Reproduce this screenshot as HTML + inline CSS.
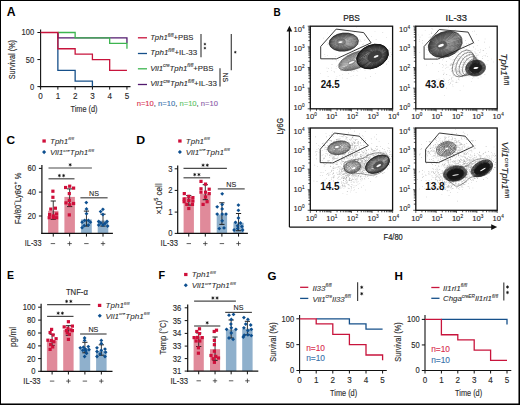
<!DOCTYPE html>
<html><head><meta charset="utf-8"><style>
html,body{margin:0;padding:0;background:#fff;}
body{width:520px;height:405px;overflow:hidden;position:relative;}
svg{position:absolute;left:0;top:0;font-family:"Liberation Sans",sans-serif;}
</style></head><body>
<svg width="520" height="405" viewBox="0 0 520 405">
<rect x="0" y="0" width="520" height="405" fill="#fff"/>
<text x="6.8" y="16" font-size="12.2" text-anchor="start" font-weight="bold" font-style="normal" fill="#000">A</text>
<line x1="40.6" y1="29.6" x2="40.6" y2="87.15" stroke="#111" stroke-width="1.1"/>
<line x1="37.4" y1="32.5" x2="40.6" y2="32.5" stroke="#111" stroke-width="1"/>
<line x1="37.4" y1="59.55" x2="40.6" y2="59.55" stroke="#111" stroke-width="1"/>
<line x1="37.4" y1="86.6" x2="40.6" y2="86.6" stroke="#111" stroke-width="1"/>
<line x1="39.4" y1="86.6" x2="130.5" y2="86.6" stroke="#111" stroke-width="1.1"/>
<line x1="40.6" y1="86.6" x2="40.6" y2="89.6" stroke="#111" stroke-width="1"/>
<line x1="57.87" y1="86.6" x2="57.87" y2="89.6" stroke="#111" stroke-width="1"/>
<line x1="75.14" y1="86.6" x2="75.14" y2="89.6" stroke="#111" stroke-width="1"/>
<line x1="92.41" y1="86.6" x2="92.41" y2="89.6" stroke="#111" stroke-width="1"/>
<line x1="109.68" y1="86.6" x2="109.68" y2="89.6" stroke="#111" stroke-width="1"/>
<line x1="126.95" y1="86.6" x2="126.95" y2="89.6" stroke="#111" stroke-width="1"/>
<text x="34.2" y="35.45" font-size="8.6" text-anchor="end" font-weight="normal" font-style="normal" fill="#2a2a2a" stroke="#2a2a2a" stroke-width="0.13" textLength="12.63" lengthAdjust="spacingAndGlyphs">100</text>
<text x="34.2" y="62.55" font-size="8.6" text-anchor="end" font-weight="normal" font-style="normal" fill="#2a2a2a" stroke="#2a2a2a" stroke-width="0.13" textLength="8.42" lengthAdjust="spacingAndGlyphs">50</text>
<text x="34.2" y="89.55" font-size="8.6" text-anchor="end" font-weight="normal" font-style="normal" fill="#2a2a2a" stroke="#2a2a2a" stroke-width="0.13" textLength="4.21" lengthAdjust="spacingAndGlyphs">0</text>
<text x="40.6" y="99.1" font-size="8.5" text-anchor="middle" font-weight="normal" font-style="normal" fill="#2a2a2a" stroke="#2a2a2a" stroke-width="0.13" textLength="4.49" lengthAdjust="spacingAndGlyphs">0</text>
<text x="57.87" y="99.1" font-size="8.5" text-anchor="middle" font-weight="normal" font-style="normal" fill="#2a2a2a" stroke="#2a2a2a" stroke-width="0.13" textLength="4.49" lengthAdjust="spacingAndGlyphs">1</text>
<text x="75.14" y="99.1" font-size="8.5" text-anchor="middle" font-weight="normal" font-style="normal" fill="#2a2a2a" stroke="#2a2a2a" stroke-width="0.13" textLength="4.49" lengthAdjust="spacingAndGlyphs">2</text>
<text x="92.41" y="99.1" font-size="8.5" text-anchor="middle" font-weight="normal" font-style="normal" fill="#2a2a2a" stroke="#2a2a2a" stroke-width="0.13" textLength="4.49" lengthAdjust="spacingAndGlyphs">3</text>
<text x="109.68" y="99.1" font-size="8.5" text-anchor="middle" font-weight="normal" font-style="normal" fill="#2a2a2a" stroke="#2a2a2a" stroke-width="0.13" textLength="4.49" lengthAdjust="spacingAndGlyphs">4</text>
<text x="126.95" y="99.1" font-size="8.5" text-anchor="middle" font-weight="normal" font-style="normal" fill="#2a2a2a" stroke="#2a2a2a" stroke-width="0.13" textLength="4.49" lengthAdjust="spacingAndGlyphs">5</text>
<text x="84" y="111.6" font-size="9" text-anchor="middle" font-weight="normal" font-style="normal" fill="#2a2a2a" stroke="#2a2a2a" stroke-width="0.13" textLength="27" lengthAdjust="spacingAndGlyphs">Time (d)</text>
<text x="15.3" y="59.6" font-size="9" text-anchor="middle" font-weight="normal" font-style="normal" fill="#2a2a2a" stroke="#2a2a2a" stroke-width="0.13" textLength="39.3" lengthAdjust="spacingAndGlyphs" transform="rotate(-90 15.3 59.6)">Survival (%)</text>
<path d="M57.87 32.5 H57.87 V70.37 H75.14 V81.19 H92.41 V86.6" stroke="#16508a" stroke-width="1.3" fill="none"/>
<path d="M57.87 32.5 H57.87 V37.91 H126.95 V43.32" stroke="#521a6e" stroke-width="1.3" fill="none"/>
<path d="M57.87 32.5 H75.14 V37.91 H109.68 V43.32 H126.95 V48.73" stroke="#3db550" stroke-width="1.3" fill="none"/>
<path d="M40.6 32.5 H57.87 V48.73 H75.14 V54.14 H92.41 V59.55 H109.68 V70.37 H126.95" stroke="#c8143c" stroke-width="1.3" fill="none"/>
<line x1="137.9" y1="37.8" x2="147" y2="37.8" stroke="#c8143c" stroke-width="1.3"/>
<text x="150.2" y="40.2" font-size="7.6" text-anchor="start" font-weight="normal" font-style="normal" fill="#2a2a2a" stroke="#2a2a2a" stroke-width="0.1" textLength="43.2" lengthAdjust="spacingAndGlyphs"><tspan font-size="7.6" font-style="italic" dy="-0">Tph1</tspan><tspan font-size="4.56" font-style="italic" dy="-3.42">fl/fl</tspan><tspan font-size="7.6" font-style="normal" dy="3.42">+PBS</tspan></text>
<line x1="137.9" y1="53.5" x2="147" y2="53.5" stroke="#16508a" stroke-width="1.3"/>
<text x="150.2" y="55.4" font-size="7.6" text-anchor="start" font-weight="normal" font-style="normal" fill="#2a2a2a" stroke="#2a2a2a" stroke-width="0.1" textLength="47" lengthAdjust="spacingAndGlyphs"><tspan font-size="7.6" font-style="italic" dy="-0">Tph1</tspan><tspan font-size="4.56" font-style="italic" dy="-3.42">fl/fl</tspan><tspan font-size="7.6" font-style="normal" dy="3.42">+IL-33</tspan></text>
<line x1="137.9" y1="68.8" x2="147" y2="68.8" stroke="#3db550" stroke-width="1.3"/>
<text x="150.2" y="70.8" font-size="7.6" text-anchor="start" font-weight="normal" font-style="normal" fill="#2a2a2a" stroke="#2a2a2a" stroke-width="0.1" textLength="63.3" lengthAdjust="spacingAndGlyphs"><tspan font-size="7.6" font-style="italic" dy="-0">Vil1</tspan><tspan font-size="4.56" font-style="italic" dy="-3.42">cre</tspan><tspan font-size="7.6" font-style="italic" dy="3.42">Tph1</tspan><tspan font-size="4.56" font-style="italic" dy="-3.42">fl/fl</tspan><tspan font-size="7.6" font-style="normal" dy="3.42">+PBS</tspan></text>
<line x1="137.9" y1="84.5" x2="147" y2="84.5" stroke="#521a6e" stroke-width="1.3"/>
<text x="150.2" y="86.1" font-size="7.6" text-anchor="start" font-weight="normal" font-style="normal" fill="#2a2a2a" stroke="#2a2a2a" stroke-width="0.1" textLength="66.7" lengthAdjust="spacingAndGlyphs"><tspan font-size="7.6" font-style="italic" dy="-0">Vil1</tspan><tspan font-size="4.56" font-style="italic" dy="-3.42">cre</tspan><tspan font-size="7.6" font-style="italic" dy="3.42">Tph1</tspan><tspan font-size="4.56" font-style="italic" dy="-3.42">fl/fl</tspan><tspan font-size="7.6" font-style="normal" dy="3.42">+IL-33</tspan></text>
<line x1="201" y1="34" x2="201" y2="57.3" stroke="#444" stroke-width="1.2"/>
<path d="M204.03 43.6L205.77 44.6M204.9 43.1L204.9 45.1M205.77 43.6L204.03 44.6" stroke="#111" stroke-width="0.5" stroke-linecap="round"/><circle cx="204.9" cy="44.1" r="0.62" fill="#111"/>
<path d="M204.03 47.6L205.77 48.6M204.9 47.1L204.9 49.1M205.77 47.6L204.03 48.6" stroke="#111" stroke-width="0.5" stroke-linecap="round"/><circle cx="204.9" cy="48.1" r="0.62" fill="#111"/>
<line x1="231.3" y1="34" x2="231.3" y2="70.3" stroke="#444" stroke-width="1.2"/>
<path d="M234.43 51.7L236.17 52.7M235.3 51.2L235.3 53.2M236.17 51.7L234.43 52.7" stroke="#111" stroke-width="0.5" stroke-linecap="round"/><circle cx="235.3" cy="52.2" r="0.62" fill="#111"/>
<line x1="220" y1="68.2" x2="220" y2="86.4" stroke="#444" stroke-width="1.2"/>
<text x="223.2" y="77.4" font-size="7.4" text-anchor="middle" font-weight="normal" font-style="normal" fill="#222" stroke="#222" stroke-width="0.13" textLength="9.3" lengthAdjust="spacingAndGlyphs" transform="rotate(90 223.2 77.4)">NS</text>
<text x="136.7" y="106" font-size="8" text-anchor="start" font-weight="normal" font-style="normal" fill="#222" stroke="#222" stroke-width="0.12" textLength="81.3" lengthAdjust="spacingAndGlyphs"><tspan fill="#d9304f" stroke="#d9304f">n=10</tspan><tspan fill="#333" stroke="#333">, </tspan><tspan fill="#3a74ad" stroke="#3a74ad">n=10</tspan><tspan fill="#333" stroke="#333">, </tspan><tspan fill="#5cc463" stroke="#5cc463">n=10</tspan><tspan fill="#333" stroke="#333">, </tspan><tspan fill="#8a5aa8" stroke="#8a5aa8">n=10</tspan></text>
<text x="273.6" y="15.8" font-size="10.8" text-anchor="start" font-weight="bold" font-style="normal" fill="#000" textLength="7.2" lengthAdjust="spacingAndGlyphs">B</text>
<text x="351.5" y="20.8" font-size="9.2" text-anchor="middle" font-weight="normal" font-style="normal" fill="#222" stroke="#222" stroke-width="0.22" textLength="16.6" lengthAdjust="spacingAndGlyphs">PBS</text>
<text x="456.3" y="20.8" font-size="9.2" text-anchor="middle" font-weight="normal" font-style="normal" fill="#222" stroke="#222" stroke-width="0.22" textLength="21.4" lengthAdjust="spacingAndGlyphs">IL-33</text>
<line x1="289.4" y1="29" x2="289.4" y2="227.1" stroke="#111" stroke-width="1.2"/>
<line x1="289.4" y1="227.1" x2="492" y2="227.1" stroke="#111" stroke-width="1.2"/>
<polygon points="289.4,25.8 286.6,31.6 292.2,31.6" fill="#111"/>
<polygon points="497.2,227.1 491.2,224.3 491.2,229.9" fill="#111"/>
<text x="282.6" y="126.3" font-size="9.2" text-anchor="middle" font-weight="normal" font-style="normal" fill="#222" stroke="#222" stroke-width="0.2" textLength="16.5" lengthAdjust="spacingAndGlyphs" transform="rotate(-90 282.6 126.3)">Ly6G</text>
<text x="393.2" y="240.3" font-size="9.4" text-anchor="middle" font-weight="normal" font-style="normal" fill="#222" stroke="#222" stroke-width="0.2" textLength="19.2" lengthAdjust="spacingAndGlyphs">F4/80</text>
<text x="501.4" y="69.2" font-size="8.4" text-anchor="middle" font-weight="normal" font-style="normal" fill="#222" stroke="#222" stroke-width="0.12" textLength="32" lengthAdjust="spacingAndGlyphs" transform="rotate(90 501.4 69.2)"><tspan font-size="8.4" font-style="italic" dy="-0">Tph1</tspan><tspan font-size="6.3" font-style="normal" dy="-2.69">fl/fl</tspan></text>
<text x="502.4" y="170" font-size="8.6" text-anchor="middle" font-weight="normal" font-style="normal" fill="#222" stroke="#222" stroke-width="0.12" textLength="56.5" lengthAdjust="spacingAndGlyphs" transform="rotate(90 502.4 170)"><tspan font-size="8.6" font-style="italic" dy="-0">Vil1</tspan><tspan font-size="6.19" font-style="normal" dy="-2.75">cre</tspan><tspan font-size="8.6" font-style="italic" dy="2.75">Tph1</tspan><tspan font-size="6.19" font-style="normal" dy="-2.75">fl/fl</tspan></text>
<path fill="#5a5a5a" opacity="0.4" d="M359.5 64.9h0.6v0.6h-0.6zM357.8 59.3h0.6v0.6h-0.6zM347.6 64.2h0.6v0.6h-0.6zM379.6 56.1h0.6v0.6h-0.6zM378.0 55.4h0.6v0.6h-0.6zM368.3 58.8h0.6v0.6h-0.6zM339.5 75.5h0.6v0.6h-0.6zM370.8 60.2h0.6v0.6h-0.6zM332.3 58.8h0.6v0.6h-0.6zM347.6 62.3h0.6v0.6h-0.6zM366.4 57.9h0.6v0.6h-0.6zM368.0 52.7h0.6v0.6h-0.6zM367.6 60.7h0.6v0.6h-0.6zM356.7 75.1h0.6v0.6h-0.6zM373.4 64.4h0.6v0.6h-0.6zM350.9 58.9h0.6v0.6h-0.6zM356.6 61.4h0.6v0.6h-0.6zM372.0 57.8h0.6v0.6h-0.6zM352.9 56.5h0.6v0.6h-0.6zM357.5 71.0h0.6v0.6h-0.6zM350.7 66.4h0.6v0.6h-0.6zM364.4 47.8h0.6v0.6h-0.6zM366.1 68.2h0.6v0.6h-0.6zM331.3 70.0h0.6v0.6h-0.6zM358.3 55.3h0.6v0.6h-0.6zM369.2 56.6h0.6v0.6h-0.6zM342.4 74.2h0.6v0.6h-0.6zM374.4 62.1h0.6v0.6h-0.6zM384.3 53.7h0.6v0.6h-0.6zM360.4 50.9h0.6v0.6h-0.6zM369.5 52.3h0.6v0.6h-0.6zM352.0 54.5h0.6v0.6h-0.6zM346.3 62.4h0.6v0.6h-0.6zM375.8 39.1h0.6v0.6h-0.6zM341.0 70.3h0.6v0.6h-0.6zM384.9 55.1h0.6v0.6h-0.6zM327.2 55.0h0.6v0.6h-0.6zM365.4 53.1h0.6v0.6h-0.6zM348.0 73.1h0.6v0.6h-0.6zM378.8 54.4h0.6v0.6h-0.6zM366.8 61.3h0.6v0.6h-0.6zM387.3 54.5h0.6v0.6h-0.6zM371.1 60.4h0.6v0.6h-0.6zM342.1 77.7h0.6v0.6h-0.6zM377.6 57.7h0.6v0.6h-0.6zM331.1 67.7h0.6v0.6h-0.6zM369.7 43.2h0.6v0.6h-0.6zM361.9 67.7h0.6v0.6h-0.6zM346.8 78.3h0.6v0.6h-0.6zM369.8 55.7h0.6v0.6h-0.6zM368.5 62.3h0.6v0.6h-0.6zM366.8 66.7h0.6v0.6h-0.6zM351.1 61.3h0.6v0.6h-0.6zM377.5 53.9h0.6v0.6h-0.6zM351.4 71.4h0.6v0.6h-0.6zM382.6 48.3h0.6v0.6h-0.6zM341.2 67.4h0.6v0.6h-0.6zM359.0 59.0h0.6v0.6h-0.6zM380.1 44.9h0.6v0.6h-0.6zM377.4 44.2h0.6v0.6h-0.6zM352.0 68.8h0.6v0.6h-0.6zM381.0 58.8h0.6v0.6h-0.6zM367.5 58.9h0.6v0.6h-0.6zM365.8 62.8h0.6v0.6h-0.6zM360.1 62.9h0.6v0.6h-0.6zM370.5 56.6h0.6v0.6h-0.6zM374.8 59.1h0.6v0.6h-0.6zM354.7 60.1h0.6v0.6h-0.6zM364.2 66.1h0.6v0.6h-0.6zM358.0 64.5h0.6v0.6h-0.6zM382.5 32.3h0.6v0.6h-0.6zM346.0 68.3h0.6v0.6h-0.6zM368.5 59.2h0.6v0.6h-0.6zM357.3 66.8h0.6v0.6h-0.6zM364.8 54.9h0.6v0.6h-0.6zM353.5 62.7h0.6v0.6h-0.6zM358.5 60.9h0.6v0.6h-0.6zM320.3 73.2h0.6v0.6h-0.6zM373.9 46.4h0.6v0.6h-0.6zM363.5 66.6h0.6v0.6h-0.6zM378.6 64.5h0.6v0.6h-0.6zM335.8 67.9h0.6v0.6h-0.6zM358.6 66.1h0.6v0.6h-0.6zM371.2 36.0h0.6v0.6h-0.6zM374.4 44.1h0.6v0.6h-0.6zM368.2 46.2h0.6v0.6h-0.6zM367.7 66.7h0.6v0.6h-0.6zM360.3 62.1h0.6v0.6h-0.6zM374.2 56.1h0.6v0.6h-0.6zM364.7 70.5h0.6v0.6h-0.6zM376.8 51.8h0.6v0.6h-0.6zM374.9 52.8h0.6v0.6h-0.6zM365.8 63.8h0.6v0.6h-0.6zM367.0 62.8h0.6v0.6h-0.6zM335.4 59.4h0.6v0.6h-0.6zM368.6 50.1h0.6v0.6h-0.6zM342.9 56.6h0.6v0.6h-0.6zM382.7 57.3h0.6v0.6h-0.6zM381.4 45.1h0.6v0.6h-0.6zM359.0 52.6h0.6v0.6h-0.6zM377.5 65.7h0.6v0.6h-0.6zM352.9 75.5h0.6v0.6h-0.6zM376.2 52.9h0.6v0.6h-0.6zM336.4 80.9h0.6v0.6h-0.6zM359.0 56.7h0.6v0.6h-0.6zM369.0 60.3h0.6v0.6h-0.6zM381.5 44.4h0.6v0.6h-0.6zM382.8 62.8h0.6v0.6h-0.6zM383.1 50.1h0.6v0.6h-0.6zM353.6 71.1h0.6v0.6h-0.6zM364.0 60.1h0.6v0.6h-0.6zM382.4 49.8h0.6v0.6h-0.6zM326.9 71.3h0.6v0.6h-0.6zM336.6 76.4h0.6v0.6h-0.6zM365.1 54.1h0.6v0.6h-0.6zM364.0 65.5h0.6v0.6h-0.6zM366.6 68.1h0.6v0.6h-0.6zM363.8 67.1h0.6v0.6h-0.6zM388.3 61.5h0.6v0.6h-0.6zM354.3 69.7h0.6v0.6h-0.6zM331.3 64.2h0.6v0.6h-0.6zM335.7 78.7h0.6v0.6h-0.6zM343.7 67.3h0.6v0.6h-0.6zM359.1 61.0h0.6v0.6h-0.6zM353.8 65.1h0.6v0.6h-0.6zM388.7 49.6h0.6v0.6h-0.6zM372.5 63.3h0.6v0.6h-0.6zM355.8 53.0h0.6v0.6h-0.6zM356.6 70.3h0.6v0.6h-0.6zM336.0 66.0h0.6v0.6h-0.6zM379.0 59.1h0.6v0.6h-0.6zM364.2 65.2h0.6v0.6h-0.6zM361.4 51.4h0.6v0.6h-0.6zM337.1 65.2h0.6v0.6h-0.6zM374.2 50.8h0.6v0.6h-0.6zM346.6 60.4h0.6v0.6h-0.6zM339.0 68.4h0.6v0.6h-0.6zM345.5 69.4h0.6v0.6h-0.6zM327.8 76.3h0.6v0.6h-0.6zM347.4 51.2h0.6v0.6h-0.6zM372.0 53.9h0.6v0.6h-0.6zM326.6 67.7h0.6v0.6h-0.6zM365.1 55.3h0.6v0.6h-0.6zM375.5 60.2h0.6v0.6h-0.6zM372.7 58.1h0.6v0.6h-0.6zM383.5 56.3h0.6v0.6h-0.6zM363.2 43.8h0.6v0.6h-0.6zM378.7 63.1h0.6v0.6h-0.6zM356.4 58.7h0.6v0.6h-0.6zM386.2 37.0h0.6v0.6h-0.6zM375.3 72.9h0.6v0.6h-0.6zM350.0 70.0h0.6v0.6h-0.6zM389.7 47.9h0.6v0.6h-0.6zM372.7 62.5h0.6v0.6h-0.6zM348.3 64.9h0.6v0.6h-0.6zM368.5 63.6h0.6v0.6h-0.6zM361.0 58.9h0.6v0.6h-0.6zM346.0 63.8h0.6v0.6h-0.6zM375.5 55.3h0.6v0.6h-0.6zM347.1 59.7h0.6v0.6h-0.6zM364.7 39.4h0.6v0.6h-0.6zM372.5 59.4h0.6v0.6h-0.6zM388.1 52.7h0.6v0.6h-0.6zM362.4 63.8h0.6v0.6h-0.6zM335.9 78.4h0.6v0.6h-0.6zM365.0 53.5h0.6v0.6h-0.6zM386.4 63.8h0.6v0.6h-0.6zM339.4 64.1h0.6v0.6h-0.6zM366.8 59.4h0.6v0.6h-0.6zM353.5 56.1h0.6v0.6h-0.6zM340.8 58.4h0.6v0.6h-0.6zM389.9 56.2h0.6v0.6h-0.6zM391.1 54.3h0.6v0.6h-0.6zM349.7 66.9h0.6v0.6h-0.6zM328.0 68.1h0.6v0.6h-0.6zM362.5 63.7h0.6v0.6h-0.6zM350.9 63.6h0.6v0.6h-0.6zM369.8 59.7h0.6v0.6h-0.6zM372.0 57.5h0.6v0.6h-0.6zM359.3 67.1h0.6v0.6h-0.6zM360.6 54.3h0.6v0.6h-0.6zM352.7 63.7h0.6v0.6h-0.6zM360.8 61.7h0.6v0.6h-0.6zM362.5 61.1h0.6v0.6h-0.6zM356.7 52.6h0.6v0.6h-0.6zM371.0 64.3h0.6v0.6h-0.6zM368.0 56.2h0.6v0.6h-0.6zM366.1 51.1h0.6v0.6h-0.6zM334.0 71.8h0.6v0.6h-0.6zM350.1 70.4h0.6v0.6h-0.6zM339.0 49.4h0.6v0.6h-0.6zM350.7 76.5h0.6v0.6h-0.6zM352.7 53.4h0.6v0.6h-0.6zM352.0 68.0h0.6v0.6h-0.6zM369.8 58.2h0.6v0.6h-0.6zM385.9 55.7h0.6v0.6h-0.6zM363.3 64.0h0.6v0.6h-0.6zM389.1 56.4h0.6v0.6h-0.6zM374.3 46.8h0.6v0.6h-0.6zM361.7 65.6h0.6v0.6h-0.6zM360.4 68.7h0.6v0.6h-0.6zM373.2 62.3h0.6v0.6h-0.6zM365.5 77.8h0.6v0.6h-0.6zM379.8 51.2h0.6v0.6h-0.6zM370.1 76.3h0.6v0.6h-0.6zM359.2 67.7h0.6v0.6h-0.6zM376.6 54.2h0.6v0.6h-0.6zM345.2 68.2h0.6v0.6h-0.6zM370.3 65.2h0.6v0.6h-0.6zM373.7 55.5h0.6v0.6h-0.6zM376.1 58.4h0.6v0.6h-0.6zM365.2 59.1h0.6v0.6h-0.6zM360.2 65.9h0.6v0.6h-0.6zM344.7 62.2h0.6v0.6h-0.6zM358.2 50.5h0.6v0.6h-0.6zM350.3 49.6h0.6v0.6h-0.6zM353.4 67.8h0.6v0.6h-0.6zM370.3 56.3h0.6v0.6h-0.6zM354.8 52.2h0.6v0.6h-0.6zM390.5 52.4h0.6v0.6h-0.6zM375.9 47.7h0.6v0.6h-0.6zM354.5 49.3h0.6v0.6h-0.6zM376.0 61.4h0.6v0.6h-0.6zM333.7 71.0h0.6v0.6h-0.6zM366.7 44.8h0.6v0.6h-0.6zM332.1 64.0h0.6v0.6h-0.6zM349.0 54.7h0.6v0.6h-0.6zM363.1 61.4h0.6v0.6h-0.6zM373.2 60.8h0.6v0.6h-0.6zM387.3 58.6h0.6v0.6h-0.6zM341.2 64.6h0.6v0.6h-0.6zM343.4 59.4h0.6v0.6h-0.6zM360.8 60.5h0.6v0.6h-0.6zM365.1 46.8h0.6v0.6h-0.6zM343.6 67.3h0.6v0.6h-0.6zM358.2 59.2h0.6v0.6h-0.6zM359.1 55.4h0.6v0.6h-0.6zM373.3 58.1h0.6v0.6h-0.6zM358.9 56.2h0.6v0.6h-0.6zM352.3 43.4h0.6v0.6h-0.6zM347.5 66.1h0.6v0.6h-0.6zM340.2 70.3h0.6v0.6h-0.6zM360.6 50.2h0.6v0.6h-0.6zM357.5 59.5h0.6v0.6h-0.6zM370.4 61.2h0.6v0.6h-0.6zM359.2 54.7h0.6v0.6h-0.6zM359.7 60.4h0.6v0.6h-0.6zM373.7 57.5h0.6v0.6h-0.6zM347.7 55.5h0.6v0.6h-0.6zM354.5 57.4h0.6v0.6h-0.6zM345.2 65.9h0.6v0.6h-0.6zM355.0 63.6h0.6v0.6h-0.6zM368.7 54.2h0.6v0.6h-0.6zM378.7 54.2h0.6v0.6h-0.6z"/>
<path fill="#5a5a5a" opacity="0.35" d="M356.3 27.4h0.6v0.6h-0.6zM335.7 45.7h0.6v0.6h-0.6zM350.6 60.4h0.6v0.6h-0.6zM347.5 53.0h0.6v0.6h-0.6zM352.4 50.6h0.6v0.6h-0.6zM349.6 42.9h0.6v0.6h-0.6zM349.6 36.5h0.6v0.6h-0.6zM357.0 36.9h0.6v0.6h-0.6zM346.7 58.8h0.6v0.6h-0.6zM341.5 44.1h0.6v0.6h-0.6zM356.8 44.2h0.6v0.6h-0.6zM335.1 45.8h0.6v0.6h-0.6zM350.4 49.0h0.6v0.6h-0.6zM335.5 56.3h0.6v0.6h-0.6zM362.3 44.1h0.6v0.6h-0.6zM347.0 41.0h0.6v0.6h-0.6zM359.6 39.1h0.6v0.6h-0.6zM351.4 40.6h0.6v0.6h-0.6zM336.4 49.0h0.6v0.6h-0.6zM358.7 43.9h0.6v0.6h-0.6zM336.5 49.7h0.6v0.6h-0.6zM343.5 46.2h0.6v0.6h-0.6zM360.8 51.9h0.6v0.6h-0.6zM338.3 60.0h0.6v0.6h-0.6zM344.0 49.5h0.6v0.6h-0.6zM336.9 43.7h0.6v0.6h-0.6zM324.8 56.5h0.6v0.6h-0.6zM359.0 35.5h0.6v0.6h-0.6zM327.4 32.7h0.6v0.6h-0.6zM356.9 40.8h0.6v0.6h-0.6zM343.3 41.8h0.6v0.6h-0.6zM342.7 36.4h0.6v0.6h-0.6zM344.3 33.9h0.6v0.6h-0.6zM343.2 46.2h0.6v0.6h-0.6zM349.1 42.4h0.6v0.6h-0.6zM334.1 45.1h0.6v0.6h-0.6zM338.7 55.0h0.6v0.6h-0.6zM352.4 43.2h0.6v0.6h-0.6zM338.8 39.1h0.6v0.6h-0.6zM333.7 41.5h0.6v0.6h-0.6zM347.2 47.6h0.6v0.6h-0.6zM350.3 58.7h0.6v0.6h-0.6zM336.2 44.1h0.6v0.6h-0.6zM374.7 30.9h0.6v0.6h-0.6zM338.3 45.2h0.6v0.6h-0.6zM345.7 46.9h0.6v0.6h-0.6zM341.4 46.6h0.6v0.6h-0.6zM344.6 49.4h0.6v0.6h-0.6zM323.2 37.8h0.6v0.6h-0.6zM344.0 36.8h0.6v0.6h-0.6zM332.5 48.4h0.6v0.6h-0.6zM336.9 48.4h0.6v0.6h-0.6zM352.2 46.1h0.6v0.6h-0.6zM349.6 43.3h0.6v0.6h-0.6zM328.5 43.8h0.6v0.6h-0.6zM349.0 40.3h0.6v0.6h-0.6zM342.9 49.2h0.6v0.6h-0.6zM334.3 48.5h0.6v0.6h-0.6zM364.5 40.1h0.6v0.6h-0.6zM345.6 42.9h0.6v0.6h-0.6zM360.9 46.2h0.6v0.6h-0.6zM353.9 39.2h0.6v0.6h-0.6zM343.8 43.9h0.6v0.6h-0.6zM324.5 54.1h0.6v0.6h-0.6zM353.9 31.8h0.6v0.6h-0.6zM352.2 43.1h0.6v0.6h-0.6zM348.9 46.6h0.6v0.6h-0.6zM327.5 42.5h0.6v0.6h-0.6zM360.4 40.0h0.6v0.6h-0.6zM332.7 34.5h0.6v0.6h-0.6zM330.6 46.3h0.6v0.6h-0.6zM362.6 47.0h0.6v0.6h-0.6zM346.7 59.6h0.6v0.6h-0.6zM338.3 39.3h0.6v0.6h-0.6zM349.8 47.8h0.6v0.6h-0.6zM332.8 35.8h0.6v0.6h-0.6zM347.2 45.7h0.6v0.6h-0.6zM329.6 42.6h0.6v0.6h-0.6zM338.0 47.2h0.6v0.6h-0.6zM342.7 43.4h0.6v0.6h-0.6zM340.1 51.4h0.6v0.6h-0.6zM359.3 41.4h0.6v0.6h-0.6zM353.3 38.7h0.6v0.6h-0.6zM344.8 49.2h0.6v0.6h-0.6zM360.7 41.3h0.6v0.6h-0.6zM343.2 45.4h0.6v0.6h-0.6zM327.5 44.1h0.6v0.6h-0.6zM336.6 46.6h0.6v0.6h-0.6zM331.6 30.2h0.6v0.6h-0.6zM344.4 45.8h0.6v0.6h-0.6zM338.0 50.2h0.6v0.6h-0.6zM341.0 39.8h0.6v0.6h-0.6zM349.3 33.0h0.6v0.6h-0.6zM336.5 43.9h0.6v0.6h-0.6zM353.3 42.9h0.6v0.6h-0.6zM347.4 39.4h0.6v0.6h-0.6zM347.3 55.6h0.6v0.6h-0.6zM336.4 60.6h0.6v0.6h-0.6zM336.9 44.1h0.6v0.6h-0.6zM345.9 51.2h0.6v0.6h-0.6z"/>
<path fill="#5a5a5a" opacity="0.45" d="M439.2 59.5h0.6v0.6h-0.6zM472.1 64.7h0.6v0.6h-0.6zM480.7 76.6h0.6v0.6h-0.6zM465.3 64.1h0.6v0.6h-0.6zM473.6 59.5h0.6v0.6h-0.6zM474.0 43.5h0.6v0.6h-0.6zM442.2 44.2h0.6v0.6h-0.6zM468.9 55.5h0.6v0.6h-0.6zM481.7 71.2h0.6v0.6h-0.6zM460.8 62.4h0.6v0.6h-0.6zM452.8 62.2h0.6v0.6h-0.6zM458.2 72.9h0.6v0.6h-0.6zM462.7 64.2h0.6v0.6h-0.6zM464.4 71.3h0.6v0.6h-0.6zM466.6 59.4h0.6v0.6h-0.6zM468.4 58.0h0.6v0.6h-0.6zM456.4 82.1h0.6v0.6h-0.6zM462.6 54.3h0.6v0.6h-0.6zM475.1 58.2h0.6v0.6h-0.6zM452.7 86.2h0.6v0.6h-0.6zM469.6 67.4h0.6v0.6h-0.6zM463.4 61.5h0.6v0.6h-0.6zM450.0 81.9h0.6v0.6h-0.6zM461.0 61.9h0.6v0.6h-0.6zM466.1 61.9h0.6v0.6h-0.6zM467.5 56.5h0.6v0.6h-0.6zM451.8 50.3h0.6v0.6h-0.6zM460.6 71.6h0.6v0.6h-0.6zM474.6 51.6h0.6v0.6h-0.6zM468.0 75.3h0.6v0.6h-0.6zM461.9 71.2h0.6v0.6h-0.6zM480.1 51.7h0.6v0.6h-0.6zM471.8 50.2h0.6v0.6h-0.6zM463.9 61.9h0.6v0.6h-0.6zM468.4 70.5h0.6v0.6h-0.6zM484.4 41.8h0.6v0.6h-0.6zM458.2 71.5h0.6v0.6h-0.6zM453.0 75.1h0.6v0.6h-0.6zM466.8 57.9h0.6v0.6h-0.6zM460.5 49.9h0.6v0.6h-0.6zM463.0 48.2h0.6v0.6h-0.6zM452.0 65.5h0.6v0.6h-0.6zM461.7 72.6h0.6v0.6h-0.6zM461.0 60.8h0.6v0.6h-0.6zM475.0 70.3h0.6v0.6h-0.6zM463.7 66.4h0.6v0.6h-0.6zM476.4 56.5h0.6v0.6h-0.6zM459.8 89.9h0.6v0.6h-0.6zM476.4 34.5h0.6v0.6h-0.6zM463.5 67.0h0.6v0.6h-0.6zM475.4 61.2h0.6v0.6h-0.6zM454.3 59.1h0.6v0.6h-0.6zM467.8 70.0h0.6v0.6h-0.6zM445.7 65.4h0.6v0.6h-0.6zM452.8 51.5h0.6v0.6h-0.6zM457.2 63.1h0.6v0.6h-0.6zM463.6 56.0h0.6v0.6h-0.6zM450.8 68.0h0.6v0.6h-0.6zM458.4 60.0h0.6v0.6h-0.6zM465.6 68.8h0.6v0.6h-0.6zM482.4 66.3h0.6v0.6h-0.6zM451.7 67.1h0.6v0.6h-0.6zM444.3 95.0h0.6v0.6h-0.6zM454.1 69.2h0.6v0.6h-0.6zM461.3 51.2h0.6v0.6h-0.6zM466.8 60.4h0.6v0.6h-0.6zM443.9 79.5h0.6v0.6h-0.6zM466.1 42.9h0.6v0.6h-0.6zM471.6 59.4h0.6v0.6h-0.6zM469.1 63.4h0.6v0.6h-0.6zM474.9 52.8h0.6v0.6h-0.6zM469.4 54.8h0.6v0.6h-0.6zM466.0 53.2h0.6v0.6h-0.6zM468.8 76.2h0.6v0.6h-0.6zM466.0 59.6h0.6v0.6h-0.6zM446.2 67.4h0.6v0.6h-0.6zM468.4 68.7h0.6v0.6h-0.6zM468.9 64.3h0.6v0.6h-0.6zM467.8 73.2h0.6v0.6h-0.6zM455.3 63.3h0.6v0.6h-0.6zM471.7 57.8h0.6v0.6h-0.6zM456.4 62.3h0.6v0.6h-0.6zM462.1 70.0h0.6v0.6h-0.6zM460.2 53.4h0.6v0.6h-0.6zM467.4 62.0h0.6v0.6h-0.6zM454.9 76.5h0.6v0.6h-0.6zM457.5 63.9h0.6v0.6h-0.6zM476.5 66.7h0.6v0.6h-0.6zM456.7 72.0h0.6v0.6h-0.6zM463.3 85.7h0.6v0.6h-0.6zM462.2 75.5h0.6v0.6h-0.6zM458.8 74.1h0.6v0.6h-0.6zM474.0 30.8h0.6v0.6h-0.6zM459.7 70.5h0.6v0.6h-0.6zM457.9 60.3h0.6v0.6h-0.6zM485.3 48.5h0.6v0.6h-0.6zM448.4 81.9h0.6v0.6h-0.6zM448.9 84.4h0.6v0.6h-0.6zM456.5 69.3h0.6v0.6h-0.6zM476.0 55.4h0.6v0.6h-0.6zM439.4 63.3h0.6v0.6h-0.6zM478.0 60.0h0.6v0.6h-0.6zM457.3 75.7h0.6v0.6h-0.6zM470.3 64.5h0.6v0.6h-0.6zM436.6 78.9h0.6v0.6h-0.6zM475.0 62.1h0.6v0.6h-0.6zM460.1 41.3h0.6v0.6h-0.6zM466.1 66.0h0.6v0.6h-0.6zM484.8 38.7h0.6v0.6h-0.6zM458.7 66.7h0.6v0.6h-0.6zM469.4 54.5h0.6v0.6h-0.6zM470.6 50.3h0.6v0.6h-0.6zM462.4 58.6h0.6v0.6h-0.6zM460.5 58.3h0.6v0.6h-0.6zM450.0 83.1h0.6v0.6h-0.6zM462.7 58.1h0.6v0.6h-0.6zM468.7 69.0h0.6v0.6h-0.6zM451.1 70.6h0.6v0.6h-0.6zM470.2 63.4h0.6v0.6h-0.6zM448.8 52.7h0.6v0.6h-0.6zM476.7 56.9h0.6v0.6h-0.6zM460.9 62.1h0.6v0.6h-0.6zM462.9 59.2h0.6v0.6h-0.6zM447.7 66.8h0.6v0.6h-0.6zM452.8 64.4h0.6v0.6h-0.6zM452.6 76.8h0.6v0.6h-0.6zM451.1 78.1h0.6v0.6h-0.6zM452.8 73.9h0.6v0.6h-0.6zM477.6 55.1h0.6v0.6h-0.6zM454.4 69.8h0.6v0.6h-0.6zM455.6 51.5h0.6v0.6h-0.6zM456.3 69.6h0.6v0.6h-0.6zM457.4 68.0h0.6v0.6h-0.6zM473.3 63.6h0.6v0.6h-0.6zM474.3 61.1h0.6v0.6h-0.6zM458.8 66.0h0.6v0.6h-0.6zM457.7 64.0h0.6v0.6h-0.6zM452.2 54.0h0.6v0.6h-0.6zM458.3 66.3h0.6v0.6h-0.6zM451.5 71.1h0.6v0.6h-0.6zM466.7 59.1h0.6v0.6h-0.6zM472.2 31.4h0.6v0.6h-0.6zM451.4 53.6h0.6v0.6h-0.6zM484.6 74.1h0.6v0.6h-0.6zM435.9 83.5h0.6v0.6h-0.6zM466.1 58.1h0.6v0.6h-0.6zM457.6 45.2h0.6v0.6h-0.6zM472.8 60.1h0.6v0.6h-0.6zM459.5 60.0h0.6v0.6h-0.6zM466.6 56.1h0.6v0.6h-0.6zM462.0 59.0h0.6v0.6h-0.6zM437.9 80.5h0.6v0.6h-0.6zM467.6 67.4h0.6v0.6h-0.6zM452.5 70.3h0.6v0.6h-0.6zM469.2 60.4h0.6v0.6h-0.6zM484.4 67.8h0.6v0.6h-0.6zM443.5 58.2h0.6v0.6h-0.6zM478.1 67.6h0.6v0.6h-0.6zM475.6 62.5h0.6v0.6h-0.6zM452.1 63.9h0.6v0.6h-0.6zM467.3 51.4h0.6v0.6h-0.6zM438.1 71.0h0.6v0.6h-0.6zM451.3 64.3h0.6v0.6h-0.6zM461.0 57.4h0.6v0.6h-0.6zM475.6 53.7h0.6v0.6h-0.6zM456.4 80.7h0.6v0.6h-0.6zM456.8 69.8h0.6v0.6h-0.6zM460.4 62.0h0.6v0.6h-0.6zM462.3 57.0h0.6v0.6h-0.6zM432.2 63.3h0.6v0.6h-0.6zM445.0 68.5h0.6v0.6h-0.6zM462.0 64.5h0.6v0.6h-0.6zM468.5 60.6h0.6v0.6h-0.6zM450.3 65.3h0.6v0.6h-0.6zM438.7 78.7h0.6v0.6h-0.6zM469.6 63.9h0.6v0.6h-0.6zM459.9 63.8h0.6v0.6h-0.6zM472.0 57.1h0.6v0.6h-0.6zM472.5 62.3h0.6v0.6h-0.6zM470.3 71.0h0.6v0.6h-0.6zM454.3 65.9h0.6v0.6h-0.6zM449.7 64.8h0.6v0.6h-0.6zM486.6 63.9h0.6v0.6h-0.6zM464.9 67.6h0.6v0.6h-0.6zM478.2 60.5h0.6v0.6h-0.6zM469.0 46.7h0.6v0.6h-0.6zM457.3 71.7h0.6v0.6h-0.6zM477.8 54.0h0.6v0.6h-0.6zM451.2 68.1h0.6v0.6h-0.6zM451.0 63.3h0.6v0.6h-0.6zM475.1 48.7h0.6v0.6h-0.6zM472.1 78.0h0.6v0.6h-0.6zM476.2 57.4h0.6v0.6h-0.6zM457.4 71.3h0.6v0.6h-0.6zM482.1 56.0h0.6v0.6h-0.6zM475.9 55.2h0.6v0.6h-0.6zM466.6 58.8h0.6v0.6h-0.6zM472.5 69.3h0.6v0.6h-0.6zM446.5 74.3h0.6v0.6h-0.6zM461.9 58.5h0.6v0.6h-0.6zM462.3 71.5h0.6v0.6h-0.6zM486.2 53.2h0.6v0.6h-0.6zM458.4 51.4h0.6v0.6h-0.6zM482.9 50.1h0.6v0.6h-0.6zM456.5 56.9h0.6v0.6h-0.6zM456.4 57.2h0.6v0.6h-0.6zM464.9 66.5h0.6v0.6h-0.6zM463.6 65.6h0.6v0.6h-0.6zM459.5 79.7h0.6v0.6h-0.6zM446.7 57.0h0.6v0.6h-0.6zM456.5 60.4h0.6v0.6h-0.6zM449.6 69.2h0.6v0.6h-0.6zM459.7 54.1h0.6v0.6h-0.6zM467.1 74.4h0.6v0.6h-0.6zM468.6 57.9h0.6v0.6h-0.6zM462.8 62.3h0.6v0.6h-0.6zM464.9 69.2h0.6v0.6h-0.6zM450.0 48.9h0.6v0.6h-0.6zM457.7 58.3h0.6v0.6h-0.6zM466.1 55.1h0.6v0.6h-0.6zM473.6 77.2h0.6v0.6h-0.6zM445.7 64.4h0.6v0.6h-0.6zM436.0 58.8h0.6v0.6h-0.6zM443.7 80.4h0.6v0.6h-0.6zM446.6 56.5h0.6v0.6h-0.6zM449.0 79.1h0.6v0.6h-0.6zM452.1 67.4h0.6v0.6h-0.6zM471.7 70.4h0.6v0.6h-0.6zM487.4 56.3h0.6v0.6h-0.6zM464.4 64.1h0.6v0.6h-0.6zM487.7 59.9h0.6v0.6h-0.6zM460.8 69.3h0.6v0.6h-0.6zM465.3 62.2h0.6v0.6h-0.6zM450.6 59.0h0.6v0.6h-0.6zM449.2 57.9h0.6v0.6h-0.6zM477.5 58.4h0.6v0.6h-0.6zM455.6 82.1h0.6v0.6h-0.6zM462.7 44.8h0.6v0.6h-0.6zM485.3 55.6h0.6v0.6h-0.6zM478.3 40.5h0.6v0.6h-0.6zM469.6 62.8h0.6v0.6h-0.6zM464.9 63.6h0.6v0.6h-0.6zM466.4 46.4h0.6v0.6h-0.6zM442.4 64.1h0.6v0.6h-0.6zM453.3 64.2h0.6v0.6h-0.6zM467.1 63.0h0.6v0.6h-0.6zM459.2 59.3h0.6v0.6h-0.6zM461.7 73.5h0.6v0.6h-0.6zM470.6 59.0h0.6v0.6h-0.6zM465.7 76.6h0.6v0.6h-0.6zM458.6 72.7h0.6v0.6h-0.6zM473.1 53.7h0.6v0.6h-0.6zM465.7 50.5h0.6v0.6h-0.6zM473.7 57.8h0.6v0.6h-0.6zM448.2 80.2h0.6v0.6h-0.6zM458.4 79.1h0.6v0.6h-0.6zM454.0 68.0h0.6v0.6h-0.6zM463.5 59.7h0.6v0.6h-0.6zM462.2 58.4h0.6v0.6h-0.6zM469.2 59.0h0.6v0.6h-0.6zM451.6 44.4h0.6v0.6h-0.6zM474.5 55.5h0.6v0.6h-0.6zM443.5 77.9h0.6v0.6h-0.6zM471.9 67.5h0.6v0.6h-0.6zM457.6 82.2h0.6v0.6h-0.6zM471.3 80.9h0.6v0.6h-0.6zM463.6 69.5h0.6v0.6h-0.6zM453.0 59.4h0.6v0.6h-0.6zM477.8 61.8h0.6v0.6h-0.6zM482.3 58.1h0.6v0.6h-0.6zM448.3 57.4h0.6v0.6h-0.6zM452.0 64.4h0.6v0.6h-0.6zM456.0 73.9h0.6v0.6h-0.6zM464.3 59.8h0.6v0.6h-0.6zM463.2 61.8h0.6v0.6h-0.6zM467.7 67.3h0.6v0.6h-0.6zM469.1 52.4h0.6v0.6h-0.6zM452.5 84.6h0.6v0.6h-0.6zM468.3 70.4h0.6v0.6h-0.6zM443.0 74.1h0.6v0.6h-0.6zM455.7 54.4h0.6v0.6h-0.6zM459.8 72.6h0.6v0.6h-0.6zM480.8 66.4h0.6v0.6h-0.6zM446.4 61.3h0.6v0.6h-0.6zM471.9 66.3h0.6v0.6h-0.6zM458.1 54.0h0.6v0.6h-0.6zM474.0 63.4h0.6v0.6h-0.6zM465.7 56.7h0.6v0.6h-0.6zM468.9 66.9h0.6v0.6h-0.6zM447.6 56.1h0.6v0.6h-0.6zM467.7 64.7h0.6v0.6h-0.6zM466.2 69.7h0.6v0.6h-0.6zM455.4 67.8h0.6v0.6h-0.6zM461.4 70.0h0.6v0.6h-0.6zM477.8 50.5h0.6v0.6h-0.6zM490.9 58.7h0.6v0.6h-0.6zM473.1 62.0h0.6v0.6h-0.6zM480.0 49.6h0.6v0.6h-0.6zM455.9 57.9h0.6v0.6h-0.6zM473.2 69.3h0.6v0.6h-0.6zM469.6 62.8h0.6v0.6h-0.6zM460.6 66.6h0.6v0.6h-0.6zM451.6 81.5h0.6v0.6h-0.6zM452.6 59.8h0.6v0.6h-0.6zM450.2 64.2h0.6v0.6h-0.6zM476.0 64.6h0.6v0.6h-0.6zM451.8 80.2h0.6v0.6h-0.6zM468.8 53.6h0.6v0.6h-0.6zM442.7 70.2h0.6v0.6h-0.6zM456.8 71.0h0.6v0.6h-0.6zM448.9 53.4h0.6v0.6h-0.6zM457.4 52.2h0.6v0.6h-0.6zM466.1 49.3h0.6v0.6h-0.6zM450.7 63.6h0.6v0.6h-0.6zM462.2 76.6h0.6v0.6h-0.6zM473.8 61.6h0.6v0.6h-0.6zM458.3 51.5h0.6v0.6h-0.6zM453.9 64.3h0.6v0.6h-0.6zM453.9 74.6h0.6v0.6h-0.6zM450.9 64.9h0.6v0.6h-0.6zM441.4 58.3h0.6v0.6h-0.6zM474.4 68.3h0.6v0.6h-0.6zM459.4 56.3h0.6v0.6h-0.6zM434.0 85.3h0.6v0.6h-0.6zM476.3 56.9h0.6v0.6h-0.6zM478.7 66.8h0.6v0.6h-0.6zM472.0 52.7h0.6v0.6h-0.6zM476.8 61.2h0.6v0.6h-0.6zM443.8 72.8h0.6v0.6h-0.6zM446.3 73.9h0.6v0.6h-0.6zM463.3 52.7h0.6v0.6h-0.6zM446.1 87.8h0.6v0.6h-0.6zM472.8 70.8h0.6v0.6h-0.6zM452.8 80.8h0.6v0.6h-0.6zM493.3 61.7h0.6v0.6h-0.6zM461.0 67.3h0.6v0.6h-0.6zM464.9 71.7h0.6v0.6h-0.6zM473.5 56.8h0.6v0.6h-0.6zM450.9 79.0h0.6v0.6h-0.6zM459.9 71.6h0.6v0.6h-0.6zM472.3 72.7h0.6v0.6h-0.6zM472.0 52.6h0.6v0.6h-0.6zM473.8 73.0h0.6v0.6h-0.6zM458.3 70.8h0.6v0.6h-0.6zM480.4 63.4h0.6v0.6h-0.6zM461.5 51.5h0.6v0.6h-0.6zM449.7 75.0h0.6v0.6h-0.6zM477.8 77.8h0.6v0.6h-0.6zM458.0 77.9h0.6v0.6h-0.6zM462.5 47.3h0.6v0.6h-0.6zM454.0 71.2h0.6v0.6h-0.6zM456.0 66.7h0.6v0.6h-0.6zM463.3 55.2h0.6v0.6h-0.6zM464.0 56.4h0.6v0.6h-0.6zM458.7 71.6h0.6v0.6h-0.6zM457.2 70.2h0.6v0.6h-0.6zM479.2 52.3h0.6v0.6h-0.6zM463.8 69.9h0.6v0.6h-0.6zM463.1 73.8h0.6v0.6h-0.6zM451.2 77.6h0.6v0.6h-0.6zM452.9 62.6h0.6v0.6h-0.6zM476.9 45.2h0.6v0.6h-0.6zM483.7 55.2h0.6v0.6h-0.6zM473.0 46.8h0.6v0.6h-0.6zM481.5 64.6h0.6v0.6h-0.6zM460.2 64.0h0.6v0.6h-0.6zM489.0 46.8h0.6v0.6h-0.6zM454.6 63.0h0.6v0.6h-0.6zM468.3 62.8h0.6v0.6h-0.6zM471.8 74.0h0.6v0.6h-0.6zM460.7 69.5h0.6v0.6h-0.6zM472.9 46.5h0.6v0.6h-0.6zM481.5 68.3h0.6v0.6h-0.6zM442.5 66.9h0.6v0.6h-0.6zM442.5 59.6h0.6v0.6h-0.6zM458.3 48.5h0.6v0.6h-0.6zM474.0 69.8h0.6v0.6h-0.6zM443.3 74.0h0.6v0.6h-0.6zM445.2 83.4h0.6v0.6h-0.6z"/>
<path fill="#5a5a5a" opacity="0.4" d="M434.4 42.9h0.6v0.6h-0.6zM444.7 49.4h0.6v0.6h-0.6zM439.5 45.1h0.6v0.6h-0.6zM436.9 45.9h0.6v0.6h-0.6zM428.8 45.5h0.6v0.6h-0.6zM418.9 41.1h0.6v0.6h-0.6zM468.9 45.6h0.6v0.6h-0.6zM427.6 47.1h0.6v0.6h-0.6zM431.4 31.8h0.6v0.6h-0.6zM434.4 50.9h0.6v0.6h-0.6zM449.0 44.2h0.6v0.6h-0.6zM432.0 36.4h0.6v0.6h-0.6zM461.5 47.0h0.6v0.6h-0.6zM431.6 28.1h0.6v0.6h-0.6zM426.2 64.8h0.6v0.6h-0.6zM429.1 44.4h0.6v0.6h-0.6zM446.7 43.7h0.6v0.6h-0.6zM440.4 34.0h0.6v0.6h-0.6zM430.3 58.5h0.6v0.6h-0.6zM434.2 51.8h0.6v0.6h-0.6zM422.0 42.8h0.6v0.6h-0.6zM447.4 53.3h0.6v0.6h-0.6zM429.4 49.8h0.6v0.6h-0.6zM449.0 39.1h0.6v0.6h-0.6zM450.2 37.8h0.6v0.6h-0.6zM433.7 44.8h0.6v0.6h-0.6zM431.0 33.3h0.6v0.6h-0.6zM438.5 51.1h0.6v0.6h-0.6zM438.7 55.1h0.6v0.6h-0.6zM428.9 34.5h0.6v0.6h-0.6zM464.2 48.2h0.6v0.6h-0.6zM456.3 38.4h0.6v0.6h-0.6zM454.5 47.1h0.6v0.6h-0.6zM452.4 45.2h0.6v0.6h-0.6zM459.7 39.8h0.6v0.6h-0.6zM431.5 33.2h0.6v0.6h-0.6zM459.1 39.1h0.6v0.6h-0.6zM430.4 37.5h0.6v0.6h-0.6zM438.2 34.8h0.6v0.6h-0.6zM440.2 40.0h0.6v0.6h-0.6zM436.8 37.3h0.6v0.6h-0.6zM444.5 41.3h0.6v0.6h-0.6zM445.5 47.0h0.6v0.6h-0.6zM448.4 27.5h0.6v0.6h-0.6zM437.0 38.6h0.6v0.6h-0.6zM454.1 32.4h0.6v0.6h-0.6zM434.7 42.6h0.6v0.6h-0.6zM439.6 52.9h0.6v0.6h-0.6zM438.2 52.7h0.6v0.6h-0.6zM424.9 30.5h0.6v0.6h-0.6zM459.9 48.5h0.6v0.6h-0.6zM450.3 46.0h0.6v0.6h-0.6zM450.3 35.3h0.6v0.6h-0.6zM456.3 40.7h0.6v0.6h-0.6zM456.8 45.7h0.6v0.6h-0.6zM418.3 34.7h0.6v0.6h-0.6zM458.7 43.9h0.6v0.6h-0.6zM438.9 46.9h0.6v0.6h-0.6zM438.5 40.6h0.6v0.6h-0.6zM445.3 46.2h0.6v0.6h-0.6zM463.7 45.4h0.6v0.6h-0.6zM468.4 59.4h0.6v0.6h-0.6zM466.3 53.5h0.6v0.6h-0.6zM445.7 46.1h0.6v0.6h-0.6zM442.1 39.2h0.6v0.6h-0.6zM443.1 39.9h0.6v0.6h-0.6zM465.3 49.3h0.6v0.6h-0.6zM438.2 29.7h0.6v0.6h-0.6zM443.3 41.7h0.6v0.6h-0.6zM429.9 35.9h0.6v0.6h-0.6zM443.1 65.6h0.6v0.6h-0.6zM443.6 43.8h0.6v0.6h-0.6zM462.8 46.1h0.6v0.6h-0.6zM446.2 42.0h0.6v0.6h-0.6zM436.1 57.0h0.6v0.6h-0.6zM457.0 58.7h0.6v0.6h-0.6zM439.5 45.2h0.6v0.6h-0.6zM432.5 52.7h0.6v0.6h-0.6zM425.9 49.5h0.6v0.6h-0.6zM458.2 56.3h0.6v0.6h-0.6zM431.8 53.7h0.6v0.6h-0.6zM434.7 38.9h0.6v0.6h-0.6zM426.8 54.2h0.6v0.6h-0.6zM465.4 40.2h0.6v0.6h-0.6zM434.1 42.3h0.6v0.6h-0.6zM476.6 53.0h0.6v0.6h-0.6zM436.9 30.6h0.6v0.6h-0.6zM435.3 54.5h0.6v0.6h-0.6zM468.3 42.9h0.6v0.6h-0.6zM435.0 40.9h0.6v0.6h-0.6zM419.5 52.3h0.6v0.6h-0.6zM429.9 53.5h0.6v0.6h-0.6zM421.8 34.8h0.6v0.6h-0.6zM447.7 38.9h0.6v0.6h-0.6zM454.2 45.1h0.6v0.6h-0.6zM428.7 50.0h0.6v0.6h-0.6zM454.9 29.7h0.6v0.6h-0.6zM467.7 49.0h0.6v0.6h-0.6zM453.9 30.1h0.6v0.6h-0.6zM434.6 42.2h0.6v0.6h-0.6zM458.0 33.3h0.6v0.6h-0.6zM432.5 28.8h0.6v0.6h-0.6zM440.9 47.8h0.6v0.6h-0.6zM422.1 40.3h0.6v0.6h-0.6zM450.6 57.7h0.6v0.6h-0.6zM452.6 42.6h0.6v0.6h-0.6zM428.7 37.5h0.6v0.6h-0.6zM435.4 46.2h0.6v0.6h-0.6zM443.4 58.3h0.6v0.6h-0.6zM447.7 36.4h0.6v0.6h-0.6zM464.1 52.6h0.6v0.6h-0.6zM445.3 39.2h0.6v0.6h-0.6zM419.7 36.8h0.6v0.6h-0.6zM455.9 38.6h0.6v0.6h-0.6zM426.8 46.6h0.6v0.6h-0.6zM447.2 49.9h0.6v0.6h-0.6zM452.5 56.3h0.6v0.6h-0.6zM433.1 52.8h0.6v0.6h-0.6zM431.2 50.6h0.6v0.6h-0.6zM446.3 46.9h0.6v0.6h-0.6zM456.6 44.9h0.6v0.6h-0.6zM458.5 52.0h0.6v0.6h-0.6zM445.8 40.5h0.6v0.6h-0.6zM434.2 40.8h0.6v0.6h-0.6zM441.4 44.8h0.6v0.6h-0.6zM482.8 50.1h0.6v0.6h-0.6zM454.0 38.1h0.6v0.6h-0.6zM434.8 42.4h0.6v0.6h-0.6zM446.5 36.7h0.6v0.6h-0.6zM465.0 40.5h0.6v0.6h-0.6zM443.9 47.2h0.6v0.6h-0.6zM446.5 49.8h0.6v0.6h-0.6zM447.6 46.3h0.6v0.6h-0.6zM419.4 39.3h0.6v0.6h-0.6zM448.0 43.4h0.6v0.6h-0.6zM433.3 40.3h0.6v0.6h-0.6z"/>
<path fill="#5a5a5a" opacity="0.55" d="M363.2 172.3h0.6v0.6h-0.6zM332.7 158.8h0.6v0.6h-0.6zM352.6 160.6h0.6v0.6h-0.6zM353.1 167.6h0.6v0.6h-0.6zM363.3 165.5h0.6v0.6h-0.6zM363.0 170.0h0.6v0.6h-0.6zM389.1 148.4h0.6v0.6h-0.6zM364.2 161.6h0.6v0.6h-0.6zM365.3 152.8h0.6v0.6h-0.6zM329.2 157.2h0.6v0.6h-0.6zM370.9 162.9h0.6v0.6h-0.6zM359.2 148.8h0.6v0.6h-0.6zM354.6 160.9h0.6v0.6h-0.6zM337.2 164.5h0.6v0.6h-0.6zM374.4 164.3h0.6v0.6h-0.6zM362.5 167.3h0.6v0.6h-0.6zM352.2 167.1h0.6v0.6h-0.6zM363.6 167.3h0.6v0.6h-0.6zM360.6 163.4h0.6v0.6h-0.6zM358.7 160.5h0.6v0.6h-0.6zM372.9 176.5h0.6v0.6h-0.6zM382.4 148.1h0.6v0.6h-0.6zM374.8 166.2h0.6v0.6h-0.6zM372.7 153.2h0.6v0.6h-0.6zM348.2 169.5h0.6v0.6h-0.6zM368.6 155.4h0.6v0.6h-0.6zM355.0 163.2h0.6v0.6h-0.6zM363.6 165.8h0.6v0.6h-0.6zM355.2 157.5h0.6v0.6h-0.6zM385.1 168.6h0.6v0.6h-0.6zM362.0 170.9h0.6v0.6h-0.6zM370.4 166.2h0.6v0.6h-0.6zM368.6 157.1h0.6v0.6h-0.6zM373.1 167.8h0.6v0.6h-0.6zM350.6 180.3h0.6v0.6h-0.6zM355.4 161.7h0.6v0.6h-0.6zM348.8 168.3h0.6v0.6h-0.6zM362.6 168.4h0.6v0.6h-0.6zM332.7 187.4h0.6v0.6h-0.6zM373.9 164.0h0.6v0.6h-0.6zM366.1 161.5h0.6v0.6h-0.6zM358.6 159.4h0.6v0.6h-0.6zM364.9 163.1h0.6v0.6h-0.6zM365.8 157.2h0.6v0.6h-0.6zM362.7 164.1h0.6v0.6h-0.6zM370.1 154.7h0.6v0.6h-0.6zM370.5 168.3h0.6v0.6h-0.6zM371.2 159.1h0.6v0.6h-0.6zM353.5 164.7h0.6v0.6h-0.6zM376.6 170.5h0.6v0.6h-0.6zM358.3 160.7h0.6v0.6h-0.6zM368.5 163.6h0.6v0.6h-0.6zM345.8 163.4h0.6v0.6h-0.6zM361.5 168.7h0.6v0.6h-0.6zM340.7 162.9h0.6v0.6h-0.6zM368.1 154.1h0.6v0.6h-0.6zM364.4 165.7h0.6v0.6h-0.6zM358.5 158.1h0.6v0.6h-0.6zM360.5 162.2h0.6v0.6h-0.6zM366.1 157.3h0.6v0.6h-0.6zM377.1 148.7h0.6v0.6h-0.6zM359.1 164.8h0.6v0.6h-0.6zM376.8 155.9h0.6v0.6h-0.6zM370.0 158.0h0.6v0.6h-0.6zM377.0 171.7h0.6v0.6h-0.6zM356.2 168.5h0.6v0.6h-0.6zM348.4 174.2h0.6v0.6h-0.6zM381.9 158.9h0.6v0.6h-0.6zM344.0 171.5h0.6v0.6h-0.6zM382.7 165.8h0.6v0.6h-0.6zM372.3 148.9h0.6v0.6h-0.6zM353.2 175.9h0.6v0.6h-0.6zM343.8 176.5h0.6v0.6h-0.6zM379.8 157.0h0.6v0.6h-0.6zM341.7 168.7h0.6v0.6h-0.6zM358.7 164.6h0.6v0.6h-0.6zM373.2 160.0h0.6v0.6h-0.6zM365.9 165.8h0.6v0.6h-0.6zM365.0 175.6h0.6v0.6h-0.6zM369.4 162.6h0.6v0.6h-0.6zM357.5 161.0h0.6v0.6h-0.6zM384.3 159.0h0.6v0.6h-0.6zM343.3 165.2h0.6v0.6h-0.6zM359.0 161.8h0.6v0.6h-0.6zM377.9 151.9h0.6v0.6h-0.6zM370.3 162.7h0.6v0.6h-0.6zM342.7 169.5h0.6v0.6h-0.6zM361.3 167.6h0.6v0.6h-0.6zM355.1 167.9h0.6v0.6h-0.6zM332.8 164.5h0.6v0.6h-0.6zM376.6 167.1h0.6v0.6h-0.6zM360.8 160.3h0.6v0.6h-0.6zM376.3 146.1h0.6v0.6h-0.6zM350.0 171.7h0.6v0.6h-0.6zM371.0 154.6h0.6v0.6h-0.6zM333.5 181.4h0.6v0.6h-0.6zM363.0 157.7h0.6v0.6h-0.6zM364.4 169.4h0.6v0.6h-0.6zM321.3 182.4h0.6v0.6h-0.6zM370.7 147.7h0.6v0.6h-0.6zM371.7 149.4h0.6v0.6h-0.6zM381.4 161.5h0.6v0.6h-0.6zM363.8 170.6h0.6v0.6h-0.6zM350.3 162.4h0.6v0.6h-0.6zM355.8 165.2h0.6v0.6h-0.6zM345.0 171.8h0.6v0.6h-0.6zM371.0 162.1h0.6v0.6h-0.6zM389.4 154.5h0.6v0.6h-0.6zM382.5 154.8h0.6v0.6h-0.6zM371.2 148.5h0.6v0.6h-0.6zM365.0 162.0h0.6v0.6h-0.6zM352.8 162.3h0.6v0.6h-0.6zM355.1 161.0h0.6v0.6h-0.6zM325.0 169.9h0.6v0.6h-0.6zM352.1 163.1h0.6v0.6h-0.6zM344.4 167.8h0.6v0.6h-0.6zM374.5 159.0h0.6v0.6h-0.6zM356.2 174.7h0.6v0.6h-0.6zM379.6 165.5h0.6v0.6h-0.6zM380.4 156.9h0.6v0.6h-0.6zM361.7 171.6h0.6v0.6h-0.6zM352.7 165.7h0.6v0.6h-0.6zM368.8 164.7h0.6v0.6h-0.6zM359.1 171.4h0.6v0.6h-0.6zM360.3 169.3h0.6v0.6h-0.6zM380.7 163.4h0.6v0.6h-0.6zM372.1 153.5h0.6v0.6h-0.6zM339.4 165.9h0.6v0.6h-0.6zM372.3 171.3h0.6v0.6h-0.6zM342.4 171.3h0.6v0.6h-0.6zM346.7 163.2h0.6v0.6h-0.6zM358.6 169.6h0.6v0.6h-0.6zM367.5 170.5h0.6v0.6h-0.6zM347.3 173.9h0.6v0.6h-0.6zM377.4 160.3h0.6v0.6h-0.6zM368.9 158.4h0.6v0.6h-0.6zM343.4 166.3h0.6v0.6h-0.6zM356.3 185.0h0.6v0.6h-0.6zM356.8 176.5h0.6v0.6h-0.6zM365.8 165.1h0.6v0.6h-0.6zM372.9 155.8h0.6v0.6h-0.6zM377.7 162.3h0.6v0.6h-0.6zM338.1 174.4h0.6v0.6h-0.6zM371.8 164.4h0.6v0.6h-0.6zM387.3 154.4h0.6v0.6h-0.6zM371.7 166.4h0.6v0.6h-0.6zM349.2 175.5h0.6v0.6h-0.6zM336.0 162.2h0.6v0.6h-0.6zM368.7 154.9h0.6v0.6h-0.6zM357.3 154.2h0.6v0.6h-0.6zM361.2 156.6h0.6v0.6h-0.6zM365.0 152.9h0.6v0.6h-0.6zM368.9 160.4h0.6v0.6h-0.6zM362.9 163.3h0.6v0.6h-0.6zM361.9 155.1h0.6v0.6h-0.6zM319.9 175.5h0.6v0.6h-0.6zM345.9 165.3h0.6v0.6h-0.6zM365.7 149.7h0.6v0.6h-0.6zM348.4 163.5h0.6v0.6h-0.6zM345.2 170.7h0.6v0.6h-0.6zM358.3 159.5h0.6v0.6h-0.6zM347.2 173.4h0.6v0.6h-0.6zM352.2 170.6h0.6v0.6h-0.6zM366.2 150.1h0.6v0.6h-0.6zM344.2 168.8h0.6v0.6h-0.6zM368.9 167.4h0.6v0.6h-0.6zM376.9 167.0h0.6v0.6h-0.6zM355.5 164.3h0.6v0.6h-0.6zM374.0 157.9h0.6v0.6h-0.6zM376.7 149.4h0.6v0.6h-0.6zM372.4 160.0h0.6v0.6h-0.6zM331.4 178.8h0.6v0.6h-0.6zM367.1 162.8h0.6v0.6h-0.6zM343.5 165.8h0.6v0.6h-0.6zM385.4 152.2h0.6v0.6h-0.6zM342.1 168.4h0.6v0.6h-0.6zM354.0 160.0h0.6v0.6h-0.6zM349.9 174.3h0.6v0.6h-0.6zM341.6 182.6h0.6v0.6h-0.6zM351.2 159.5h0.6v0.6h-0.6zM375.9 164.1h0.6v0.6h-0.6zM346.1 173.3h0.6v0.6h-0.6zM330.2 166.3h0.6v0.6h-0.6zM380.1 157.4h0.6v0.6h-0.6zM341.5 173.0h0.6v0.6h-0.6zM377.0 159.8h0.6v0.6h-0.6zM331.7 169.8h0.6v0.6h-0.6zM370.2 167.0h0.6v0.6h-0.6zM354.0 165.9h0.6v0.6h-0.6zM380.2 152.8h0.6v0.6h-0.6zM378.8 141.0h0.6v0.6h-0.6zM374.0 156.2h0.6v0.6h-0.6zM370.7 166.3h0.6v0.6h-0.6zM342.4 168.7h0.6v0.6h-0.6zM366.9 166.6h0.6v0.6h-0.6zM345.1 161.9h0.6v0.6h-0.6zM334.7 188.4h0.6v0.6h-0.6zM358.5 163.4h0.6v0.6h-0.6zM339.0 176.4h0.6v0.6h-0.6zM355.6 175.4h0.6v0.6h-0.6zM376.0 160.4h0.6v0.6h-0.6zM372.1 153.8h0.6v0.6h-0.6zM355.7 161.8h0.6v0.6h-0.6zM341.2 169.7h0.6v0.6h-0.6zM362.0 173.7h0.6v0.6h-0.6zM346.1 165.1h0.6v0.6h-0.6zM369.6 164.7h0.6v0.6h-0.6zM361.7 160.9h0.6v0.6h-0.6zM370.7 164.1h0.6v0.6h-0.6zM331.3 170.5h0.6v0.6h-0.6zM337.4 162.6h0.6v0.6h-0.6zM364.5 163.7h0.6v0.6h-0.6zM362.4 158.0h0.6v0.6h-0.6zM357.2 159.2h0.6v0.6h-0.6zM369.4 166.6h0.6v0.6h-0.6zM348.0 164.7h0.6v0.6h-0.6zM347.1 170.1h0.6v0.6h-0.6zM323.8 165.8h0.6v0.6h-0.6zM341.6 172.9h0.6v0.6h-0.6zM362.5 165.9h0.6v0.6h-0.6zM389.9 151.0h0.6v0.6h-0.6zM351.4 180.1h0.6v0.6h-0.6zM366.3 157.6h0.6v0.6h-0.6zM326.1 163.4h0.6v0.6h-0.6zM322.0 175.2h0.6v0.6h-0.6zM364.4 170.0h0.6v0.6h-0.6zM358.5 160.3h0.6v0.6h-0.6zM353.0 179.2h0.6v0.6h-0.6zM333.3 172.9h0.6v0.6h-0.6zM363.5 167.8h0.6v0.6h-0.6zM356.2 168.9h0.6v0.6h-0.6zM375.1 159.5h0.6v0.6h-0.6zM354.2 164.8h0.6v0.6h-0.6zM345.8 166.9h0.6v0.6h-0.6zM357.4 166.6h0.6v0.6h-0.6zM386.1 166.3h0.6v0.6h-0.6zM355.7 169.7h0.6v0.6h-0.6zM368.1 167.5h0.6v0.6h-0.6zM362.8 165.6h0.6v0.6h-0.6zM353.0 161.1h0.6v0.6h-0.6zM378.5 168.3h0.6v0.6h-0.6zM373.6 163.8h0.6v0.6h-0.6zM365.6 160.0h0.6v0.6h-0.6zM333.8 176.0h0.6v0.6h-0.6zM364.3 159.6h0.6v0.6h-0.6zM348.3 176.3h0.6v0.6h-0.6zM335.3 183.0h0.6v0.6h-0.6zM376.5 176.1h0.6v0.6h-0.6zM350.2 167.0h0.6v0.6h-0.6zM353.9 167.2h0.6v0.6h-0.6zM357.3 160.2h0.6v0.6h-0.6zM378.3 154.3h0.6v0.6h-0.6zM354.6 169.7h0.6v0.6h-0.6zM352.4 163.6h0.6v0.6h-0.6zM367.2 160.1h0.6v0.6h-0.6zM341.4 168.8h0.6v0.6h-0.6zM361.3 175.7h0.6v0.6h-0.6zM345.6 174.9h0.6v0.6h-0.6zM348.5 165.2h0.6v0.6h-0.6zM357.1 167.1h0.6v0.6h-0.6zM379.1 171.2h0.6v0.6h-0.6zM353.8 175.2h0.6v0.6h-0.6zM379.7 164.7h0.6v0.6h-0.6zM351.0 173.0h0.6v0.6h-0.6zM360.8 166.7h0.6v0.6h-0.6zM358.7 169.4h0.6v0.6h-0.6zM382.2 166.2h0.6v0.6h-0.6zM360.3 171.2h0.6v0.6h-0.6zM384.3 151.7h0.6v0.6h-0.6zM383.9 149.1h0.6v0.6h-0.6zM371.9 165.3h0.6v0.6h-0.6zM386.8 159.2h0.6v0.6h-0.6zM352.8 161.1h0.6v0.6h-0.6zM342.7 174.3h0.6v0.6h-0.6zM356.9 160.5h0.6v0.6h-0.6zM369.4 156.9h0.6v0.6h-0.6zM354.1 163.0h0.6v0.6h-0.6zM356.8 154.8h0.6v0.6h-0.6zM366.7 163.2h0.6v0.6h-0.6zM368.7 166.0h0.6v0.6h-0.6zM358.3 171.2h0.6v0.6h-0.6zM376.1 161.6h0.6v0.6h-0.6zM354.5 162.8h0.6v0.6h-0.6zM371.5 154.0h0.6v0.6h-0.6zM358.1 160.0h0.6v0.6h-0.6zM340.1 173.9h0.6v0.6h-0.6zM361.6 164.3h0.6v0.6h-0.6zM373.8 150.8h0.6v0.6h-0.6zM361.4 166.1h0.6v0.6h-0.6zM373.8 153.5h0.6v0.6h-0.6zM374.1 162.2h0.6v0.6h-0.6zM386.2 165.2h0.6v0.6h-0.6zM374.6 175.1h0.6v0.6h-0.6zM361.3 161.3h0.6v0.6h-0.6zM354.8 159.6h0.6v0.6h-0.6zM358.4 152.3h0.6v0.6h-0.6zM361.3 167.0h0.6v0.6h-0.6zM377.7 157.5h0.6v0.6h-0.6zM383.7 153.8h0.6v0.6h-0.6zM356.6 152.8h0.6v0.6h-0.6zM348.2 162.4h0.6v0.6h-0.6zM386.8 160.8h0.6v0.6h-0.6zM345.2 172.0h0.6v0.6h-0.6zM369.3 160.5h0.6v0.6h-0.6zM361.9 162.0h0.6v0.6h-0.6zM350.4 155.5h0.6v0.6h-0.6zM362.7 172.3h0.6v0.6h-0.6zM384.5 156.1h0.6v0.6h-0.6zM349.7 165.9h0.6v0.6h-0.6zM377.0 162.3h0.6v0.6h-0.6zM353.2 168.7h0.6v0.6h-0.6zM359.5 168.0h0.6v0.6h-0.6zM353.1 156.7h0.6v0.6h-0.6zM364.2 168.4h0.6v0.6h-0.6zM344.1 168.1h0.6v0.6h-0.6zM375.4 157.9h0.6v0.6h-0.6zM354.9 179.2h0.6v0.6h-0.6zM377.0 166.7h0.6v0.6h-0.6zM349.5 178.0h0.6v0.6h-0.6zM334.7 167.9h0.6v0.6h-0.6zM376.0 169.0h0.6v0.6h-0.6zM346.1 163.9h0.6v0.6h-0.6zM362.0 151.4h0.6v0.6h-0.6zM373.1 164.7h0.6v0.6h-0.6zM355.7 169.2h0.6v0.6h-0.6zM374.9 162.6h0.6v0.6h-0.6zM372.8 171.0h0.6v0.6h-0.6zM354.6 167.0h0.6v0.6h-0.6zM355.4 172.5h0.6v0.6h-0.6zM356.3 168.6h0.6v0.6h-0.6zM364.3 163.8h0.6v0.6h-0.6zM389.2 156.2h0.6v0.6h-0.6zM385.9 163.0h0.6v0.6h-0.6zM382.7 157.4h0.6v0.6h-0.6zM378.0 164.6h0.6v0.6h-0.6zM352.7 168.3h0.6v0.6h-0.6zM359.9 164.3h0.6v0.6h-0.6zM381.5 154.1h0.6v0.6h-0.6zM332.5 160.6h0.6v0.6h-0.6zM353.8 162.0h0.6v0.6h-0.6zM363.1 167.4h0.6v0.6h-0.6zM390.4 158.4h0.6v0.6h-0.6zM368.2 157.6h0.6v0.6h-0.6zM373.4 169.8h0.6v0.6h-0.6zM380.1 146.5h0.6v0.6h-0.6zM378.7 169.8h0.6v0.6h-0.6zM372.7 151.4h0.6v0.6h-0.6zM358.1 168.9h0.6v0.6h-0.6zM367.3 157.3h0.6v0.6h-0.6zM349.5 173.6h0.6v0.6h-0.6zM343.2 178.3h0.6v0.6h-0.6zM362.8 165.7h0.6v0.6h-0.6zM339.9 166.0h0.6v0.6h-0.6zM370.5 152.2h0.6v0.6h-0.6zM342.8 169.4h0.6v0.6h-0.6zM370.8 166.4h0.6v0.6h-0.6zM355.8 164.3h0.6v0.6h-0.6zM357.3 161.5h0.6v0.6h-0.6zM322.8 180.7h0.6v0.6h-0.6zM366.2 163.9h0.6v0.6h-0.6zM352.5 168.2h0.6v0.6h-0.6zM361.7 163.6h0.6v0.6h-0.6zM376.7 148.9h0.6v0.6h-0.6zM364.3 156.5h0.6v0.6h-0.6zM359.4 174.4h0.6v0.6h-0.6zM344.7 168.0h0.6v0.6h-0.6zM354.2 172.2h0.6v0.6h-0.6zM343.8 158.0h0.6v0.6h-0.6zM369.5 159.7h0.6v0.6h-0.6zM358.7 171.9h0.6v0.6h-0.6zM347.4 165.5h0.6v0.6h-0.6zM365.0 165.9h0.6v0.6h-0.6zM355.5 172.4h0.6v0.6h-0.6zM388.1 143.4h0.6v0.6h-0.6zM383.6 156.0h0.6v0.6h-0.6zM363.6 161.4h0.6v0.6h-0.6zM349.9 159.0h0.6v0.6h-0.6zM357.9 173.5h0.6v0.6h-0.6zM379.4 157.1h0.6v0.6h-0.6zM352.5 162.0h0.6v0.6h-0.6zM346.0 179.9h0.6v0.6h-0.6zM372.7 161.9h0.6v0.6h-0.6zM352.6 159.9h0.6v0.6h-0.6zM384.0 163.1h0.6v0.6h-0.6zM348.6 174.0h0.6v0.6h-0.6zM345.6 172.5h0.6v0.6h-0.6zM346.2 165.6h0.6v0.6h-0.6zM370.5 164.5h0.6v0.6h-0.6zM376.6 154.7h0.6v0.6h-0.6zM389.1 165.4h0.6v0.6h-0.6zM362.6 166.8h0.6v0.6h-0.6zM349.5 166.4h0.6v0.6h-0.6zM341.3 170.1h0.6v0.6h-0.6zM367.3 171.3h0.6v0.6h-0.6zM378.3 164.9h0.6v0.6h-0.6zM355.9 164.2h0.6v0.6h-0.6zM357.0 166.8h0.6v0.6h-0.6zM332.8 176.8h0.6v0.6h-0.6zM336.5 167.5h0.6v0.6h-0.6zM361.5 160.8h0.6v0.6h-0.6zM388.1 156.4h0.6v0.6h-0.6zM388.7 164.4h0.6v0.6h-0.6zM354.8 168.5h0.6v0.6h-0.6zM381.9 156.5h0.6v0.6h-0.6zM362.5 160.3h0.6v0.6h-0.6zM362.4 161.6h0.6v0.6h-0.6zM364.9 169.7h0.6v0.6h-0.6zM384.2 158.9h0.6v0.6h-0.6zM366.6 168.3h0.6v0.6h-0.6zM355.7 158.8h0.6v0.6h-0.6zM378.0 153.7h0.6v0.6h-0.6zM375.1 154.3h0.6v0.6h-0.6zM389.2 150.0h0.6v0.6h-0.6zM377.8 169.5h0.6v0.6h-0.6zM349.2 177.0h0.6v0.6h-0.6zM346.2 156.8h0.6v0.6h-0.6zM374.5 165.2h0.6v0.6h-0.6zM354.7 149.6h0.6v0.6h-0.6zM360.6 162.4h0.6v0.6h-0.6zM355.6 163.9h0.6v0.6h-0.6zM332.9 168.1h0.6v0.6h-0.6zM355.2 161.2h0.6v0.6h-0.6zM370.0 168.7h0.6v0.6h-0.6zM371.5 153.9h0.6v0.6h-0.6zM364.8 164.2h0.6v0.6h-0.6zM386.6 165.1h0.6v0.6h-0.6zM372.2 169.1h0.6v0.6h-0.6zM358.3 174.9h0.6v0.6h-0.6zM355.9 168.2h0.6v0.6h-0.6zM375.0 154.6h0.6v0.6h-0.6zM348.1 156.4h0.6v0.6h-0.6zM364.5 163.0h0.6v0.6h-0.6zM357.7 168.4h0.6v0.6h-0.6zM328.6 172.8h0.6v0.6h-0.6zM362.9 162.0h0.6v0.6h-0.6zM377.3 171.2h0.6v0.6h-0.6zM353.5 160.2h0.6v0.6h-0.6zM352.6 167.1h0.6v0.6h-0.6zM369.8 156.3h0.6v0.6h-0.6zM376.1 153.6h0.6v0.6h-0.6zM375.7 163.1h0.6v0.6h-0.6zM372.8 175.0h0.6v0.6h-0.6zM357.6 164.1h0.6v0.6h-0.6zM370.9 167.2h0.6v0.6h-0.6zM341.3 171.3h0.6v0.6h-0.6zM351.3 170.9h0.6v0.6h-0.6zM383.7 158.5h0.6v0.6h-0.6zM360.6 165.6h0.6v0.6h-0.6zM316.7 181.1h0.6v0.6h-0.6zM371.1 162.6h0.6v0.6h-0.6zM354.6 161.3h0.6v0.6h-0.6zM361.1 172.1h0.6v0.6h-0.6zM362.6 172.6h0.6v0.6h-0.6zM320.7 172.1h0.6v0.6h-0.6zM366.3 162.8h0.6v0.6h-0.6zM334.8 167.0h0.6v0.6h-0.6zM379.6 150.9h0.6v0.6h-0.6zM344.6 161.6h0.6v0.6h-0.6zM354.3 170.2h0.6v0.6h-0.6zM368.1 149.3h0.6v0.6h-0.6zM384.1 154.3h0.6v0.6h-0.6zM355.4 176.5h0.6v0.6h-0.6zM358.7 156.9h0.6v0.6h-0.6zM350.8 162.3h0.6v0.6h-0.6zM345.5 166.3h0.6v0.6h-0.6zM376.4 162.4h0.6v0.6h-0.6zM344.7 186.6h0.6v0.6h-0.6zM346.6 168.9h0.6v0.6h-0.6zM363.7 168.5h0.6v0.6h-0.6zM357.6 168.1h0.6v0.6h-0.6zM345.5 170.6h0.6v0.6h-0.6zM348.7 165.2h0.6v0.6h-0.6zM365.5 165.2h0.6v0.6h-0.6zM358.9 170.3h0.6v0.6h-0.6zM356.9 157.0h0.6v0.6h-0.6zM375.3 158.1h0.6v0.6h-0.6zM380.1 154.9h0.6v0.6h-0.6zM371.5 163.5h0.6v0.6h-0.6zM317.1 166.4h0.6v0.6h-0.6zM346.6 177.2h0.6v0.6h-0.6zM333.7 177.5h0.6v0.6h-0.6zM380.0 162.4h0.6v0.6h-0.6zM371.8 158.2h0.6v0.6h-0.6zM362.2 165.4h0.6v0.6h-0.6zM369.8 166.5h0.6v0.6h-0.6zM357.6 160.6h0.6v0.6h-0.6zM353.8 168.9h0.6v0.6h-0.6zM333.8 163.5h0.6v0.6h-0.6zM354.6 162.4h0.6v0.6h-0.6zM353.4 149.1h0.6v0.6h-0.6zM356.2 163.9h0.6v0.6h-0.6zM371.0 148.8h0.6v0.6h-0.6zM357.9 168.2h0.6v0.6h-0.6zM371.6 169.1h0.6v0.6h-0.6zM376.9 153.2h0.6v0.6h-0.6zM371.5 159.3h0.6v0.6h-0.6zM351.8 176.6h0.6v0.6h-0.6zM350.7 161.5h0.6v0.6h-0.6zM354.2 160.6h0.6v0.6h-0.6zM378.5 162.0h0.6v0.6h-0.6zM384.8 160.6h0.6v0.6h-0.6zM354.0 172.9h0.6v0.6h-0.6zM350.9 164.0h0.6v0.6h-0.6zM359.4 164.9h0.6v0.6h-0.6zM379.9 155.3h0.6v0.6h-0.6zM367.5 162.3h0.6v0.6h-0.6zM340.3 162.7h0.6v0.6h-0.6zM359.2 167.4h0.6v0.6h-0.6zM367.8 165.5h0.6v0.6h-0.6zM362.0 161.1h0.6v0.6h-0.6zM367.1 156.1h0.6v0.6h-0.6zM340.2 167.7h0.6v0.6h-0.6zM338.6 166.9h0.6v0.6h-0.6zM349.3 163.8h0.6v0.6h-0.6zM360.0 159.3h0.6v0.6h-0.6zM352.5 155.4h0.6v0.6h-0.6zM362.9 158.1h0.6v0.6h-0.6zM363.8 145.2h0.6v0.6h-0.6zM349.7 168.9h0.6v0.6h-0.6zM322.8 172.2h0.6v0.6h-0.6zM363.7 164.2h0.6v0.6h-0.6zM338.7 171.7h0.6v0.6h-0.6zM362.8 157.5h0.6v0.6h-0.6zM373.7 160.5h0.6v0.6h-0.6zM361.6 161.2h0.6v0.6h-0.6zM370.8 162.3h0.6v0.6h-0.6zM380.7 161.9h0.6v0.6h-0.6zM351.9 165.3h0.6v0.6h-0.6zM376.0 157.9h0.6v0.6h-0.6zM368.9 165.5h0.6v0.6h-0.6zM355.4 150.6h0.6v0.6h-0.6zM364.4 164.7h0.6v0.6h-0.6zM362.9 158.8h0.6v0.6h-0.6zM381.0 158.0h0.6v0.6h-0.6zM350.9 162.3h0.6v0.6h-0.6zM365.9 155.9h0.6v0.6h-0.6zM349.4 180.4h0.6v0.6h-0.6zM384.5 164.8h0.6v0.6h-0.6zM384.6 161.8h0.6v0.6h-0.6zM337.2 178.4h0.6v0.6h-0.6zM382.5 161.7h0.6v0.6h-0.6zM332.9 179.9h0.6v0.6h-0.6zM382.9 155.2h0.6v0.6h-0.6zM365.3 168.2h0.6v0.6h-0.6zM362.4 171.0h0.6v0.6h-0.6zM364.4 167.9h0.6v0.6h-0.6zM360.9 154.6h0.6v0.6h-0.6zM351.3 187.5h0.6v0.6h-0.6zM368.6 170.8h0.6v0.6h-0.6zM382.9 169.6h0.6v0.6h-0.6zM369.8 158.0h0.6v0.6h-0.6zM359.2 152.2h0.6v0.6h-0.6zM360.5 170.3h0.6v0.6h-0.6zM327.9 174.4h0.6v0.6h-0.6zM377.3 168.6h0.6v0.6h-0.6zM346.2 164.0h0.6v0.6h-0.6zM330.5 165.8h0.6v0.6h-0.6zM373.9 174.3h0.6v0.6h-0.6zM346.0 177.3h0.6v0.6h-0.6zM368.0 159.2h0.6v0.6h-0.6zM361.3 165.6h0.6v0.6h-0.6zM379.9 168.1h0.6v0.6h-0.6zM370.8 164.0h0.6v0.6h-0.6zM358.4 162.3h0.6v0.6h-0.6zM345.6 181.1h0.6v0.6h-0.6zM351.5 153.2h0.6v0.6h-0.6zM366.2 162.7h0.6v0.6h-0.6zM367.8 174.3h0.6v0.6h-0.6zM359.9 162.8h0.6v0.6h-0.6zM350.0 167.1h0.6v0.6h-0.6zM355.3 167.1h0.6v0.6h-0.6zM351.5 179.4h0.6v0.6h-0.6zM377.1 165.3h0.6v0.6h-0.6zM374.8 165.9h0.6v0.6h-0.6zM375.1 169.7h0.6v0.6h-0.6zM380.3 167.9h0.6v0.6h-0.6zM354.0 166.1h0.6v0.6h-0.6zM351.9 173.0h0.6v0.6h-0.6zM374.5 157.6h0.6v0.6h-0.6zM375.6 177.5h0.6v0.6h-0.6zM379.9 151.9h0.6v0.6h-0.6zM361.6 168.3h0.6v0.6h-0.6zM362.1 166.5h0.6v0.6h-0.6zM381.4 161.0h0.6v0.6h-0.6zM345.6 173.1h0.6v0.6h-0.6zM360.6 165.1h0.6v0.6h-0.6zM350.7 158.0h0.6v0.6h-0.6zM341.5 167.2h0.6v0.6h-0.6zM340.5 152.0h0.6v0.6h-0.6zM378.5 152.0h0.6v0.6h-0.6zM351.3 170.4h0.6v0.6h-0.6zM325.7 182.5h0.6v0.6h-0.6zM350.8 171.3h0.6v0.6h-0.6zM354.8 167.9h0.6v0.6h-0.6zM363.7 163.5h0.6v0.6h-0.6zM330.4 162.8h0.6v0.6h-0.6zM363.6 172.8h0.6v0.6h-0.6zM354.1 169.6h0.6v0.6h-0.6zM365.4 166.3h0.6v0.6h-0.6zM375.4 150.6h0.6v0.6h-0.6zM366.1 161.7h0.6v0.6h-0.6zM355.6 160.1h0.6v0.6h-0.6zM347.7 161.1h0.6v0.6h-0.6zM348.6 184.1h0.6v0.6h-0.6zM389.2 156.8h0.6v0.6h-0.6zM372.3 154.8h0.6v0.6h-0.6zM314.5 164.8h0.6v0.6h-0.6zM366.6 172.2h0.6v0.6h-0.6zM359.7 158.1h0.6v0.6h-0.6zM356.5 158.9h0.6v0.6h-0.6zM339.3 168.6h0.6v0.6h-0.6zM354.3 160.7h0.6v0.6h-0.6zM346.3 162.1h0.6v0.6h-0.6zM368.1 171.5h0.6v0.6h-0.6zM362.3 178.6h0.6v0.6h-0.6zM336.6 172.6h0.6v0.6h-0.6zM343.2 168.0h0.6v0.6h-0.6zM364.6 167.0h0.6v0.6h-0.6zM379.2 155.8h0.6v0.6h-0.6zM341.8 168.2h0.6v0.6h-0.6zM365.6 158.5h0.6v0.6h-0.6zM379.1 170.5h0.6v0.6h-0.6zM339.8 172.3h0.6v0.6h-0.6zM375.1 147.9h0.6v0.6h-0.6zM364.9 161.7h0.6v0.6h-0.6zM341.4 178.2h0.6v0.6h-0.6zM364.7 160.1h0.6v0.6h-0.6zM370.2 166.0h0.6v0.6h-0.6zM375.3 164.2h0.6v0.6h-0.6zM366.6 155.0h0.6v0.6h-0.6zM355.5 166.6h0.6v0.6h-0.6zM321.2 188.9h0.6v0.6h-0.6zM354.2 159.2h0.6v0.6h-0.6zM333.3 173.3h0.6v0.6h-0.6zM361.6 160.3h0.6v0.6h-0.6zM353.9 160.4h0.6v0.6h-0.6zM349.8 166.6h0.6v0.6h-0.6zM352.8 170.9h0.6v0.6h-0.6zM359.9 165.4h0.6v0.6h-0.6zM370.6 170.0h0.6v0.6h-0.6zM372.0 162.8h0.6v0.6h-0.6zM358.1 159.8h0.6v0.6h-0.6zM357.6 169.6h0.6v0.6h-0.6zM365.0 160.7h0.6v0.6h-0.6zM338.2 160.3h0.6v0.6h-0.6zM368.8 168.9h0.6v0.6h-0.6zM365.7 154.0h0.6v0.6h-0.6zM359.0 166.3h0.6v0.6h-0.6zM347.9 170.1h0.6v0.6h-0.6zM357.4 159.8h0.6v0.6h-0.6zM343.5 174.3h0.6v0.6h-0.6zM366.3 157.0h0.6v0.6h-0.6zM347.2 173.8h0.6v0.6h-0.6zM371.0 159.6h0.6v0.6h-0.6zM387.0 155.4h0.6v0.6h-0.6zM346.9 175.2h0.6v0.6h-0.6zM359.6 166.9h0.6v0.6h-0.6zM361.0 157.7h0.6v0.6h-0.6zM342.7 167.9h0.6v0.6h-0.6zM382.8 151.8h0.6v0.6h-0.6zM384.1 159.5h0.6v0.6h-0.6zM344.7 170.4h0.6v0.6h-0.6zM369.6 156.1h0.6v0.6h-0.6zM328.5 175.3h0.6v0.6h-0.6zM345.0 171.4h0.6v0.6h-0.6zM331.2 171.3h0.6v0.6h-0.6zM346.6 158.4h0.6v0.6h-0.6zM358.4 166.1h0.6v0.6h-0.6zM351.2 159.2h0.6v0.6h-0.6zM362.5 152.4h0.6v0.6h-0.6zM371.3 164.7h0.6v0.6h-0.6zM390.2 162.2h0.6v0.6h-0.6zM368.1 164.1h0.6v0.6h-0.6zM360.3 155.8h0.6v0.6h-0.6zM386.2 161.0h0.6v0.6h-0.6zM355.6 158.2h0.6v0.6h-0.6zM386.6 160.9h0.6v0.6h-0.6zM344.2 173.2h0.6v0.6h-0.6zM367.7 159.8h0.6v0.6h-0.6zM353.7 173.2h0.6v0.6h-0.6zM361.3 169.4h0.6v0.6h-0.6zM358.3 169.7h0.6v0.6h-0.6zM373.6 154.3h0.6v0.6h-0.6zM344.8 168.1h0.6v0.6h-0.6zM375.7 162.1h0.6v0.6h-0.6zM379.5 150.3h0.6v0.6h-0.6zM368.8 158.1h0.6v0.6h-0.6zM364.1 165.5h0.6v0.6h-0.6zM346.2 166.7h0.6v0.6h-0.6zM343.9 170.6h0.6v0.6h-0.6zM347.6 164.6h0.6v0.6h-0.6zM364.4 159.1h0.6v0.6h-0.6zM379.3 155.2h0.6v0.6h-0.6zM376.0 162.1h0.6v0.6h-0.6zM345.2 167.1h0.6v0.6h-0.6zM348.1 165.4h0.6v0.6h-0.6zM360.6 176.2h0.6v0.6h-0.6zM357.9 175.3h0.6v0.6h-0.6zM367.0 154.1h0.6v0.6h-0.6zM326.3 178.0h0.6v0.6h-0.6zM331.5 176.9h0.6v0.6h-0.6zM379.0 162.0h0.6v0.6h-0.6zM358.3 163.4h0.6v0.6h-0.6zM365.6 161.1h0.6v0.6h-0.6zM352.9 164.0h0.6v0.6h-0.6zM379.6 155.2h0.6v0.6h-0.6zM366.2 155.4h0.6v0.6h-0.6zM348.4 158.7h0.6v0.6h-0.6zM360.0 169.0h0.6v0.6h-0.6zM366.1 159.7h0.6v0.6h-0.6zM371.2 159.3h0.6v0.6h-0.6zM368.4 164.1h0.6v0.6h-0.6zM366.6 146.6h0.6v0.6h-0.6zM342.6 174.3h0.6v0.6h-0.6zM364.0 178.1h0.6v0.6h-0.6zM357.4 161.6h0.6v0.6h-0.6zM386.6 161.0h0.6v0.6h-0.6zM359.9 169.3h0.6v0.6h-0.6zM348.8 164.6h0.6v0.6h-0.6zM352.8 165.0h0.6v0.6h-0.6zM373.6 157.8h0.6v0.6h-0.6zM366.3 159.6h0.6v0.6h-0.6zM371.5 143.5h0.6v0.6h-0.6zM359.0 165.9h0.6v0.6h-0.6zM346.5 174.7h0.6v0.6h-0.6zM367.5 170.9h0.6v0.6h-0.6zM378.3 163.8h0.6v0.6h-0.6zM357.9 158.0h0.6v0.6h-0.6zM357.8 162.1h0.6v0.6h-0.6zM365.2 160.1h0.6v0.6h-0.6zM379.9 156.2h0.6v0.6h-0.6zM359.7 170.6h0.6v0.6h-0.6zM360.1 156.6h0.6v0.6h-0.6zM368.2 161.1h0.6v0.6h-0.6zM329.7 173.9h0.6v0.6h-0.6zM344.1 164.0h0.6v0.6h-0.6zM370.1 163.8h0.6v0.6h-0.6zM360.9 178.4h0.6v0.6h-0.6zM367.7 158.5h0.6v0.6h-0.6zM365.6 162.3h0.6v0.6h-0.6zM324.5 163.8h0.6v0.6h-0.6zM343.3 182.4h0.6v0.6h-0.6zM358.6 163.1h0.6v0.6h-0.6zM354.6 172.3h0.6v0.6h-0.6zM365.2 174.2h0.6v0.6h-0.6zM377.2 170.6h0.6v0.6h-0.6zM360.8 166.8h0.6v0.6h-0.6zM354.9 164.8h0.6v0.6h-0.6zM333.6 167.8h0.6v0.6h-0.6zM345.9 164.1h0.6v0.6h-0.6zM381.7 160.4h0.6v0.6h-0.6zM382.8 164.0h0.6v0.6h-0.6zM378.2 166.2h0.6v0.6h-0.6zM353.7 171.4h0.6v0.6h-0.6zM356.0 162.2h0.6v0.6h-0.6zM384.4 172.0h0.6v0.6h-0.6zM349.3 178.7h0.6v0.6h-0.6zM373.8 155.3h0.6v0.6h-0.6zM366.9 165.1h0.6v0.6h-0.6zM367.4 160.3h0.6v0.6h-0.6zM341.7 169.6h0.6v0.6h-0.6zM376.9 165.1h0.6v0.6h-0.6zM374.2 167.9h0.6v0.6h-0.6zM346.2 167.9h0.6v0.6h-0.6zM369.0 168.6h0.6v0.6h-0.6zM365.3 166.5h0.6v0.6h-0.6zM367.5 176.1h0.6v0.6h-0.6zM327.4 173.1h0.6v0.6h-0.6zM333.2 172.6h0.6v0.6h-0.6zM338.2 166.0h0.6v0.6h-0.6zM368.3 173.4h0.6v0.6h-0.6zM370.4 166.1h0.6v0.6h-0.6zM378.4 160.9h0.6v0.6h-0.6zM348.3 167.0h0.6v0.6h-0.6zM366.9 160.9h0.6v0.6h-0.6zM350.9 164.7h0.6v0.6h-0.6zM336.6 164.2h0.6v0.6h-0.6zM360.0 162.2h0.6v0.6h-0.6zM364.9 172.3h0.6v0.6h-0.6zM366.7 162.5h0.6v0.6h-0.6zM341.7 162.5h0.6v0.6h-0.6zM366.5 157.1h0.6v0.6h-0.6zM367.0 155.7h0.6v0.6h-0.6zM364.0 163.0h0.6v0.6h-0.6zM377.1 157.4h0.6v0.6h-0.6zM356.5 167.1h0.6v0.6h-0.6zM365.6 174.0h0.6v0.6h-0.6zM357.1 161.8h0.6v0.6h-0.6zM357.7 168.2h0.6v0.6h-0.6zM366.8 167.2h0.6v0.6h-0.6zM344.1 184.8h0.6v0.6h-0.6zM391.0 156.0h0.6v0.6h-0.6zM343.1 170.1h0.6v0.6h-0.6zM364.9 148.8h0.6v0.6h-0.6zM359.8 155.0h0.6v0.6h-0.6zM371.5 170.4h0.6v0.6h-0.6zM375.9 150.5h0.6v0.6h-0.6zM385.3 163.6h0.6v0.6h-0.6zM357.1 168.6h0.6v0.6h-0.6zM385.4 155.6h0.6v0.6h-0.6zM360.8 160.7h0.6v0.6h-0.6zM376.8 146.1h0.6v0.6h-0.6zM382.9 152.1h0.6v0.6h-0.6zM374.0 150.3h0.6v0.6h-0.6zM346.2 164.4h0.6v0.6h-0.6zM372.5 150.7h0.6v0.6h-0.6zM370.5 157.6h0.6v0.6h-0.6zM381.1 156.9h0.6v0.6h-0.6zM369.4 160.9h0.6v0.6h-0.6zM389.8 154.2h0.6v0.6h-0.6zM364.8 176.1h0.6v0.6h-0.6zM364.3 167.8h0.6v0.6h-0.6zM350.7 168.3h0.6v0.6h-0.6zM326.3 174.2h0.6v0.6h-0.6zM349.3 157.7h0.6v0.6h-0.6zM341.5 176.9h0.6v0.6h-0.6zM366.3 153.0h0.6v0.6h-0.6zM389.5 152.1h0.6v0.6h-0.6zM356.6 167.1h0.6v0.6h-0.6zM341.4 159.0h0.6v0.6h-0.6zM352.1 174.3h0.6v0.6h-0.6zM374.5 150.4h0.6v0.6h-0.6zM381.1 159.1h0.6v0.6h-0.6zM370.0 162.2h0.6v0.6h-0.6zM366.9 156.2h0.6v0.6h-0.6zM346.5 163.6h0.6v0.6h-0.6zM357.2 169.3h0.6v0.6h-0.6zM345.4 178.8h0.6v0.6h-0.6zM351.1 163.1h0.6v0.6h-0.6zM373.8 163.6h0.6v0.6h-0.6zM354.9 159.0h0.6v0.6h-0.6zM343.6 158.6h0.6v0.6h-0.6zM381.8 165.7h0.6v0.6h-0.6zM368.5 167.2h0.6v0.6h-0.6zM376.6 158.4h0.6v0.6h-0.6zM371.1 175.5h0.6v0.6h-0.6zM333.0 162.7h0.6v0.6h-0.6zM348.0 172.6h0.6v0.6h-0.6zM380.2 156.9h0.6v0.6h-0.6zM372.5 160.9h0.6v0.6h-0.6zM365.9 159.5h0.6v0.6h-0.6zM361.6 164.1h0.6v0.6h-0.6zM383.5 172.7h0.6v0.6h-0.6zM334.2 174.9h0.6v0.6h-0.6zM363.5 169.9h0.6v0.6h-0.6zM380.0 164.2h0.6v0.6h-0.6zM373.2 154.8h0.6v0.6h-0.6zM337.7 181.3h0.6v0.6h-0.6zM379.6 153.1h0.6v0.6h-0.6zM383.5 162.6h0.6v0.6h-0.6zM324.7 179.8h0.6v0.6h-0.6zM348.3 175.2h0.6v0.6h-0.6zM350.0 162.4h0.6v0.6h-0.6zM337.2 169.2h0.6v0.6h-0.6zM377.0 155.6h0.6v0.6h-0.6zM336.1 184.9h0.6v0.6h-0.6zM351.5 159.0h0.6v0.6h-0.6zM337.0 174.3h0.6v0.6h-0.6zM380.8 152.1h0.6v0.6h-0.6zM361.5 162.3h0.6v0.6h-0.6zM358.8 168.1h0.6v0.6h-0.6zM377.2 167.0h0.6v0.6h-0.6zM357.3 164.3h0.6v0.6h-0.6zM342.5 176.2h0.6v0.6h-0.6zM352.5 162.3h0.6v0.6h-0.6zM361.7 158.5h0.6v0.6h-0.6zM345.0 166.6h0.6v0.6h-0.6zM385.2 156.5h0.6v0.6h-0.6zM368.0 152.9h0.6v0.6h-0.6zM334.1 183.3h0.6v0.6h-0.6zM353.2 156.4h0.6v0.6h-0.6zM361.3 168.1h0.6v0.6h-0.6zM333.2 166.0h0.6v0.6h-0.6zM364.6 157.3h0.6v0.6h-0.6zM376.2 166.4h0.6v0.6h-0.6zM368.3 159.5h0.6v0.6h-0.6zM360.2 160.4h0.6v0.6h-0.6zM360.4 166.5h0.6v0.6h-0.6zM358.8 171.2h0.6v0.6h-0.6zM368.8 167.5h0.6v0.6h-0.6zM371.8 159.8h0.6v0.6h-0.6zM356.0 172.1h0.6v0.6h-0.6zM372.7 164.4h0.6v0.6h-0.6zM350.3 171.2h0.6v0.6h-0.6zM374.3 159.5h0.6v0.6h-0.6zM375.8 174.4h0.6v0.6h-0.6zM333.2 175.7h0.6v0.6h-0.6zM341.2 160.7h0.6v0.6h-0.6zM359.2 168.3h0.6v0.6h-0.6zM360.9 156.7h0.6v0.6h-0.6zM338.3 166.7h0.6v0.6h-0.6zM360.9 158.9h0.6v0.6h-0.6zM341.0 181.0h0.6v0.6h-0.6zM348.4 166.6h0.6v0.6h-0.6zM352.3 162.8h0.6v0.6h-0.6zM362.2 162.0h0.6v0.6h-0.6zM369.9 154.2h0.6v0.6h-0.6zM341.6 182.2h0.6v0.6h-0.6zM362.1 169.0h0.6v0.6h-0.6zM381.6 162.3h0.6v0.6h-0.6zM360.0 154.4h0.6v0.6h-0.6zM338.1 176.8h0.6v0.6h-0.6zM373.7 164.6h0.6v0.6h-0.6zM332.2 158.1h0.6v0.6h-0.6zM343.3 161.3h0.6v0.6h-0.6zM362.9 157.1h0.6v0.6h-0.6zM386.2 153.5h0.6v0.6h-0.6zM354.5 171.7h0.6v0.6h-0.6zM365.8 157.1h0.6v0.6h-0.6zM378.2 172.2h0.6v0.6h-0.6zM342.1 167.7h0.6v0.6h-0.6zM341.7 156.8h0.6v0.6h-0.6zM373.1 165.6h0.6v0.6h-0.6zM378.2 162.5h0.6v0.6h-0.6zM329.9 172.4h0.6v0.6h-0.6zM349.4 159.7h0.6v0.6h-0.6zM345.6 173.4h0.6v0.6h-0.6zM360.5 177.2h0.6v0.6h-0.6zM366.4 150.4h0.6v0.6h-0.6zM378.3 167.8h0.6v0.6h-0.6zM360.5 156.5h0.6v0.6h-0.6zM388.1 148.4h0.6v0.6h-0.6zM357.5 152.7h0.6v0.6h-0.6zM339.2 159.0h0.6v0.6h-0.6zM381.3 166.5h0.6v0.6h-0.6zM353.3 157.5h0.6v0.6h-0.6zM361.7 166.6h0.6v0.6h-0.6zM335.7 163.5h0.6v0.6h-0.6zM361.5 168.7h0.6v0.6h-0.6zM363.9 166.4h0.6v0.6h-0.6zM337.9 154.1h0.6v0.6h-0.6zM365.5 157.1h0.6v0.6h-0.6zM359.4 162.2h0.6v0.6h-0.6zM368.4 157.2h0.6v0.6h-0.6zM385.2 158.0h0.6v0.6h-0.6zM371.5 165.6h0.6v0.6h-0.6zM379.3 162.0h0.6v0.6h-0.6zM332.9 167.7h0.6v0.6h-0.6zM371.8 164.5h0.6v0.6h-0.6zM350.6 162.6h0.6v0.6h-0.6zM353.5 173.9h0.6v0.6h-0.6zM370.8 173.4h0.6v0.6h-0.6zM373.1 173.5h0.6v0.6h-0.6zM367.4 154.8h0.6v0.6h-0.6zM390.5 158.6h0.6v0.6h-0.6zM381.5 160.2h0.6v0.6h-0.6zM357.0 166.5h0.6v0.6h-0.6zM342.0 161.5h0.6v0.6h-0.6zM346.8 164.6h0.6v0.6h-0.6zM340.0 169.2h0.6v0.6h-0.6zM370.2 175.2h0.6v0.6h-0.6zM391.6 155.8h0.6v0.6h-0.6zM375.9 158.8h0.6v0.6h-0.6zM368.2 162.1h0.6v0.6h-0.6zM353.4 166.8h0.6v0.6h-0.6zM338.9 173.1h0.6v0.6h-0.6zM355.5 158.6h0.6v0.6h-0.6zM357.1 169.0h0.6v0.6h-0.6zM351.8 169.9h0.6v0.6h-0.6zM373.8 171.2h0.6v0.6h-0.6zM344.3 168.0h0.6v0.6h-0.6zM372.7 171.1h0.6v0.6h-0.6zM367.5 167.5h0.6v0.6h-0.6zM337.3 166.7h0.6v0.6h-0.6zM388.4 155.0h0.6v0.6h-0.6zM354.9 155.3h0.6v0.6h-0.6zM372.7 162.9h0.6v0.6h-0.6zM355.6 156.4h0.6v0.6h-0.6zM362.2 170.2h0.6v0.6h-0.6zM376.0 168.4h0.6v0.6h-0.6zM375.9 160.0h0.6v0.6h-0.6zM372.1 162.4h0.6v0.6h-0.6zM343.2 180.4h0.6v0.6h-0.6zM366.3 155.9h0.6v0.6h-0.6zM368.7 164.1h0.6v0.6h-0.6zM380.6 168.6h0.6v0.6h-0.6zM313.6 180.7h0.6v0.6h-0.6zM385.3 151.5h0.6v0.6h-0.6zM332.3 173.8h0.6v0.6h-0.6zM368.0 164.7h0.6v0.6h-0.6zM343.2 165.9h0.6v0.6h-0.6zM366.4 167.8h0.6v0.6h-0.6zM348.3 152.0h0.6v0.6h-0.6zM379.2 158.5h0.6v0.6h-0.6zM358.6 158.3h0.6v0.6h-0.6zM371.0 149.7h0.6v0.6h-0.6zM364.0 164.3h0.6v0.6h-0.6zM369.1 170.8h0.6v0.6h-0.6zM360.5 165.0h0.6v0.6h-0.6zM373.4 150.6h0.6v0.6h-0.6zM357.4 165.7h0.6v0.6h-0.6zM376.2 154.8h0.6v0.6h-0.6zM375.7 162.9h0.6v0.6h-0.6zM335.3 161.3h0.6v0.6h-0.6zM338.9 171.1h0.6v0.6h-0.6zM366.6 167.6h0.6v0.6h-0.6zM374.5 157.0h0.6v0.6h-0.6zM380.8 164.4h0.6v0.6h-0.6zM370.5 164.9h0.6v0.6h-0.6zM341.6 171.9h0.6v0.6h-0.6zM343.2 161.1h0.6v0.6h-0.6zM356.5 166.4h0.6v0.6h-0.6zM360.6 162.2h0.6v0.6h-0.6zM346.0 169.5h0.6v0.6h-0.6zM347.5 158.5h0.6v0.6h-0.6zM366.0 172.7h0.6v0.6h-0.6zM353.6 159.1h0.6v0.6h-0.6zM387.5 168.6h0.6v0.6h-0.6zM356.8 164.0h0.6v0.6h-0.6zM370.4 181.5h0.6v0.6h-0.6zM365.8 169.6h0.6v0.6h-0.6zM366.2 150.7h0.6v0.6h-0.6zM341.9 161.1h0.6v0.6h-0.6zM369.3 162.8h0.6v0.6h-0.6zM390.8 154.5h0.6v0.6h-0.6zM367.2 163.1h0.6v0.6h-0.6zM368.2 177.9h0.6v0.6h-0.6zM369.1 172.0h0.6v0.6h-0.6zM382.2 154.5h0.6v0.6h-0.6zM372.6 158.6h0.6v0.6h-0.6zM364.1 164.5h0.6v0.6h-0.6zM361.6 161.0h0.6v0.6h-0.6zM387.0 155.5h0.6v0.6h-0.6zM376.3 171.4h0.6v0.6h-0.6zM374.0 167.7h0.6v0.6h-0.6zM386.6 164.7h0.6v0.6h-0.6zM387.7 147.5h0.6v0.6h-0.6zM332.3 167.7h0.6v0.6h-0.6zM339.1 170.0h0.6v0.6h-0.6zM335.9 164.2h0.6v0.6h-0.6zM367.1 163.7h0.6v0.6h-0.6zM348.5 166.0h0.6v0.6h-0.6zM360.5 164.9h0.6v0.6h-0.6zM361.5 162.6h0.6v0.6h-0.6zM373.7 150.1h0.6v0.6h-0.6zM354.1 167.0h0.6v0.6h-0.6zM354.5 162.3h0.6v0.6h-0.6zM355.2 167.2h0.6v0.6h-0.6zM382.1 157.4h0.6v0.6h-0.6zM358.2 167.4h0.6v0.6h-0.6zM354.8 152.9h0.6v0.6h-0.6zM365.8 160.5h0.6v0.6h-0.6zM353.7 170.5h0.6v0.6h-0.6zM361.8 160.3h0.6v0.6h-0.6zM323.4 162.8h0.6v0.6h-0.6zM362.0 163.2h0.6v0.6h-0.6zM369.6 163.5h0.6v0.6h-0.6zM352.0 158.2h0.6v0.6h-0.6zM343.8 167.9h0.6v0.6h-0.6zM344.4 173.8h0.6v0.6h-0.6zM337.2 158.6h0.6v0.6h-0.6zM355.8 153.7h0.6v0.6h-0.6zM387.0 150.6h0.6v0.6h-0.6zM360.7 162.7h0.6v0.6h-0.6zM345.6 156.5h0.6v0.6h-0.6zM332.9 177.6h0.6v0.6h-0.6zM382.4 173.1h0.6v0.6h-0.6zM338.9 174.0h0.6v0.6h-0.6zM363.2 169.4h0.6v0.6h-0.6zM354.8 170.8h0.6v0.6h-0.6zM377.7 163.9h0.6v0.6h-0.6zM385.5 156.5h0.6v0.6h-0.6zM386.2 152.8h0.6v0.6h-0.6z"/>
<path fill="#5a5a5a" opacity="0.55" d="M341.3 143.2h0.6v0.6h-0.6zM343.1 154.1h0.6v0.6h-0.6zM349.9 147.2h0.6v0.6h-0.6zM358.9 136.0h0.6v0.6h-0.6zM334.8 158.5h0.6v0.6h-0.6zM343.4 135.1h0.6v0.6h-0.6zM344.5 140.4h0.6v0.6h-0.6zM359.2 151.9h0.6v0.6h-0.6zM337.4 156.7h0.6v0.6h-0.6zM333.9 155.0h0.6v0.6h-0.6zM348.1 146.1h0.6v0.6h-0.6zM326.3 149.1h0.6v0.6h-0.6zM316.6 149.0h0.6v0.6h-0.6zM323.2 158.7h0.6v0.6h-0.6zM329.0 135.5h0.6v0.6h-0.6zM348.7 149.1h0.6v0.6h-0.6zM338.7 161.5h0.6v0.6h-0.6zM350.4 146.9h0.6v0.6h-0.6zM331.9 131.8h0.6v0.6h-0.6zM348.2 152.8h0.6v0.6h-0.6zM334.1 140.8h0.6v0.6h-0.6zM339.8 138.2h0.6v0.6h-0.6zM342.9 152.5h0.6v0.6h-0.6zM358.6 146.7h0.6v0.6h-0.6zM344.9 152.1h0.6v0.6h-0.6zM356.8 143.4h0.6v0.6h-0.6zM327.9 145.7h0.6v0.6h-0.6zM327.4 145.2h0.6v0.6h-0.6zM341.0 150.3h0.6v0.6h-0.6zM343.8 148.1h0.6v0.6h-0.6zM338.6 151.2h0.6v0.6h-0.6zM352.4 150.8h0.6v0.6h-0.6zM357.9 143.4h0.6v0.6h-0.6zM341.0 158.5h0.6v0.6h-0.6zM344.6 150.1h0.6v0.6h-0.6zM339.4 154.4h0.6v0.6h-0.6zM336.6 142.8h0.6v0.6h-0.6zM340.9 145.5h0.6v0.6h-0.6zM350.6 144.2h0.6v0.6h-0.6zM343.1 146.5h0.6v0.6h-0.6zM345.0 143.6h0.6v0.6h-0.6zM352.5 137.5h0.6v0.6h-0.6zM337.1 144.5h0.6v0.6h-0.6zM349.1 147.0h0.6v0.6h-0.6zM346.9 145.1h0.6v0.6h-0.6zM333.1 142.8h0.6v0.6h-0.6zM337.8 145.5h0.6v0.6h-0.6zM345.4 149.6h0.6v0.6h-0.6zM352.5 145.5h0.6v0.6h-0.6zM332.8 143.2h0.6v0.6h-0.6zM343.0 150.0h0.6v0.6h-0.6zM363.3 145.4h0.6v0.6h-0.6zM363.0 155.7h0.6v0.6h-0.6zM331.9 157.2h0.6v0.6h-0.6zM355.7 153.8h0.6v0.6h-0.6zM342.9 153.7h0.6v0.6h-0.6zM336.7 148.5h0.6v0.6h-0.6zM344.1 158.5h0.6v0.6h-0.6zM340.7 154.1h0.6v0.6h-0.6zM342.0 143.7h0.6v0.6h-0.6zM345.3 151.4h0.6v0.6h-0.6zM334.9 153.1h0.6v0.6h-0.6zM333.4 144.2h0.6v0.6h-0.6zM344.1 146.2h0.6v0.6h-0.6zM329.7 140.2h0.6v0.6h-0.6zM342.5 149.4h0.6v0.6h-0.6zM337.2 150.0h0.6v0.6h-0.6zM325.9 153.2h0.6v0.6h-0.6zM346.8 148.8h0.6v0.6h-0.6zM335.4 149.6h0.6v0.6h-0.6zM344.5 154.1h0.6v0.6h-0.6zM345.3 149.0h0.6v0.6h-0.6zM335.1 154.5h0.6v0.6h-0.6zM354.2 142.8h0.6v0.6h-0.6zM349.2 148.6h0.6v0.6h-0.6zM340.2 140.5h0.6v0.6h-0.6zM359.1 133.6h0.6v0.6h-0.6zM344.9 145.2h0.6v0.6h-0.6zM354.0 143.3h0.6v0.6h-0.6zM343.1 151.5h0.6v0.6h-0.6zM346.4 144.1h0.6v0.6h-0.6zM349.8 149.0h0.6v0.6h-0.6zM352.2 143.1h0.6v0.6h-0.6zM341.1 145.8h0.6v0.6h-0.6zM333.2 151.1h0.6v0.6h-0.6zM347.9 155.6h0.6v0.6h-0.6zM338.9 150.9h0.6v0.6h-0.6zM354.2 145.1h0.6v0.6h-0.6zM342.8 148.7h0.6v0.6h-0.6zM333.5 143.5h0.6v0.6h-0.6zM354.2 146.9h0.6v0.6h-0.6zM339.9 140.8h0.6v0.6h-0.6zM344.5 154.7h0.6v0.6h-0.6zM328.6 144.9h0.6v0.6h-0.6zM355.5 154.3h0.6v0.6h-0.6zM358.2 141.8h0.6v0.6h-0.6zM347.7 142.4h0.6v0.6h-0.6zM347.2 144.9h0.6v0.6h-0.6zM345.5 155.5h0.6v0.6h-0.6zM345.4 145.9h0.6v0.6h-0.6zM342.9 149.5h0.6v0.6h-0.6zM336.7 150.2h0.6v0.6h-0.6zM350.1 156.0h0.6v0.6h-0.6zM318.5 144.9h0.6v0.6h-0.6zM329.6 155.5h0.6v0.6h-0.6zM368.5 144.5h0.6v0.6h-0.6zM344.5 154.5h0.6v0.6h-0.6zM315.5 151.6h0.6v0.6h-0.6zM336.0 146.1h0.6v0.6h-0.6zM345.1 143.9h0.6v0.6h-0.6zM354.0 145.9h0.6v0.6h-0.6zM348.7 162.2h0.6v0.6h-0.6zM338.1 154.3h0.6v0.6h-0.6zM334.4 156.9h0.6v0.6h-0.6zM352.5 147.0h0.6v0.6h-0.6zM354.3 155.6h0.6v0.6h-0.6zM356.8 145.4h0.6v0.6h-0.6zM342.6 154.6h0.6v0.6h-0.6zM325.6 147.3h0.6v0.6h-0.6zM347.8 150.4h0.6v0.6h-0.6zM363.8 154.8h0.6v0.6h-0.6zM345.9 150.0h0.6v0.6h-0.6zM327.7 149.4h0.6v0.6h-0.6zM344.6 146.2h0.6v0.6h-0.6zM343.3 151.4h0.6v0.6h-0.6zM331.2 146.5h0.6v0.6h-0.6zM324.1 158.1h0.6v0.6h-0.6zM328.9 140.0h0.6v0.6h-0.6zM350.0 145.3h0.6v0.6h-0.6zM352.0 144.0h0.6v0.6h-0.6zM365.5 148.2h0.6v0.6h-0.6zM343.7 148.4h0.6v0.6h-0.6zM340.6 153.1h0.6v0.6h-0.6zM363.0 141.8h0.6v0.6h-0.6zM331.0 153.5h0.6v0.6h-0.6zM351.9 137.3h0.6v0.6h-0.6zM333.6 143.5h0.6v0.6h-0.6zM348.5 149.9h0.6v0.6h-0.6zM333.0 142.8h0.6v0.6h-0.6zM347.2 134.7h0.6v0.6h-0.6zM348.7 145.9h0.6v0.6h-0.6zM363.6 150.2h0.6v0.6h-0.6zM335.5 147.5h0.6v0.6h-0.6zM338.3 144.3h0.6v0.6h-0.6zM343.9 153.5h0.6v0.6h-0.6zM325.7 149.5h0.6v0.6h-0.6zM358.7 149.5h0.6v0.6h-0.6zM332.5 144.8h0.6v0.6h-0.6zM331.2 140.3h0.6v0.6h-0.6zM354.4 146.2h0.6v0.6h-0.6zM333.1 141.0h0.6v0.6h-0.6zM337.4 145.7h0.6v0.6h-0.6zM359.9 142.1h0.6v0.6h-0.6zM344.3 154.0h0.6v0.6h-0.6zM348.9 145.7h0.6v0.6h-0.6zM320.2 160.3h0.6v0.6h-0.6zM347.9 144.4h0.6v0.6h-0.6zM340.1 142.6h0.6v0.6h-0.6zM330.9 141.1h0.6v0.6h-0.6zM347.9 150.1h0.6v0.6h-0.6zM344.7 152.2h0.6v0.6h-0.6zM347.8 147.7h0.6v0.6h-0.6zM333.2 153.1h0.6v0.6h-0.6zM355.3 149.4h0.6v0.6h-0.6zM354.8 142.9h0.6v0.6h-0.6zM332.9 157.1h0.6v0.6h-0.6zM336.0 150.5h0.6v0.6h-0.6zM340.0 148.5h0.6v0.6h-0.6zM338.6 145.4h0.6v0.6h-0.6zM325.0 162.4h0.6v0.6h-0.6zM342.2 136.5h0.6v0.6h-0.6zM331.2 143.2h0.6v0.6h-0.6zM331.5 134.6h0.6v0.6h-0.6zM349.8 156.4h0.6v0.6h-0.6zM340.1 152.8h0.6v0.6h-0.6zM347.1 139.7h0.6v0.6h-0.6zM353.2 136.0h0.6v0.6h-0.6zM335.5 147.0h0.6v0.6h-0.6zM355.5 146.3h0.6v0.6h-0.6zM339.9 143.6h0.6v0.6h-0.6zM343.0 148.1h0.6v0.6h-0.6zM351.2 154.7h0.6v0.6h-0.6zM349.8 146.7h0.6v0.6h-0.6zM342.0 157.6h0.6v0.6h-0.6zM344.1 147.5h0.6v0.6h-0.6zM362.7 153.7h0.6v0.6h-0.6zM347.9 146.3h0.6v0.6h-0.6zM336.4 155.4h0.6v0.6h-0.6zM338.2 154.4h0.6v0.6h-0.6zM333.8 150.1h0.6v0.6h-0.6zM346.4 148.1h0.6v0.6h-0.6zM344.9 149.8h0.6v0.6h-0.6zM329.0 143.7h0.6v0.6h-0.6zM342.3 158.7h0.6v0.6h-0.6zM339.7 142.9h0.6v0.6h-0.6zM335.0 149.4h0.6v0.6h-0.6zM354.0 142.5h0.6v0.6h-0.6zM348.1 148.0h0.6v0.6h-0.6zM337.3 143.2h0.6v0.6h-0.6zM339.7 144.1h0.6v0.6h-0.6zM345.9 136.8h0.6v0.6h-0.6zM354.7 150.3h0.6v0.6h-0.6zM349.7 155.6h0.6v0.6h-0.6zM346.6 137.0h0.6v0.6h-0.6zM343.0 150.5h0.6v0.6h-0.6zM333.6 142.8h0.6v0.6h-0.6zM347.1 150.1h0.6v0.6h-0.6zM337.3 147.4h0.6v0.6h-0.6zM336.1 145.7h0.6v0.6h-0.6zM342.5 154.3h0.6v0.6h-0.6zM324.6 149.0h0.6v0.6h-0.6zM359.4 146.8h0.6v0.6h-0.6zM344.5 152.5h0.6v0.6h-0.6zM330.2 142.9h0.6v0.6h-0.6zM323.0 142.7h0.6v0.6h-0.6zM345.5 152.4h0.6v0.6h-0.6zM336.9 144.9h0.6v0.6h-0.6zM346.9 150.8h0.6v0.6h-0.6zM342.8 136.6h0.6v0.6h-0.6zM333.7 134.4h0.6v0.6h-0.6zM343.7 142.7h0.6v0.6h-0.6zM336.6 157.9h0.6v0.6h-0.6zM356.4 148.3h0.6v0.6h-0.6zM345.1 148.5h0.6v0.6h-0.6zM335.8 148.8h0.6v0.6h-0.6zM361.3 139.4h0.6v0.6h-0.6zM335.2 150.2h0.6v0.6h-0.6zM352.3 151.1h0.6v0.6h-0.6zM331.7 149.0h0.6v0.6h-0.6zM338.0 141.4h0.6v0.6h-0.6zM342.3 145.1h0.6v0.6h-0.6zM352.1 148.8h0.6v0.6h-0.6zM333.9 149.9h0.6v0.6h-0.6zM337.6 145.0h0.6v0.6h-0.6zM338.0 155.0h0.6v0.6h-0.6zM335.9 138.9h0.6v0.6h-0.6zM334.7 154.1h0.6v0.6h-0.6zM363.6 137.9h0.6v0.6h-0.6zM337.9 146.8h0.6v0.6h-0.6zM327.6 152.9h0.6v0.6h-0.6zM341.7 149.7h0.6v0.6h-0.6zM365.3 142.3h0.6v0.6h-0.6zM351.2 151.3h0.6v0.6h-0.6zM334.7 145.8h0.6v0.6h-0.6zM359.1 149.2h0.6v0.6h-0.6zM342.4 141.5h0.6v0.6h-0.6zM351.8 149.4h0.6v0.6h-0.6zM366.6 152.4h0.6v0.6h-0.6zM350.7 148.0h0.6v0.6h-0.6zM342.1 144.7h0.6v0.6h-0.6zM345.5 148.8h0.6v0.6h-0.6zM350.0 153.0h0.6v0.6h-0.6zM344.7 144.3h0.6v0.6h-0.6zM352.1 155.4h0.6v0.6h-0.6zM333.6 152.0h0.6v0.6h-0.6zM348.3 150.1h0.6v0.6h-0.6zM347.2 146.5h0.6v0.6h-0.6zM342.6 157.9h0.6v0.6h-0.6zM358.8 136.7h0.6v0.6h-0.6zM315.7 155.2h0.6v0.6h-0.6zM334.4 146.3h0.6v0.6h-0.6zM325.6 153.0h0.6v0.6h-0.6zM340.9 145.0h0.6v0.6h-0.6zM353.9 160.3h0.6v0.6h-0.6zM358.7 152.0h0.6v0.6h-0.6zM338.3 152.5h0.6v0.6h-0.6zM342.8 154.7h0.6v0.6h-0.6zM348.1 146.7h0.6v0.6h-0.6zM347.1 142.9h0.6v0.6h-0.6zM351.9 155.2h0.6v0.6h-0.6zM338.8 151.9h0.6v0.6h-0.6zM325.4 156.5h0.6v0.6h-0.6zM350.2 140.5h0.6v0.6h-0.6zM360.5 145.4h0.6v0.6h-0.6zM322.4 143.4h0.6v0.6h-0.6zM350.9 144.8h0.6v0.6h-0.6zM352.0 137.1h0.6v0.6h-0.6zM342.0 153.8h0.6v0.6h-0.6zM335.6 153.2h0.6v0.6h-0.6zM338.6 150.6h0.6v0.6h-0.6zM347.7 160.2h0.6v0.6h-0.6zM329.8 154.8h0.6v0.6h-0.6zM354.7 139.1h0.6v0.6h-0.6zM345.2 161.1h0.6v0.6h-0.6zM350.1 129.0h0.6v0.6h-0.6zM337.8 138.6h0.6v0.6h-0.6zM344.5 143.3h0.6v0.6h-0.6zM335.2 144.2h0.6v0.6h-0.6zM344.6 144.8h0.6v0.6h-0.6zM332.3 148.4h0.6v0.6h-0.6zM345.4 142.3h0.6v0.6h-0.6zM352.0 136.4h0.6v0.6h-0.6zM345.9 145.0h0.6v0.6h-0.6zM357.9 141.4h0.6v0.6h-0.6zM333.7 141.5h0.6v0.6h-0.6zM363.5 147.9h0.6v0.6h-0.6zM330.2 148.1h0.6v0.6h-0.6zM333.5 158.5h0.6v0.6h-0.6zM344.3 135.5h0.6v0.6h-0.6zM345.1 152.9h0.6v0.6h-0.6zM342.5 150.7h0.6v0.6h-0.6zM341.1 149.4h0.6v0.6h-0.6zM343.5 143.5h0.6v0.6h-0.6zM345.8 148.3h0.6v0.6h-0.6zM340.9 144.1h0.6v0.6h-0.6zM331.6 151.3h0.6v0.6h-0.6zM348.2 132.6h0.6v0.6h-0.6zM337.7 156.8h0.6v0.6h-0.6zM350.9 142.2h0.6v0.6h-0.6zM355.2 139.8h0.6v0.6h-0.6zM335.7 160.6h0.6v0.6h-0.6zM337.2 147.6h0.6v0.6h-0.6zM323.6 145.3h0.6v0.6h-0.6zM329.5 149.4h0.6v0.6h-0.6zM323.8 157.5h0.6v0.6h-0.6zM337.6 145.2h0.6v0.6h-0.6zM336.1 153.4h0.6v0.6h-0.6zM357.7 142.8h0.6v0.6h-0.6zM360.6 154.3h0.6v0.6h-0.6zM356.4 147.2h0.6v0.6h-0.6zM327.0 154.6h0.6v0.6h-0.6zM337.9 149.9h0.6v0.6h-0.6zM321.9 149.9h0.6v0.6h-0.6zM343.5 142.2h0.6v0.6h-0.6zM346.8 157.1h0.6v0.6h-0.6zM343.7 143.6h0.6v0.6h-0.6zM364.9 131.2h0.6v0.6h-0.6zM332.7 152.1h0.6v0.6h-0.6zM333.4 135.9h0.6v0.6h-0.6zM345.6 152.3h0.6v0.6h-0.6zM335.1 157.9h0.6v0.6h-0.6zM348.5 153.9h0.6v0.6h-0.6zM325.9 150.8h0.6v0.6h-0.6zM360.9 156.6h0.6v0.6h-0.6zM355.9 145.5h0.6v0.6h-0.6zM343.3 144.0h0.6v0.6h-0.6zM352.9 142.0h0.6v0.6h-0.6zM341.2 135.9h0.6v0.6h-0.6zM327.9 161.0h0.6v0.6h-0.6zM342.8 149.1h0.6v0.6h-0.6zM318.8 151.9h0.6v0.6h-0.6zM362.3 135.5h0.6v0.6h-0.6zM316.7 151.5h0.6v0.6h-0.6zM336.2 147.8h0.6v0.6h-0.6zM327.3 142.5h0.6v0.6h-0.6zM329.6 154.0h0.6v0.6h-0.6zM342.3 152.8h0.6v0.6h-0.6zM331.2 153.4h0.6v0.6h-0.6zM337.4 149.3h0.6v0.6h-0.6zM351.9 146.5h0.6v0.6h-0.6zM336.6 139.1h0.6v0.6h-0.6zM343.5 152.4h0.6v0.6h-0.6zM335.2 148.8h0.6v0.6h-0.6zM321.9 143.6h0.6v0.6h-0.6zM347.6 154.7h0.6v0.6h-0.6zM337.0 138.9h0.6v0.6h-0.6zM336.4 139.7h0.6v0.6h-0.6zM341.1 159.7h0.6v0.6h-0.6zM345.0 146.6h0.6v0.6h-0.6zM352.6 143.9h0.6v0.6h-0.6zM345.7 148.5h0.6v0.6h-0.6zM345.2 138.7h0.6v0.6h-0.6zM350.4 151.8h0.6v0.6h-0.6zM315.0 136.6h0.6v0.6h-0.6zM334.0 158.3h0.6v0.6h-0.6zM342.9 151.9h0.6v0.6h-0.6zM348.8 152.1h0.6v0.6h-0.6zM334.6 145.8h0.6v0.6h-0.6zM346.6 150.8h0.6v0.6h-0.6zM348.5 148.9h0.6v0.6h-0.6zM338.0 155.3h0.6v0.6h-0.6zM348.1 153.3h0.6v0.6h-0.6zM316.0 158.6h0.6v0.6h-0.6zM316.2 153.8h0.6v0.6h-0.6zM335.0 149.9h0.6v0.6h-0.6zM336.6 147.1h0.6v0.6h-0.6zM344.4 149.7h0.6v0.6h-0.6zM330.9 134.8h0.6v0.6h-0.6zM334.2 152.6h0.6v0.6h-0.6zM333.4 152.1h0.6v0.6h-0.6zM337.1 143.2h0.6v0.6h-0.6zM356.2 155.5h0.6v0.6h-0.6zM340.8 147.9h0.6v0.6h-0.6zM350.9 138.5h0.6v0.6h-0.6zM333.8 156.2h0.6v0.6h-0.6zM351.1 143.4h0.6v0.6h-0.6zM334.0 151.5h0.6v0.6h-0.6zM326.4 147.7h0.6v0.6h-0.6zM337.0 134.1h0.6v0.6h-0.6zM349.1 151.3h0.6v0.6h-0.6zM351.9 137.6h0.6v0.6h-0.6zM327.4 145.7h0.6v0.6h-0.6zM330.1 162.5h0.6v0.6h-0.6zM331.2 148.0h0.6v0.6h-0.6zM344.7 150.3h0.6v0.6h-0.6zM356.4 138.9h0.6v0.6h-0.6zM351.6 147.2h0.6v0.6h-0.6zM329.6 151.1h0.6v0.6h-0.6zM328.6 160.1h0.6v0.6h-0.6zM335.2 155.3h0.6v0.6h-0.6zM355.3 141.9h0.6v0.6h-0.6zM332.5 150.5h0.6v0.6h-0.6zM331.7 155.3h0.6v0.6h-0.6zM343.1 143.2h0.6v0.6h-0.6zM335.4 153.6h0.6v0.6h-0.6zM328.2 160.7h0.6v0.6h-0.6zM333.4 148.3h0.6v0.6h-0.6zM333.7 159.3h0.6v0.6h-0.6zM352.2 154.1h0.6v0.6h-0.6zM349.1 147.3h0.6v0.6h-0.6zM360.9 148.7h0.6v0.6h-0.6zM347.3 150.6h0.6v0.6h-0.6zM350.2 148.2h0.6v0.6h-0.6zM338.5 138.9h0.6v0.6h-0.6zM362.8 136.4h0.6v0.6h-0.6zM318.0 147.9h0.6v0.6h-0.6zM364.1 151.5h0.6v0.6h-0.6zM335.8 150.7h0.6v0.6h-0.6zM339.7 136.4h0.6v0.6h-0.6zM338.7 150.4h0.6v0.6h-0.6zM353.4 138.7h0.6v0.6h-0.6zM316.0 143.0h0.6v0.6h-0.6zM345.7 147.8h0.6v0.6h-0.6zM343.8 148.6h0.6v0.6h-0.6zM336.6 140.6h0.6v0.6h-0.6zM347.3 149.4h0.6v0.6h-0.6zM349.5 154.2h0.6v0.6h-0.6zM326.2 136.6h0.6v0.6h-0.6zM324.9 164.0h0.6v0.6h-0.6zM332.5 152.1h0.6v0.6h-0.6zM342.6 152.3h0.6v0.6h-0.6zM376.2 138.8h0.6v0.6h-0.6zM339.5 144.8h0.6v0.6h-0.6zM345.2 150.6h0.6v0.6h-0.6zM332.9 157.6h0.6v0.6h-0.6zM354.9 148.4h0.6v0.6h-0.6zM340.6 146.8h0.6v0.6h-0.6zM324.9 155.0h0.6v0.6h-0.6zM330.9 146.9h0.6v0.6h-0.6zM351.8 140.7h0.6v0.6h-0.6zM337.2 154.1h0.6v0.6h-0.6zM361.4 140.4h0.6v0.6h-0.6zM353.3 142.0h0.6v0.6h-0.6zM346.7 150.1h0.6v0.6h-0.6zM330.7 156.2h0.6v0.6h-0.6zM361.5 144.9h0.6v0.6h-0.6zM343.7 140.6h0.6v0.6h-0.6zM361.4 145.0h0.6v0.6h-0.6zM329.0 155.0h0.6v0.6h-0.6zM325.5 146.7h0.6v0.6h-0.6zM320.3 160.2h0.6v0.6h-0.6zM365.3 140.0h0.6v0.6h-0.6zM334.3 145.8h0.6v0.6h-0.6zM336.5 152.4h0.6v0.6h-0.6zM356.7 139.3h0.6v0.6h-0.6zM344.9 136.5h0.6v0.6h-0.6zM358.4 144.6h0.6v0.6h-0.6zM336.0 158.4h0.6v0.6h-0.6zM342.3 156.3h0.6v0.6h-0.6zM355.4 155.7h0.6v0.6h-0.6zM333.4 149.9h0.6v0.6h-0.6zM345.8 146.2h0.6v0.6h-0.6zM357.8 140.9h0.6v0.6h-0.6zM354.3 154.1h0.6v0.6h-0.6zM319.8 146.0h0.6v0.6h-0.6zM331.6 146.5h0.6v0.6h-0.6zM346.0 146.2h0.6v0.6h-0.6zM342.4 145.1h0.6v0.6h-0.6zM341.6 151.0h0.6v0.6h-0.6zM349.3 142.0h0.6v0.6h-0.6zM340.0 143.7h0.6v0.6h-0.6zM338.6 139.9h0.6v0.6h-0.6zM353.0 150.1h0.6v0.6h-0.6zM340.0 144.2h0.6v0.6h-0.6zM336.4 144.9h0.6v0.6h-0.6zM327.0 160.6h0.6v0.6h-0.6zM376.4 134.5h0.6v0.6h-0.6zM330.0 153.6h0.6v0.6h-0.6zM346.9 137.5h0.6v0.6h-0.6zM321.8 154.9h0.6v0.6h-0.6zM321.9 160.2h0.6v0.6h-0.6zM336.7 149.5h0.6v0.6h-0.6zM341.4 144.7h0.6v0.6h-0.6zM340.1 146.5h0.6v0.6h-0.6zM355.4 145.1h0.6v0.6h-0.6zM341.1 144.9h0.6v0.6h-0.6zM334.4 144.9h0.6v0.6h-0.6zM344.0 158.8h0.6v0.6h-0.6zM354.3 147.3h0.6v0.6h-0.6zM361.1 150.8h0.6v0.6h-0.6zM344.1 146.6h0.6v0.6h-0.6zM330.4 151.6h0.6v0.6h-0.6zM336.9 139.2h0.6v0.6h-0.6zM330.1 161.9h0.6v0.6h-0.6zM344.8 150.5h0.6v0.6h-0.6zM343.7 144.9h0.6v0.6h-0.6zM348.1 153.5h0.6v0.6h-0.6zM339.2 151.6h0.6v0.6h-0.6zM352.6 143.2h0.6v0.6h-0.6zM343.1 143.3h0.6v0.6h-0.6zM348.1 144.7h0.6v0.6h-0.6zM353.6 141.3h0.6v0.6h-0.6zM360.0 142.9h0.6v0.6h-0.6zM332.0 144.3h0.6v0.6h-0.6zM348.3 141.7h0.6v0.6h-0.6zM362.9 152.1h0.6v0.6h-0.6zM346.1 138.6h0.6v0.6h-0.6zM341.0 143.8h0.6v0.6h-0.6zM322.8 154.0h0.6v0.6h-0.6zM365.3 140.6h0.6v0.6h-0.6zM352.1 154.0h0.6v0.6h-0.6zM331.2 147.8h0.6v0.6h-0.6zM345.4 150.3h0.6v0.6h-0.6zM329.8 151.5h0.6v0.6h-0.6zM341.8 153.8h0.6v0.6h-0.6zM324.1 147.7h0.6v0.6h-0.6zM336.2 147.1h0.6v0.6h-0.6zM349.2 142.9h0.6v0.6h-0.6zM370.9 138.6h0.6v0.6h-0.6zM352.2 152.4h0.6v0.6h-0.6zM352.2 145.0h0.6v0.6h-0.6zM332.7 148.1h0.6v0.6h-0.6zM349.3 147.4h0.6v0.6h-0.6zM348.9 150.3h0.6v0.6h-0.6zM331.5 144.2h0.6v0.6h-0.6zM357.1 142.4h0.6v0.6h-0.6zM326.8 162.0h0.6v0.6h-0.6zM332.0 144.1h0.6v0.6h-0.6zM351.3 139.5h0.6v0.6h-0.6zM333.7 155.9h0.6v0.6h-0.6zM335.7 164.4h0.6v0.6h-0.6zM345.9 163.7h0.6v0.6h-0.6zM343.5 148.1h0.6v0.6h-0.6zM334.8 147.9h0.6v0.6h-0.6zM336.5 148.8h0.6v0.6h-0.6zM349.0 139.0h0.6v0.6h-0.6zM329.9 137.4h0.6v0.6h-0.6zM358.2 144.7h0.6v0.6h-0.6zM341.8 147.7h0.6v0.6h-0.6zM353.2 148.0h0.6v0.6h-0.6zM351.0 145.4h0.6v0.6h-0.6zM340.6 147.9h0.6v0.6h-0.6zM323.0 158.0h0.6v0.6h-0.6zM323.9 145.1h0.6v0.6h-0.6zM349.3 147.0h0.6v0.6h-0.6zM352.6 156.5h0.6v0.6h-0.6zM363.6 152.6h0.6v0.6h-0.6zM341.7 160.5h0.6v0.6h-0.6zM332.4 149.2h0.6v0.6h-0.6zM352.6 144.8h0.6v0.6h-0.6zM340.3 146.1h0.6v0.6h-0.6zM354.2 130.8h0.6v0.6h-0.6zM356.9 151.8h0.6v0.6h-0.6zM341.8 151.5h0.6v0.6h-0.6zM332.7 156.4h0.6v0.6h-0.6zM374.2 136.7h0.6v0.6h-0.6zM357.1 145.0h0.6v0.6h-0.6zM337.8 145.8h0.6v0.6h-0.6zM338.6 141.0h0.6v0.6h-0.6zM329.0 160.4h0.6v0.6h-0.6zM342.4 151.3h0.6v0.6h-0.6zM345.9 150.2h0.6v0.6h-0.6zM324.5 145.3h0.6v0.6h-0.6zM349.9 152.7h0.6v0.6h-0.6zM329.0 146.8h0.6v0.6h-0.6zM331.1 153.9h0.6v0.6h-0.6zM345.8 147.5h0.6v0.6h-0.6zM335.3 151.3h0.6v0.6h-0.6zM341.6 143.5h0.6v0.6h-0.6zM344.9 143.4h0.6v0.6h-0.6zM353.0 149.9h0.6v0.6h-0.6zM335.2 152.8h0.6v0.6h-0.6zM342.0 143.7h0.6v0.6h-0.6zM330.4 139.9h0.6v0.6h-0.6zM330.1 152.2h0.6v0.6h-0.6zM354.4 142.0h0.6v0.6h-0.6zM344.1 149.7h0.6v0.6h-0.6zM350.9 149.1h0.6v0.6h-0.6zM356.1 150.2h0.6v0.6h-0.6zM334.2 151.8h0.6v0.6h-0.6zM316.4 151.4h0.6v0.6h-0.6zM342.8 151.4h0.6v0.6h-0.6zM339.6 153.5h0.6v0.6h-0.6zM355.4 140.5h0.6v0.6h-0.6zM336.4 150.6h0.6v0.6h-0.6zM347.5 147.9h0.6v0.6h-0.6zM349.8 139.4h0.6v0.6h-0.6zM351.6 153.4h0.6v0.6h-0.6zM354.5 148.4h0.6v0.6h-0.6zM339.8 150.8h0.6v0.6h-0.6zM339.5 138.8h0.6v0.6h-0.6zM335.4 148.9h0.6v0.6h-0.6zM335.4 143.5h0.6v0.6h-0.6zM339.1 146.2h0.6v0.6h-0.6zM342.7 147.6h0.6v0.6h-0.6zM344.9 153.5h0.6v0.6h-0.6zM343.9 150.1h0.6v0.6h-0.6zM325.7 132.9h0.6v0.6h-0.6z"/>
<path fill="#5a5a5a" opacity="0.45" d="M347.2 182.1h0.6v0.6h-0.6zM347.6 174.3h0.6v0.6h-0.6zM341.3 183.4h0.6v0.6h-0.6zM346.3 179.5h0.6v0.6h-0.6zM357.9 181.2h0.6v0.6h-0.6zM365.7 177.2h0.6v0.6h-0.6zM356.7 182.2h0.6v0.6h-0.6zM345.4 178.3h0.6v0.6h-0.6zM346.0 171.9h0.6v0.6h-0.6zM352.1 173.4h0.6v0.6h-0.6zM361.8 173.6h0.6v0.6h-0.6zM346.2 178.5h0.6v0.6h-0.6zM346.4 178.3h0.6v0.6h-0.6zM345.7 169.5h0.6v0.6h-0.6zM333.1 170.3h0.6v0.6h-0.6zM360.7 180.7h0.6v0.6h-0.6zM351.1 175.2h0.6v0.6h-0.6zM349.0 179.8h0.6v0.6h-0.6zM340.3 173.2h0.6v0.6h-0.6zM343.8 185.6h0.6v0.6h-0.6zM342.6 185.0h0.6v0.6h-0.6zM346.7 194.4h0.6v0.6h-0.6zM349.5 178.2h0.6v0.6h-0.6zM359.5 183.2h0.6v0.6h-0.6zM356.6 171.6h0.6v0.6h-0.6zM358.0 188.1h0.6v0.6h-0.6zM349.3 175.1h0.6v0.6h-0.6zM342.4 184.1h0.6v0.6h-0.6zM352.1 178.0h0.6v0.6h-0.6zM341.4 187.7h0.6v0.6h-0.6zM356.1 177.9h0.6v0.6h-0.6zM360.3 172.3h0.6v0.6h-0.6zM356.2 172.0h0.6v0.6h-0.6zM359.9 176.3h0.6v0.6h-0.6zM358.6 175.5h0.6v0.6h-0.6zM352.8 184.9h0.6v0.6h-0.6zM343.7 178.6h0.6v0.6h-0.6zM344.1 183.1h0.6v0.6h-0.6zM345.8 175.8h0.6v0.6h-0.6zM348.6 185.0h0.6v0.6h-0.6zM342.7 177.8h0.6v0.6h-0.6zM347.7 174.7h0.6v0.6h-0.6zM344.5 177.0h0.6v0.6h-0.6zM351.4 168.7h0.6v0.6h-0.6zM351.6 170.9h0.6v0.6h-0.6zM350.1 191.7h0.6v0.6h-0.6zM343.2 177.6h0.6v0.6h-0.6zM348.2 183.9h0.6v0.6h-0.6zM346.7 167.3h0.6v0.6h-0.6zM338.7 179.1h0.6v0.6h-0.6zM351.8 184.4h0.6v0.6h-0.6zM346.2 182.0h0.6v0.6h-0.6zM342.6 185.8h0.6v0.6h-0.6zM349.5 173.9h0.6v0.6h-0.6zM351.2 188.5h0.6v0.6h-0.6zM344.1 170.6h0.6v0.6h-0.6zM342.9 171.1h0.6v0.6h-0.6zM349.6 180.1h0.6v0.6h-0.6zM348.9 179.2h0.6v0.6h-0.6zM358.3 176.3h0.6v0.6h-0.6zM341.2 164.3h0.6v0.6h-0.6zM351.7 173.9h0.6v0.6h-0.6zM348.3 180.5h0.6v0.6h-0.6zM353.2 168.6h0.6v0.6h-0.6zM343.3 178.4h0.6v0.6h-0.6zM349.0 184.9h0.6v0.6h-0.6zM346.5 165.6h0.6v0.6h-0.6zM358.2 168.2h0.6v0.6h-0.6zM343.2 180.3h0.6v0.6h-0.6zM342.6 192.9h0.6v0.6h-0.6zM351.7 181.2h0.6v0.6h-0.6zM346.9 191.3h0.6v0.6h-0.6zM353.8 173.7h0.6v0.6h-0.6zM358.8 167.9h0.6v0.6h-0.6zM345.9 179.7h0.6v0.6h-0.6zM351.0 172.2h0.6v0.6h-0.6zM361.1 186.8h0.6v0.6h-0.6zM343.5 180.2h0.6v0.6h-0.6zM345.6 175.4h0.6v0.6h-0.6zM356.9 178.8h0.6v0.6h-0.6zM349.2 178.6h0.6v0.6h-0.6zM341.8 185.3h0.6v0.6h-0.6zM344.7 185.9h0.6v0.6h-0.6zM346.8 175.3h0.6v0.6h-0.6zM360.4 179.1h0.6v0.6h-0.6zM345.5 174.8h0.6v0.6h-0.6zM354.2 189.2h0.6v0.6h-0.6zM354.3 175.6h0.6v0.6h-0.6zM342.2 174.0h0.6v0.6h-0.6zM349.2 179.5h0.6v0.6h-0.6zM345.4 185.7h0.6v0.6h-0.6zM343.3 173.7h0.6v0.6h-0.6zM353.5 180.9h0.6v0.6h-0.6zM347.3 183.8h0.6v0.6h-0.6zM340.1 187.8h0.6v0.6h-0.6zM365.3 189.7h0.6v0.6h-0.6zM350.8 189.8h0.6v0.6h-0.6zM350.4 186.0h0.6v0.6h-0.6zM348.6 179.2h0.6v0.6h-0.6zM353.7 167.5h0.6v0.6h-0.6zM348.5 188.3h0.6v0.6h-0.6zM329.5 180.3h0.6v0.6h-0.6zM356.5 180.0h0.6v0.6h-0.6zM351.4 186.3h0.6v0.6h-0.6zM352.3 166.6h0.6v0.6h-0.6zM343.4 176.2h0.6v0.6h-0.6zM351.0 175.3h0.6v0.6h-0.6zM349.3 188.0h0.6v0.6h-0.6zM329.5 184.9h0.6v0.6h-0.6zM356.6 181.6h0.6v0.6h-0.6zM350.1 178.4h0.6v0.6h-0.6zM352.5 179.5h0.6v0.6h-0.6zM344.9 182.7h0.6v0.6h-0.6zM344.2 177.8h0.6v0.6h-0.6zM347.5 171.1h0.6v0.6h-0.6zM354.2 177.6h0.6v0.6h-0.6zM341.9 177.5h0.6v0.6h-0.6zM340.4 186.6h0.6v0.6h-0.6zM353.6 189.9h0.6v0.6h-0.6zM346.0 182.2h0.6v0.6h-0.6zM343.2 172.9h0.6v0.6h-0.6zM349.4 180.5h0.6v0.6h-0.6zM356.5 176.4h0.6v0.6h-0.6zM357.7 183.8h0.6v0.6h-0.6zM343.9 176.9h0.6v0.6h-0.6zM343.6 188.2h0.6v0.6h-0.6zM346.2 183.3h0.6v0.6h-0.6zM356.4 176.5h0.6v0.6h-0.6zM346.6 180.1h0.6v0.6h-0.6zM344.6 170.4h0.6v0.6h-0.6zM343.3 180.0h0.6v0.6h-0.6zM351.3 188.5h0.6v0.6h-0.6zM337.3 181.0h0.6v0.6h-0.6zM342.0 184.9h0.6v0.6h-0.6zM354.9 178.8h0.6v0.6h-0.6zM360.3 175.8h0.6v0.6h-0.6zM346.3 171.7h0.6v0.6h-0.6zM345.4 178.7h0.6v0.6h-0.6zM354.7 185.6h0.6v0.6h-0.6zM348.1 173.6h0.6v0.6h-0.6zM347.7 175.4h0.6v0.6h-0.6zM346.7 175.6h0.6v0.6h-0.6zM343.9 177.7h0.6v0.6h-0.6zM346.4 177.0h0.6v0.6h-0.6zM340.4 178.9h0.6v0.6h-0.6zM354.0 181.9h0.6v0.6h-0.6zM346.2 171.2h0.6v0.6h-0.6zM341.0 171.0h0.6v0.6h-0.6zM345.5 176.2h0.6v0.6h-0.6zM337.7 182.0h0.6v0.6h-0.6zM339.3 173.9h0.6v0.6h-0.6zM345.0 182.9h0.6v0.6h-0.6zM362.8 175.9h0.6v0.6h-0.6zM348.1 175.7h0.6v0.6h-0.6zM348.6 177.0h0.6v0.6h-0.6zM367.1 171.5h0.6v0.6h-0.6zM349.2 173.3h0.6v0.6h-0.6zM352.5 174.9h0.6v0.6h-0.6zM354.0 171.6h0.6v0.6h-0.6zM364.6 179.2h0.6v0.6h-0.6zM337.7 182.2h0.6v0.6h-0.6zM346.7 171.1h0.6v0.6h-0.6zM353.1 174.9h0.6v0.6h-0.6zM355.1 174.8h0.6v0.6h-0.6zM356.3 178.9h0.6v0.6h-0.6zM352.5 178.9h0.6v0.6h-0.6zM347.5 175.9h0.6v0.6h-0.6zM353.1 182.2h0.6v0.6h-0.6zM347.2 191.3h0.6v0.6h-0.6zM361.7 171.2h0.6v0.6h-0.6zM357.5 177.6h0.6v0.6h-0.6zM351.6 173.3h0.6v0.6h-0.6zM361.4 173.1h0.6v0.6h-0.6zM349.4 173.7h0.6v0.6h-0.6zM363.4 185.4h0.6v0.6h-0.6zM340.9 175.3h0.6v0.6h-0.6zM352.5 175.5h0.6v0.6h-0.6zM347.6 171.6h0.6v0.6h-0.6zM351.7 171.5h0.6v0.6h-0.6zM355.8 192.2h0.6v0.6h-0.6zM347.7 187.7h0.6v0.6h-0.6zM352.6 174.0h0.6v0.6h-0.6zM347.6 172.3h0.6v0.6h-0.6zM350.8 182.1h0.6v0.6h-0.6zM356.4 176.4h0.6v0.6h-0.6zM341.8 177.6h0.6v0.6h-0.6zM361.6 179.7h0.6v0.6h-0.6zM349.6 165.7h0.6v0.6h-0.6zM347.0 181.2h0.6v0.6h-0.6zM343.5 186.0h0.6v0.6h-0.6zM346.1 172.9h0.6v0.6h-0.6zM346.0 177.5h0.6v0.6h-0.6zM356.9 174.7h0.6v0.6h-0.6zM337.7 177.5h0.6v0.6h-0.6zM353.6 187.1h0.6v0.6h-0.6zM342.3 186.7h0.6v0.6h-0.6zM354.7 180.7h0.6v0.6h-0.6zM344.7 172.8h0.6v0.6h-0.6zM343.4 183.5h0.6v0.6h-0.6zM351.5 184.3h0.6v0.6h-0.6z"/>
<path fill="#5a5a5a" opacity="0.55" d="M493.4 161.3h0.6v0.6h-0.6zM466.4 181.0h0.6v0.6h-0.6zM442.2 171.9h0.6v0.6h-0.6zM457.4 168.3h0.6v0.6h-0.6zM464.9 163.2h0.6v0.6h-0.6zM480.5 155.6h0.6v0.6h-0.6zM448.1 162.1h0.6v0.6h-0.6zM442.3 178.7h0.6v0.6h-0.6zM473.8 165.1h0.6v0.6h-0.6zM478.7 169.2h0.6v0.6h-0.6zM454.6 171.3h0.6v0.6h-0.6zM473.3 179.8h0.6v0.6h-0.6zM457.5 173.2h0.6v0.6h-0.6zM474.8 174.2h0.6v0.6h-0.6zM472.6 173.8h0.6v0.6h-0.6zM446.4 172.0h0.6v0.6h-0.6zM432.7 177.1h0.6v0.6h-0.6zM465.9 170.3h0.6v0.6h-0.6zM464.2 160.3h0.6v0.6h-0.6zM452.5 171.0h0.6v0.6h-0.6zM465.3 163.0h0.6v0.6h-0.6zM461.1 165.0h0.6v0.6h-0.6zM441.6 170.7h0.6v0.6h-0.6zM452.4 177.7h0.6v0.6h-0.6zM486.6 166.8h0.6v0.6h-0.6zM459.7 166.5h0.6v0.6h-0.6zM437.8 172.6h0.6v0.6h-0.6zM491.2 169.4h0.6v0.6h-0.6zM467.2 166.6h0.6v0.6h-0.6zM464.8 171.6h0.6v0.6h-0.6zM464.6 171.7h0.6v0.6h-0.6zM451.6 172.7h0.6v0.6h-0.6zM460.1 177.2h0.6v0.6h-0.6zM446.1 182.4h0.6v0.6h-0.6zM461.8 166.3h0.6v0.6h-0.6zM464.6 169.7h0.6v0.6h-0.6zM461.0 172.6h0.6v0.6h-0.6zM451.9 161.2h0.6v0.6h-0.6zM475.2 165.9h0.6v0.6h-0.6zM491.5 164.2h0.6v0.6h-0.6zM433.8 185.3h0.6v0.6h-0.6zM453.8 175.4h0.6v0.6h-0.6zM446.2 173.2h0.6v0.6h-0.6zM439.2 180.1h0.6v0.6h-0.6zM471.4 160.3h0.6v0.6h-0.6zM472.9 172.8h0.6v0.6h-0.6zM476.0 161.5h0.6v0.6h-0.6zM451.0 165.2h0.6v0.6h-0.6zM443.7 176.6h0.6v0.6h-0.6zM466.8 176.8h0.6v0.6h-0.6zM467.9 165.9h0.6v0.6h-0.6zM443.5 184.7h0.6v0.6h-0.6zM466.6 168.1h0.6v0.6h-0.6zM446.1 167.0h0.6v0.6h-0.6zM472.6 160.4h0.6v0.6h-0.6zM474.5 170.4h0.6v0.6h-0.6zM455.2 160.8h0.6v0.6h-0.6zM472.9 175.9h0.6v0.6h-0.6zM448.6 164.9h0.6v0.6h-0.6zM481.8 165.2h0.6v0.6h-0.6zM456.0 179.2h0.6v0.6h-0.6zM460.3 173.0h0.6v0.6h-0.6zM456.3 166.2h0.6v0.6h-0.6zM466.2 162.9h0.6v0.6h-0.6zM434.5 173.4h0.6v0.6h-0.6zM485.7 170.4h0.6v0.6h-0.6zM490.4 163.6h0.6v0.6h-0.6zM457.8 173.8h0.6v0.6h-0.6zM449.9 177.6h0.6v0.6h-0.6zM457.2 172.6h0.6v0.6h-0.6zM450.1 171.9h0.6v0.6h-0.6zM479.5 163.5h0.6v0.6h-0.6zM453.6 173.7h0.6v0.6h-0.6zM477.9 164.1h0.6v0.6h-0.6zM442.6 164.6h0.6v0.6h-0.6zM444.2 181.3h0.6v0.6h-0.6zM463.4 172.4h0.6v0.6h-0.6zM481.8 166.2h0.6v0.6h-0.6zM471.0 163.9h0.6v0.6h-0.6zM439.1 179.8h0.6v0.6h-0.6zM463.4 173.0h0.6v0.6h-0.6zM446.6 172.8h0.6v0.6h-0.6zM495.1 155.3h0.6v0.6h-0.6zM467.7 176.6h0.6v0.6h-0.6zM460.5 170.8h0.6v0.6h-0.6zM431.0 183.0h0.6v0.6h-0.6zM459.0 178.8h0.6v0.6h-0.6zM461.9 167.2h0.6v0.6h-0.6zM470.6 165.7h0.6v0.6h-0.6zM458.2 180.7h0.6v0.6h-0.6zM480.0 165.5h0.6v0.6h-0.6zM478.4 170.6h0.6v0.6h-0.6zM473.4 166.9h0.6v0.6h-0.6zM465.8 171.2h0.6v0.6h-0.6zM473.7 168.8h0.6v0.6h-0.6zM455.0 171.0h0.6v0.6h-0.6zM469.8 161.1h0.6v0.6h-0.6zM465.1 173.7h0.6v0.6h-0.6zM466.3 166.6h0.6v0.6h-0.6zM462.9 166.3h0.6v0.6h-0.6zM479.2 162.6h0.6v0.6h-0.6zM435.3 169.0h0.6v0.6h-0.6zM469.2 169.1h0.6v0.6h-0.6zM454.3 163.2h0.6v0.6h-0.6zM460.3 164.7h0.6v0.6h-0.6zM453.5 171.9h0.6v0.6h-0.6zM452.2 174.3h0.6v0.6h-0.6zM451.4 169.5h0.6v0.6h-0.6zM462.7 178.9h0.6v0.6h-0.6zM490.9 168.0h0.6v0.6h-0.6zM452.2 172.3h0.6v0.6h-0.6zM480.0 170.0h0.6v0.6h-0.6zM437.8 175.8h0.6v0.6h-0.6zM453.3 176.8h0.6v0.6h-0.6zM473.4 163.1h0.6v0.6h-0.6zM465.7 180.9h0.6v0.6h-0.6zM454.8 168.5h0.6v0.6h-0.6zM487.7 162.5h0.6v0.6h-0.6zM469.7 159.5h0.6v0.6h-0.6zM494.4 167.3h0.6v0.6h-0.6zM470.9 171.8h0.6v0.6h-0.6zM455.2 168.4h0.6v0.6h-0.6zM439.4 178.1h0.6v0.6h-0.6zM485.3 168.9h0.6v0.6h-0.6zM479.9 169.4h0.6v0.6h-0.6zM447.1 165.2h0.6v0.6h-0.6zM474.6 167.3h0.6v0.6h-0.6zM479.4 163.2h0.6v0.6h-0.6zM450.6 175.6h0.6v0.6h-0.6zM452.4 161.7h0.6v0.6h-0.6zM452.8 166.5h0.6v0.6h-0.6zM445.2 170.6h0.6v0.6h-0.6zM483.1 179.1h0.6v0.6h-0.6zM491.1 159.2h0.6v0.6h-0.6zM482.3 163.8h0.6v0.6h-0.6zM469.4 163.3h0.6v0.6h-0.6zM460.1 159.4h0.6v0.6h-0.6zM491.6 156.8h0.6v0.6h-0.6zM472.5 163.1h0.6v0.6h-0.6zM466.5 160.9h0.6v0.6h-0.6zM459.5 176.2h0.6v0.6h-0.6zM470.5 154.9h0.6v0.6h-0.6zM475.6 157.6h0.6v0.6h-0.6zM469.4 171.0h0.6v0.6h-0.6zM453.2 170.0h0.6v0.6h-0.6zM460.7 172.6h0.6v0.6h-0.6zM480.9 173.3h0.6v0.6h-0.6zM472.5 179.6h0.6v0.6h-0.6zM451.7 183.8h0.6v0.6h-0.6zM461.0 174.8h0.6v0.6h-0.6zM462.1 170.1h0.6v0.6h-0.6zM449.9 175.4h0.6v0.6h-0.6zM463.7 169.2h0.6v0.6h-0.6zM475.2 164.8h0.6v0.6h-0.6zM464.3 170.4h0.6v0.6h-0.6zM486.5 169.2h0.6v0.6h-0.6zM446.1 169.9h0.6v0.6h-0.6zM465.7 174.1h0.6v0.6h-0.6zM479.3 163.7h0.6v0.6h-0.6zM488.9 171.5h0.6v0.6h-0.6zM490.0 163.4h0.6v0.6h-0.6zM470.8 157.5h0.6v0.6h-0.6zM434.4 173.1h0.6v0.6h-0.6zM477.3 172.4h0.6v0.6h-0.6zM464.0 175.7h0.6v0.6h-0.6zM475.8 175.7h0.6v0.6h-0.6zM437.1 171.0h0.6v0.6h-0.6zM447.0 167.0h0.6v0.6h-0.6zM489.0 156.5h0.6v0.6h-0.6zM450.1 170.3h0.6v0.6h-0.6zM477.5 162.5h0.6v0.6h-0.6zM476.8 169.2h0.6v0.6h-0.6zM450.0 157.8h0.6v0.6h-0.6zM447.3 165.6h0.6v0.6h-0.6zM489.2 157.8h0.6v0.6h-0.6zM447.4 176.0h0.6v0.6h-0.6zM463.4 163.3h0.6v0.6h-0.6zM483.1 169.8h0.6v0.6h-0.6zM467.3 163.4h0.6v0.6h-0.6zM446.7 160.6h0.6v0.6h-0.6zM470.8 169.8h0.6v0.6h-0.6zM449.3 173.2h0.6v0.6h-0.6zM437.5 180.1h0.6v0.6h-0.6zM456.4 168.0h0.6v0.6h-0.6zM473.8 165.6h0.6v0.6h-0.6zM480.9 167.9h0.6v0.6h-0.6zM482.9 164.8h0.6v0.6h-0.6zM431.5 186.5h0.6v0.6h-0.6zM438.3 182.6h0.6v0.6h-0.6zM465.9 159.7h0.6v0.6h-0.6zM466.5 174.1h0.6v0.6h-0.6zM447.6 173.7h0.6v0.6h-0.6zM450.5 166.3h0.6v0.6h-0.6zM456.1 179.4h0.6v0.6h-0.6zM475.0 165.9h0.6v0.6h-0.6zM462.9 170.2h0.6v0.6h-0.6zM468.9 168.9h0.6v0.6h-0.6zM437.8 182.0h0.6v0.6h-0.6zM446.1 157.2h0.6v0.6h-0.6zM473.4 158.8h0.6v0.6h-0.6zM461.6 169.1h0.6v0.6h-0.6zM455.4 174.8h0.6v0.6h-0.6zM459.2 168.6h0.6v0.6h-0.6zM448.2 171.5h0.6v0.6h-0.6zM447.4 173.8h0.6v0.6h-0.6zM487.0 169.4h0.6v0.6h-0.6zM468.7 159.1h0.6v0.6h-0.6zM482.1 170.2h0.6v0.6h-0.6zM493.7 146.7h0.6v0.6h-0.6zM463.8 167.0h0.6v0.6h-0.6zM479.8 157.9h0.6v0.6h-0.6zM461.6 184.6h0.6v0.6h-0.6zM476.9 152.9h0.6v0.6h-0.6zM466.5 177.1h0.6v0.6h-0.6zM455.0 175.3h0.6v0.6h-0.6zM463.3 159.9h0.6v0.6h-0.6zM455.7 178.5h0.6v0.6h-0.6zM482.2 160.3h0.6v0.6h-0.6zM481.0 159.9h0.6v0.6h-0.6zM468.0 167.9h0.6v0.6h-0.6zM444.4 176.4h0.6v0.6h-0.6zM453.3 154.3h0.6v0.6h-0.6zM449.3 167.6h0.6v0.6h-0.6zM449.0 166.8h0.6v0.6h-0.6zM449.0 157.4h0.6v0.6h-0.6zM478.5 165.6h0.6v0.6h-0.6zM467.7 166.4h0.6v0.6h-0.6zM464.6 167.2h0.6v0.6h-0.6zM444.0 164.7h0.6v0.6h-0.6zM466.8 174.8h0.6v0.6h-0.6zM470.4 177.7h0.6v0.6h-0.6zM441.6 173.4h0.6v0.6h-0.6zM456.0 179.1h0.6v0.6h-0.6zM490.6 158.6h0.6v0.6h-0.6zM475.4 164.4h0.6v0.6h-0.6zM447.7 172.7h0.6v0.6h-0.6zM449.7 182.8h0.6v0.6h-0.6zM475.5 173.6h0.6v0.6h-0.6zM465.9 152.9h0.6v0.6h-0.6zM477.1 166.1h0.6v0.6h-0.6zM425.7 180.0h0.6v0.6h-0.6zM483.1 174.9h0.6v0.6h-0.6zM448.8 178.2h0.6v0.6h-0.6zM469.1 166.6h0.6v0.6h-0.6zM460.3 173.4h0.6v0.6h-0.6zM474.4 170.5h0.6v0.6h-0.6zM455.3 162.9h0.6v0.6h-0.6zM487.4 171.1h0.6v0.6h-0.6zM454.8 171.3h0.6v0.6h-0.6zM474.2 155.0h0.6v0.6h-0.6zM476.0 181.4h0.6v0.6h-0.6zM467.3 163.6h0.6v0.6h-0.6zM466.7 165.6h0.6v0.6h-0.6zM464.0 157.5h0.6v0.6h-0.6zM440.9 165.7h0.6v0.6h-0.6zM478.4 164.6h0.6v0.6h-0.6zM479.3 151.8h0.6v0.6h-0.6zM456.7 180.4h0.6v0.6h-0.6zM448.2 161.2h0.6v0.6h-0.6zM451.4 170.2h0.6v0.6h-0.6zM465.9 176.9h0.6v0.6h-0.6zM488.0 172.6h0.6v0.6h-0.6zM472.6 163.5h0.6v0.6h-0.6zM453.6 162.3h0.6v0.6h-0.6zM486.6 171.0h0.6v0.6h-0.6zM464.0 163.3h0.6v0.6h-0.6zM475.7 169.0h0.6v0.6h-0.6zM464.6 161.4h0.6v0.6h-0.6zM467.0 164.6h0.6v0.6h-0.6zM476.9 169.4h0.6v0.6h-0.6zM470.4 164.5h0.6v0.6h-0.6zM489.8 167.1h0.6v0.6h-0.6zM485.8 168.6h0.6v0.6h-0.6zM475.3 168.5h0.6v0.6h-0.6zM443.8 162.7h0.6v0.6h-0.6zM449.9 176.8h0.6v0.6h-0.6zM479.0 166.2h0.6v0.6h-0.6zM468.4 179.7h0.6v0.6h-0.6zM454.7 160.0h0.6v0.6h-0.6zM438.5 173.8h0.6v0.6h-0.6zM476.5 170.4h0.6v0.6h-0.6zM461.8 174.9h0.6v0.6h-0.6zM462.1 164.9h0.6v0.6h-0.6zM459.1 175.2h0.6v0.6h-0.6zM477.6 158.1h0.6v0.6h-0.6zM448.3 174.0h0.6v0.6h-0.6zM444.5 176.9h0.6v0.6h-0.6zM471.2 163.1h0.6v0.6h-0.6zM464.4 172.0h0.6v0.6h-0.6zM435.9 176.4h0.6v0.6h-0.6zM475.2 172.0h0.6v0.6h-0.6zM482.7 163.5h0.6v0.6h-0.6zM443.0 183.3h0.6v0.6h-0.6zM475.4 161.8h0.6v0.6h-0.6zM482.4 170.8h0.6v0.6h-0.6zM458.0 155.4h0.6v0.6h-0.6zM455.2 166.5h0.6v0.6h-0.6zM450.4 172.1h0.6v0.6h-0.6zM447.2 176.0h0.6v0.6h-0.6zM492.5 153.7h0.6v0.6h-0.6zM479.9 161.3h0.6v0.6h-0.6zM472.6 165.9h0.6v0.6h-0.6zM483.5 159.2h0.6v0.6h-0.6zM474.6 161.2h0.6v0.6h-0.6zM467.7 167.9h0.6v0.6h-0.6zM479.0 154.8h0.6v0.6h-0.6zM444.5 183.2h0.6v0.6h-0.6zM473.0 177.6h0.6v0.6h-0.6zM447.8 174.7h0.6v0.6h-0.6zM476.6 177.0h0.6v0.6h-0.6zM462.4 166.5h0.6v0.6h-0.6zM475.3 165.3h0.6v0.6h-0.6zM453.2 176.8h0.6v0.6h-0.6zM431.8 171.1h0.6v0.6h-0.6zM485.1 160.1h0.6v0.6h-0.6zM459.4 172.6h0.6v0.6h-0.6zM482.9 167.4h0.6v0.6h-0.6zM447.6 169.7h0.6v0.6h-0.6zM480.7 163.8h0.6v0.6h-0.6zM455.3 177.0h0.6v0.6h-0.6zM485.8 177.2h0.6v0.6h-0.6zM445.6 169.4h0.6v0.6h-0.6zM453.4 174.1h0.6v0.6h-0.6zM458.1 177.8h0.6v0.6h-0.6zM422.4 186.4h0.6v0.6h-0.6zM453.2 170.1h0.6v0.6h-0.6zM473.5 167.8h0.6v0.6h-0.6zM450.2 182.4h0.6v0.6h-0.6zM472.5 163.6h0.6v0.6h-0.6zM465.6 161.4h0.6v0.6h-0.6zM443.8 172.5h0.6v0.6h-0.6zM470.0 168.0h0.6v0.6h-0.6zM449.3 164.0h0.6v0.6h-0.6zM439.7 185.8h0.6v0.6h-0.6zM468.6 162.6h0.6v0.6h-0.6zM483.9 167.2h0.6v0.6h-0.6zM456.4 167.1h0.6v0.6h-0.6zM482.8 166.1h0.6v0.6h-0.6zM490.8 164.2h0.6v0.6h-0.6zM453.7 167.9h0.6v0.6h-0.6zM453.1 173.5h0.6v0.6h-0.6zM469.1 171.6h0.6v0.6h-0.6zM469.5 160.7h0.6v0.6h-0.6zM459.2 164.2h0.6v0.6h-0.6zM469.6 159.0h0.6v0.6h-0.6zM453.3 166.3h0.6v0.6h-0.6zM453.7 170.1h0.6v0.6h-0.6zM487.8 161.0h0.6v0.6h-0.6zM440.6 173.3h0.6v0.6h-0.6zM476.9 169.1h0.6v0.6h-0.6zM471.0 180.0h0.6v0.6h-0.6zM481.9 164.8h0.6v0.6h-0.6zM481.3 155.7h0.6v0.6h-0.6zM459.9 164.5h0.6v0.6h-0.6zM469.5 178.0h0.6v0.6h-0.6zM458.7 180.7h0.6v0.6h-0.6zM450.0 182.0h0.6v0.6h-0.6zM435.6 171.1h0.6v0.6h-0.6zM479.8 164.2h0.6v0.6h-0.6zM466.3 168.3h0.6v0.6h-0.6zM466.6 167.1h0.6v0.6h-0.6zM447.9 171.4h0.6v0.6h-0.6zM464.3 163.1h0.6v0.6h-0.6zM474.3 177.6h0.6v0.6h-0.6zM436.9 172.7h0.6v0.6h-0.6zM459.6 170.3h0.6v0.6h-0.6zM464.4 164.2h0.6v0.6h-0.6zM463.5 169.2h0.6v0.6h-0.6zM465.1 178.6h0.6v0.6h-0.6zM463.7 159.5h0.6v0.6h-0.6zM440.0 179.3h0.6v0.6h-0.6zM457.6 166.7h0.6v0.6h-0.6zM441.9 172.9h0.6v0.6h-0.6zM461.4 165.3h0.6v0.6h-0.6zM459.8 175.8h0.6v0.6h-0.6zM477.4 168.9h0.6v0.6h-0.6zM459.0 161.6h0.6v0.6h-0.6zM478.8 174.7h0.6v0.6h-0.6zM486.2 170.6h0.6v0.6h-0.6zM469.0 170.1h0.6v0.6h-0.6zM465.8 176.6h0.6v0.6h-0.6zM463.2 183.1h0.6v0.6h-0.6zM475.9 163.7h0.6v0.6h-0.6zM461.4 159.3h0.6v0.6h-0.6zM451.8 170.3h0.6v0.6h-0.6zM478.8 165.5h0.6v0.6h-0.6zM460.3 174.0h0.6v0.6h-0.6zM433.7 183.2h0.6v0.6h-0.6zM495.3 162.5h0.6v0.6h-0.6zM463.3 170.2h0.6v0.6h-0.6zM473.8 163.2h0.6v0.6h-0.6zM466.7 171.5h0.6v0.6h-0.6zM459.1 172.8h0.6v0.6h-0.6zM470.5 171.9h0.6v0.6h-0.6zM447.4 170.0h0.6v0.6h-0.6zM459.1 178.0h0.6v0.6h-0.6zM465.3 158.0h0.6v0.6h-0.6zM446.8 186.1h0.6v0.6h-0.6zM467.3 159.8h0.6v0.6h-0.6zM449.7 173.7h0.6v0.6h-0.6zM489.4 172.7h0.6v0.6h-0.6zM457.7 168.8h0.6v0.6h-0.6zM493.0 154.9h0.6v0.6h-0.6zM489.5 164.4h0.6v0.6h-0.6zM467.6 176.4h0.6v0.6h-0.6zM470.4 161.9h0.6v0.6h-0.6zM439.7 175.6h0.6v0.6h-0.6zM474.4 175.1h0.6v0.6h-0.6zM424.5 188.2h0.6v0.6h-0.6zM476.3 175.5h0.6v0.6h-0.6zM477.1 166.9h0.6v0.6h-0.6zM471.5 169.6h0.6v0.6h-0.6zM453.8 171.0h0.6v0.6h-0.6zM465.3 165.7h0.6v0.6h-0.6zM438.3 166.5h0.6v0.6h-0.6zM472.9 170.0h0.6v0.6h-0.6zM463.8 161.5h0.6v0.6h-0.6zM476.9 163.0h0.6v0.6h-0.6zM433.4 187.3h0.6v0.6h-0.6zM443.9 189.0h0.6v0.6h-0.6zM471.8 164.1h0.6v0.6h-0.6zM425.4 174.8h0.6v0.6h-0.6zM489.8 170.9h0.6v0.6h-0.6zM465.4 157.6h0.6v0.6h-0.6zM457.5 168.9h0.6v0.6h-0.6zM471.2 166.3h0.6v0.6h-0.6zM466.9 157.7h0.6v0.6h-0.6zM456.1 180.4h0.6v0.6h-0.6zM442.3 180.8h0.6v0.6h-0.6zM443.9 182.4h0.6v0.6h-0.6zM435.0 179.0h0.6v0.6h-0.6zM459.5 178.2h0.6v0.6h-0.6zM483.1 165.1h0.6v0.6h-0.6zM494.2 167.3h0.6v0.6h-0.6zM454.8 165.1h0.6v0.6h-0.6zM470.4 166.5h0.6v0.6h-0.6zM453.9 161.3h0.6v0.6h-0.6zM461.5 168.9h0.6v0.6h-0.6zM478.8 161.7h0.6v0.6h-0.6zM437.3 169.2h0.6v0.6h-0.6zM463.8 170.7h0.6v0.6h-0.6zM474.9 163.6h0.6v0.6h-0.6zM472.8 167.6h0.6v0.6h-0.6zM490.8 161.4h0.6v0.6h-0.6zM467.2 171.8h0.6v0.6h-0.6zM481.9 158.2h0.6v0.6h-0.6zM456.0 169.4h0.6v0.6h-0.6zM432.1 186.0h0.6v0.6h-0.6zM481.1 164.5h0.6v0.6h-0.6zM476.1 156.6h0.6v0.6h-0.6zM489.1 165.0h0.6v0.6h-0.6zM445.0 174.4h0.6v0.6h-0.6zM477.6 171.7h0.6v0.6h-0.6zM466.0 165.1h0.6v0.6h-0.6zM475.0 161.1h0.6v0.6h-0.6zM464.0 173.9h0.6v0.6h-0.6zM441.6 177.4h0.6v0.6h-0.6zM431.3 171.8h0.6v0.6h-0.6zM444.2 173.7h0.6v0.6h-0.6zM475.3 165.6h0.6v0.6h-0.6zM478.7 165.7h0.6v0.6h-0.6zM461.5 172.9h0.6v0.6h-0.6zM460.4 170.8h0.6v0.6h-0.6zM479.7 161.1h0.6v0.6h-0.6zM480.6 157.4h0.6v0.6h-0.6zM457.7 159.4h0.6v0.6h-0.6zM458.1 180.9h0.6v0.6h-0.6zM471.8 175.2h0.6v0.6h-0.6zM438.9 169.2h0.6v0.6h-0.6zM472.8 172.0h0.6v0.6h-0.6zM474.6 155.3h0.6v0.6h-0.6zM472.0 166.4h0.6v0.6h-0.6zM466.7 171.4h0.6v0.6h-0.6zM456.8 160.0h0.6v0.6h-0.6zM444.6 164.8h0.6v0.6h-0.6zM442.8 173.8h0.6v0.6h-0.6zM483.7 159.1h0.6v0.6h-0.6zM449.9 165.3h0.6v0.6h-0.6zM436.5 176.8h0.6v0.6h-0.6zM455.9 169.6h0.6v0.6h-0.6zM449.4 176.1h0.6v0.6h-0.6zM445.7 177.5h0.6v0.6h-0.6zM454.7 176.6h0.6v0.6h-0.6zM450.5 175.5h0.6v0.6h-0.6zM470.9 166.6h0.6v0.6h-0.6zM490.4 163.1h0.6v0.6h-0.6zM450.9 177.0h0.6v0.6h-0.6zM450.0 169.3h0.6v0.6h-0.6zM464.5 170.0h0.6v0.6h-0.6zM488.4 151.1h0.6v0.6h-0.6zM461.7 176.9h0.6v0.6h-0.6zM462.0 171.6h0.6v0.6h-0.6zM486.4 155.0h0.6v0.6h-0.6zM466.0 173.6h0.6v0.6h-0.6zM451.8 160.9h0.6v0.6h-0.6zM448.4 174.5h0.6v0.6h-0.6zM470.0 179.4h0.6v0.6h-0.6zM482.7 153.9h0.6v0.6h-0.6zM482.1 170.1h0.6v0.6h-0.6zM489.7 161.1h0.6v0.6h-0.6zM455.3 172.3h0.6v0.6h-0.6zM489.8 166.2h0.6v0.6h-0.6zM492.4 166.5h0.6v0.6h-0.6zM453.0 165.4h0.6v0.6h-0.6zM491.2 151.9h0.6v0.6h-0.6zM457.9 168.6h0.6v0.6h-0.6zM448.5 169.4h0.6v0.6h-0.6zM468.0 183.4h0.6v0.6h-0.6zM462.1 166.1h0.6v0.6h-0.6zM467.5 174.2h0.6v0.6h-0.6zM450.3 170.0h0.6v0.6h-0.6zM437.2 180.8h0.6v0.6h-0.6zM477.3 175.2h0.6v0.6h-0.6zM448.4 187.3h0.6v0.6h-0.6zM477.5 163.6h0.6v0.6h-0.6zM457.2 168.8h0.6v0.6h-0.6zM445.8 178.9h0.6v0.6h-0.6zM453.1 167.2h0.6v0.6h-0.6zM472.4 167.5h0.6v0.6h-0.6zM454.3 170.1h0.6v0.6h-0.6zM458.3 179.3h0.6v0.6h-0.6zM478.9 160.3h0.6v0.6h-0.6zM465.6 177.5h0.6v0.6h-0.6zM462.3 181.1h0.6v0.6h-0.6zM472.2 171.2h0.6v0.6h-0.6zM432.1 183.1h0.6v0.6h-0.6zM470.4 171.1h0.6v0.6h-0.6zM472.6 170.1h0.6v0.6h-0.6zM457.3 176.7h0.6v0.6h-0.6zM463.3 162.4h0.6v0.6h-0.6zM448.0 174.4h0.6v0.6h-0.6zM465.8 154.1h0.6v0.6h-0.6zM432.7 184.2h0.6v0.6h-0.6zM468.5 186.4h0.6v0.6h-0.6zM439.1 174.1h0.6v0.6h-0.6zM455.3 175.0h0.6v0.6h-0.6zM489.2 172.8h0.6v0.6h-0.6zM449.9 180.8h0.6v0.6h-0.6zM445.0 176.1h0.6v0.6h-0.6zM467.8 172.0h0.6v0.6h-0.6zM453.4 180.6h0.6v0.6h-0.6zM462.9 169.2h0.6v0.6h-0.6zM458.0 163.7h0.6v0.6h-0.6zM476.1 167.9h0.6v0.6h-0.6zM474.3 178.4h0.6v0.6h-0.6zM449.6 171.0h0.6v0.6h-0.6zM465.5 174.2h0.6v0.6h-0.6zM462.7 175.4h0.6v0.6h-0.6zM468.5 156.3h0.6v0.6h-0.6zM449.7 159.6h0.6v0.6h-0.6zM458.7 167.7h0.6v0.6h-0.6zM473.7 167.5h0.6v0.6h-0.6zM465.0 177.0h0.6v0.6h-0.6zM471.5 158.9h0.6v0.6h-0.6zM453.5 174.0h0.6v0.6h-0.6zM491.0 160.5h0.6v0.6h-0.6zM461.7 171.4h0.6v0.6h-0.6zM476.4 165.1h0.6v0.6h-0.6zM468.0 165.2h0.6v0.6h-0.6zM453.9 166.5h0.6v0.6h-0.6zM473.7 162.8h0.6v0.6h-0.6zM473.5 169.1h0.6v0.6h-0.6zM475.2 148.5h0.6v0.6h-0.6zM446.5 165.7h0.6v0.6h-0.6zM462.7 174.6h0.6v0.6h-0.6zM486.4 165.5h0.6v0.6h-0.6zM458.7 173.9h0.6v0.6h-0.6zM430.6 184.0h0.6v0.6h-0.6zM465.1 172.7h0.6v0.6h-0.6zM445.7 166.7h0.6v0.6h-0.6zM453.6 171.5h0.6v0.6h-0.6zM469.0 165.3h0.6v0.6h-0.6zM470.7 171.6h0.6v0.6h-0.6zM445.2 173.4h0.6v0.6h-0.6zM438.1 172.3h0.6v0.6h-0.6zM477.3 160.8h0.6v0.6h-0.6zM494.7 164.1h0.6v0.6h-0.6zM478.4 165.8h0.6v0.6h-0.6zM479.7 172.0h0.6v0.6h-0.6zM464.9 165.3h0.6v0.6h-0.6zM458.3 183.1h0.6v0.6h-0.6zM460.3 167.0h0.6v0.6h-0.6zM449.9 161.8h0.6v0.6h-0.6zM456.5 173.1h0.6v0.6h-0.6zM455.0 166.5h0.6v0.6h-0.6zM471.3 170.0h0.6v0.6h-0.6zM457.5 172.8h0.6v0.6h-0.6zM449.8 178.4h0.6v0.6h-0.6zM447.6 171.2h0.6v0.6h-0.6zM465.5 165.9h0.6v0.6h-0.6zM449.1 186.7h0.6v0.6h-0.6zM485.5 151.8h0.6v0.6h-0.6zM463.9 160.7h0.6v0.6h-0.6zM466.9 159.7h0.6v0.6h-0.6zM474.2 169.7h0.6v0.6h-0.6zM493.4 169.0h0.6v0.6h-0.6zM458.2 176.7h0.6v0.6h-0.6zM456.5 170.3h0.6v0.6h-0.6zM453.1 160.4h0.6v0.6h-0.6zM470.4 154.0h0.6v0.6h-0.6zM461.1 173.2h0.6v0.6h-0.6zM463.3 158.9h0.6v0.6h-0.6zM454.7 175.9h0.6v0.6h-0.6zM484.3 174.0h0.6v0.6h-0.6zM435.6 179.6h0.6v0.6h-0.6zM457.5 175.7h0.6v0.6h-0.6zM436.7 175.4h0.6v0.6h-0.6zM474.3 162.0h0.6v0.6h-0.6zM456.6 164.6h0.6v0.6h-0.6zM479.7 156.1h0.6v0.6h-0.6zM448.8 170.9h0.6v0.6h-0.6zM462.4 183.3h0.6v0.6h-0.6zM467.0 162.7h0.6v0.6h-0.6zM473.9 168.6h0.6v0.6h-0.6zM468.4 167.4h0.6v0.6h-0.6zM469.5 159.9h0.6v0.6h-0.6zM444.0 171.6h0.6v0.6h-0.6zM447.4 178.0h0.6v0.6h-0.6zM471.7 169.1h0.6v0.6h-0.6zM450.9 164.0h0.6v0.6h-0.6zM470.4 157.6h0.6v0.6h-0.6zM468.6 166.8h0.6v0.6h-0.6zM476.1 166.1h0.6v0.6h-0.6zM464.8 165.0h0.6v0.6h-0.6zM435.8 174.3h0.6v0.6h-0.6zM476.9 172.4h0.6v0.6h-0.6zM484.5 157.0h0.6v0.6h-0.6zM450.1 177.3h0.6v0.6h-0.6zM460.9 186.7h0.6v0.6h-0.6zM466.6 158.4h0.6v0.6h-0.6zM457.7 181.0h0.6v0.6h-0.6zM435.0 177.8h0.6v0.6h-0.6zM444.4 184.8h0.6v0.6h-0.6zM455.1 164.6h0.6v0.6h-0.6zM435.4 172.0h0.6v0.6h-0.6zM422.2 177.1h0.6v0.6h-0.6zM457.8 163.0h0.6v0.6h-0.6zM468.7 164.6h0.6v0.6h-0.6zM452.7 181.1h0.6v0.6h-0.6zM469.6 161.7h0.6v0.6h-0.6zM487.6 162.3h0.6v0.6h-0.6zM472.3 167.7h0.6v0.6h-0.6zM483.9 167.7h0.6v0.6h-0.6zM459.6 174.9h0.6v0.6h-0.6zM457.9 171.5h0.6v0.6h-0.6zM488.6 155.4h0.6v0.6h-0.6zM446.7 171.0h0.6v0.6h-0.6zM458.1 179.1h0.6v0.6h-0.6zM442.2 189.9h0.6v0.6h-0.6zM488.7 159.4h0.6v0.6h-0.6zM466.4 166.0h0.6v0.6h-0.6zM475.9 170.2h0.6v0.6h-0.6zM477.3 170.4h0.6v0.6h-0.6zM494.7 159.6h0.6v0.6h-0.6zM474.9 164.8h0.6v0.6h-0.6zM465.0 170.2h0.6v0.6h-0.6zM463.7 171.3h0.6v0.6h-0.6zM450.1 171.7h0.6v0.6h-0.6zM452.4 164.5h0.6v0.6h-0.6zM451.8 169.0h0.6v0.6h-0.6zM459.0 160.1h0.6v0.6h-0.6zM458.0 163.2h0.6v0.6h-0.6zM451.2 173.7h0.6v0.6h-0.6zM482.3 166.0h0.6v0.6h-0.6zM455.4 168.4h0.6v0.6h-0.6zM482.9 153.3h0.6v0.6h-0.6zM479.8 154.9h0.6v0.6h-0.6zM453.9 172.0h0.6v0.6h-0.6zM463.2 180.1h0.6v0.6h-0.6zM471.9 166.6h0.6v0.6h-0.6zM479.4 165.1h0.6v0.6h-0.6zM452.9 179.3h0.6v0.6h-0.6zM490.2 170.4h0.6v0.6h-0.6zM448.3 185.7h0.6v0.6h-0.6zM458.6 175.5h0.6v0.6h-0.6zM487.1 178.4h0.6v0.6h-0.6zM436.4 169.7h0.6v0.6h-0.6zM483.8 167.0h0.6v0.6h-0.6zM454.2 152.4h0.6v0.6h-0.6zM470.8 166.0h0.6v0.6h-0.6zM426.4 196.7h0.6v0.6h-0.6zM422.9 176.3h0.6v0.6h-0.6zM464.3 170.4h0.6v0.6h-0.6zM475.7 164.1h0.6v0.6h-0.6zM449.0 170.7h0.6v0.6h-0.6zM428.4 171.2h0.6v0.6h-0.6zM494.6 156.3h0.6v0.6h-0.6zM465.8 181.0h0.6v0.6h-0.6zM481.1 165.2h0.6v0.6h-0.6zM475.4 164.2h0.6v0.6h-0.6zM451.1 179.0h0.6v0.6h-0.6zM468.8 178.2h0.6v0.6h-0.6zM459.2 167.8h0.6v0.6h-0.6zM469.2 166.4h0.6v0.6h-0.6zM457.5 164.9h0.6v0.6h-0.6zM468.6 169.9h0.6v0.6h-0.6zM493.4 161.0h0.6v0.6h-0.6zM436.5 179.4h0.6v0.6h-0.6zM450.8 171.4h0.6v0.6h-0.6zM417.4 179.3h0.6v0.6h-0.6zM458.5 160.5h0.6v0.6h-0.6zM471.8 161.1h0.6v0.6h-0.6zM433.1 172.6h0.6v0.6h-0.6zM477.4 178.1h0.6v0.6h-0.6zM484.5 164.8h0.6v0.6h-0.6zM455.3 169.6h0.6v0.6h-0.6zM478.7 161.6h0.6v0.6h-0.6zM472.3 173.1h0.6v0.6h-0.6zM448.4 169.3h0.6v0.6h-0.6zM471.2 167.1h0.6v0.6h-0.6zM461.1 166.3h0.6v0.6h-0.6zM466.0 180.7h0.6v0.6h-0.6zM483.2 153.2h0.6v0.6h-0.6zM464.9 169.4h0.6v0.6h-0.6zM462.3 160.4h0.6v0.6h-0.6zM462.2 170.5h0.6v0.6h-0.6zM453.5 173.9h0.6v0.6h-0.6zM422.3 170.3h0.6v0.6h-0.6zM466.3 171.0h0.6v0.6h-0.6zM460.6 166.9h0.6v0.6h-0.6zM468.8 174.9h0.6v0.6h-0.6zM478.4 164.6h0.6v0.6h-0.6zM458.3 177.5h0.6v0.6h-0.6zM474.2 172.1h0.6v0.6h-0.6zM458.1 164.9h0.6v0.6h-0.6zM466.0 164.4h0.6v0.6h-0.6zM483.9 169.3h0.6v0.6h-0.6zM430.0 182.5h0.6v0.6h-0.6zM487.2 169.6h0.6v0.6h-0.6zM455.0 165.8h0.6v0.6h-0.6zM481.3 171.0h0.6v0.6h-0.6zM463.1 161.6h0.6v0.6h-0.6zM439.8 177.2h0.6v0.6h-0.6zM449.6 168.4h0.6v0.6h-0.6zM472.9 173.5h0.6v0.6h-0.6zM429.6 173.8h0.6v0.6h-0.6zM484.9 163.1h0.6v0.6h-0.6zM459.5 174.4h0.6v0.6h-0.6zM443.6 166.4h0.6v0.6h-0.6zM466.9 178.5h0.6v0.6h-0.6zM480.4 164.6h0.6v0.6h-0.6zM479.6 162.1h0.6v0.6h-0.6zM442.2 163.8h0.6v0.6h-0.6zM469.9 173.4h0.6v0.6h-0.6zM469.9 167.2h0.6v0.6h-0.6zM459.3 177.4h0.6v0.6h-0.6zM460.9 160.3h0.6v0.6h-0.6zM485.0 159.1h0.6v0.6h-0.6zM470.3 167.3h0.6v0.6h-0.6zM481.4 166.0h0.6v0.6h-0.6zM484.1 165.0h0.6v0.6h-0.6zM455.7 167.9h0.6v0.6h-0.6zM473.1 161.1h0.6v0.6h-0.6zM478.6 163.5h0.6v0.6h-0.6zM447.6 167.6h0.6v0.6h-0.6zM464.6 180.5h0.6v0.6h-0.6zM476.5 165.8h0.6v0.6h-0.6zM452.5 184.6h0.6v0.6h-0.6zM459.5 170.2h0.6v0.6h-0.6zM459.4 179.0h0.6v0.6h-0.6zM466.1 165.4h0.6v0.6h-0.6zM465.3 162.1h0.6v0.6h-0.6zM446.8 172.6h0.6v0.6h-0.6zM419.5 188.7h0.6v0.6h-0.6zM494.2 153.6h0.6v0.6h-0.6zM459.1 159.9h0.6v0.6h-0.6zM467.1 169.6h0.6v0.6h-0.6zM473.8 157.6h0.6v0.6h-0.6zM453.2 167.6h0.6v0.6h-0.6zM463.8 184.1h0.6v0.6h-0.6zM460.7 169.6h0.6v0.6h-0.6zM457.1 176.1h0.6v0.6h-0.6zM486.9 155.8h0.6v0.6h-0.6zM481.1 164.6h0.6v0.6h-0.6zM485.9 170.1h0.6v0.6h-0.6zM471.8 155.8h0.6v0.6h-0.6zM465.3 165.3h0.6v0.6h-0.6zM471.3 167.3h0.6v0.6h-0.6zM478.3 154.6h0.6v0.6h-0.6zM451.9 171.7h0.6v0.6h-0.6zM468.5 165.1h0.6v0.6h-0.6zM463.6 169.5h0.6v0.6h-0.6zM480.7 163.8h0.6v0.6h-0.6zM464.9 156.8h0.6v0.6h-0.6zM419.3 171.3h0.6v0.6h-0.6zM466.0 153.3h0.6v0.6h-0.6zM470.5 166.6h0.6v0.6h-0.6zM462.8 164.5h0.6v0.6h-0.6zM458.6 175.9h0.6v0.6h-0.6zM469.7 167.3h0.6v0.6h-0.6zM456.5 172.4h0.6v0.6h-0.6zM483.2 163.7h0.6v0.6h-0.6zM456.1 163.3h0.6v0.6h-0.6zM464.1 162.9h0.6v0.6h-0.6zM442.2 180.6h0.6v0.6h-0.6zM450.6 159.1h0.6v0.6h-0.6zM455.4 183.5h0.6v0.6h-0.6zM460.1 161.3h0.6v0.6h-0.6zM447.4 178.2h0.6v0.6h-0.6zM470.9 168.6h0.6v0.6h-0.6zM461.6 172.8h0.6v0.6h-0.6zM489.7 165.3h0.6v0.6h-0.6zM459.0 161.1h0.6v0.6h-0.6zM473.8 176.7h0.6v0.6h-0.6zM472.4 158.4h0.6v0.6h-0.6zM469.1 176.2h0.6v0.6h-0.6zM454.6 174.8h0.6v0.6h-0.6zM486.3 173.9h0.6v0.6h-0.6zM435.4 165.1h0.6v0.6h-0.6zM471.2 171.7h0.6v0.6h-0.6zM458.2 170.4h0.6v0.6h-0.6zM459.4 178.2h0.6v0.6h-0.6zM428.7 180.2h0.6v0.6h-0.6zM442.2 170.4h0.6v0.6h-0.6zM437.7 170.0h0.6v0.6h-0.6zM463.7 169.3h0.6v0.6h-0.6zM492.5 159.9h0.6v0.6h-0.6zM470.2 169.7h0.6v0.6h-0.6zM470.6 176.9h0.6v0.6h-0.6zM466.5 169.3h0.6v0.6h-0.6zM462.2 169.5h0.6v0.6h-0.6zM464.7 175.4h0.6v0.6h-0.6zM464.4 169.3h0.6v0.6h-0.6zM464.5 173.9h0.6v0.6h-0.6zM457.9 176.8h0.6v0.6h-0.6zM455.9 175.8h0.6v0.6h-0.6zM495.5 162.1h0.6v0.6h-0.6zM460.6 162.1h0.6v0.6h-0.6zM476.0 165.9h0.6v0.6h-0.6zM477.6 161.0h0.6v0.6h-0.6zM475.4 177.9h0.6v0.6h-0.6zM470.0 165.2h0.6v0.6h-0.6zM442.9 174.6h0.6v0.6h-0.6zM475.7 169.8h0.6v0.6h-0.6zM444.2 167.5h0.6v0.6h-0.6zM446.5 166.9h0.6v0.6h-0.6zM460.0 171.8h0.6v0.6h-0.6zM495.5 161.9h0.6v0.6h-0.6zM484.8 152.5h0.6v0.6h-0.6zM490.3 167.2h0.6v0.6h-0.6zM472.5 172.2h0.6v0.6h-0.6zM477.2 178.2h0.6v0.6h-0.6zM474.2 154.7h0.6v0.6h-0.6zM438.4 186.6h0.6v0.6h-0.6zM464.8 177.6h0.6v0.6h-0.6zM457.4 166.4h0.6v0.6h-0.6zM459.0 172.4h0.6v0.6h-0.6zM466.0 164.4h0.6v0.6h-0.6zM473.7 170.5h0.6v0.6h-0.6zM447.3 166.1h0.6v0.6h-0.6zM431.7 175.6h0.6v0.6h-0.6zM463.0 164.6h0.6v0.6h-0.6zM454.0 170.8h0.6v0.6h-0.6zM465.4 172.4h0.6v0.6h-0.6zM478.2 168.1h0.6v0.6h-0.6zM480.5 158.1h0.6v0.6h-0.6zM474.5 168.7h0.6v0.6h-0.6zM446.0 169.3h0.6v0.6h-0.6zM471.3 167.5h0.6v0.6h-0.6zM442.7 171.0h0.6v0.6h-0.6zM490.1 167.6h0.6v0.6h-0.6zM467.6 177.0h0.6v0.6h-0.6zM449.0 171.9h0.6v0.6h-0.6zM479.0 162.7h0.6v0.6h-0.6zM446.8 177.5h0.6v0.6h-0.6zM485.8 146.3h0.6v0.6h-0.6zM464.4 160.6h0.6v0.6h-0.6zM456.8 161.5h0.6v0.6h-0.6zM463.5 164.4h0.6v0.6h-0.6zM447.2 170.5h0.6v0.6h-0.6zM470.3 179.0h0.6v0.6h-0.6zM471.3 177.5h0.6v0.6h-0.6zM446.8 174.1h0.6v0.6h-0.6zM454.3 161.2h0.6v0.6h-0.6zM466.7 163.3h0.6v0.6h-0.6zM452.9 165.1h0.6v0.6h-0.6zM480.0 162.0h0.6v0.6h-0.6zM462.0 170.8h0.6v0.6h-0.6zM444.5 175.8h0.6v0.6h-0.6zM462.0 172.5h0.6v0.6h-0.6zM457.8 170.9h0.6v0.6h-0.6zM474.0 172.7h0.6v0.6h-0.6zM454.4 178.0h0.6v0.6h-0.6zM447.7 172.1h0.6v0.6h-0.6zM466.4 169.3h0.6v0.6h-0.6zM421.9 173.8h0.6v0.6h-0.6zM462.5 175.5h0.6v0.6h-0.6zM455.1 181.4h0.6v0.6h-0.6zM434.9 177.3h0.6v0.6h-0.6zM472.8 166.8h0.6v0.6h-0.6zM469.8 173.6h0.6v0.6h-0.6zM451.9 176.2h0.6v0.6h-0.6zM480.9 162.9h0.6v0.6h-0.6zM424.5 171.7h0.6v0.6h-0.6zM448.4 166.1h0.6v0.6h-0.6zM469.7 162.1h0.6v0.6h-0.6zM442.3 172.9h0.6v0.6h-0.6zM489.9 166.6h0.6v0.6h-0.6zM449.2 179.9h0.6v0.6h-0.6zM460.0 184.8h0.6v0.6h-0.6zM456.0 175.1h0.6v0.6h-0.6zM472.4 163.8h0.6v0.6h-0.6zM463.4 176.9h0.6v0.6h-0.6zM472.0 166.5h0.6v0.6h-0.6zM474.1 177.9h0.6v0.6h-0.6zM479.9 167.9h0.6v0.6h-0.6zM466.7 157.9h0.6v0.6h-0.6zM465.4 165.4h0.6v0.6h-0.6zM474.9 162.1h0.6v0.6h-0.6zM469.5 160.5h0.6v0.6h-0.6zM477.3 160.6h0.6v0.6h-0.6zM464.5 172.7h0.6v0.6h-0.6zM458.8 170.5h0.6v0.6h-0.6zM484.2 175.4h0.6v0.6h-0.6zM433.2 171.2h0.6v0.6h-0.6zM476.5 171.9h0.6v0.6h-0.6zM456.5 171.6h0.6v0.6h-0.6zM464.7 184.0h0.6v0.6h-0.6zM458.8 162.5h0.6v0.6h-0.6zM436.7 167.8h0.6v0.6h-0.6zM484.5 160.9h0.6v0.6h-0.6zM471.3 171.3h0.6v0.6h-0.6zM478.4 171.3h0.6v0.6h-0.6zM447.2 169.8h0.6v0.6h-0.6zM455.3 172.0h0.6v0.6h-0.6zM457.9 162.4h0.6v0.6h-0.6zM455.7 183.1h0.6v0.6h-0.6zM470.1 167.1h0.6v0.6h-0.6zM451.5 177.1h0.6v0.6h-0.6zM465.6 179.7h0.6v0.6h-0.6zM470.9 165.1h0.6v0.6h-0.6zM420.9 179.9h0.6v0.6h-0.6zM476.6 160.9h0.6v0.6h-0.6zM479.5 169.4h0.6v0.6h-0.6zM435.0 175.5h0.6v0.6h-0.6zM470.5 172.3h0.6v0.6h-0.6zM466.5 168.2h0.6v0.6h-0.6zM457.9 168.7h0.6v0.6h-0.6zM462.3 162.4h0.6v0.6h-0.6zM473.9 164.2h0.6v0.6h-0.6zM471.6 163.6h0.6v0.6h-0.6zM470.9 168.0h0.6v0.6h-0.6zM479.2 168.0h0.6v0.6h-0.6zM478.9 163.9h0.6v0.6h-0.6zM462.7 167.6h0.6v0.6h-0.6zM443.4 173.7h0.6v0.6h-0.6zM482.9 169.0h0.6v0.6h-0.6zM450.7 174.6h0.6v0.6h-0.6zM473.9 157.3h0.6v0.6h-0.6zM470.2 169.5h0.6v0.6h-0.6zM476.6 167.3h0.6v0.6h-0.6zM432.4 164.1h0.6v0.6h-0.6zM495.5 157.9h0.6v0.6h-0.6zM486.8 171.3h0.6v0.6h-0.6zM463.5 161.5h0.6v0.6h-0.6zM486.1 162.8h0.6v0.6h-0.6zM473.2 169.7h0.6v0.6h-0.6zM481.2 171.1h0.6v0.6h-0.6zM438.6 166.5h0.6v0.6h-0.6zM466.3 168.4h0.6v0.6h-0.6zM476.4 164.8h0.6v0.6h-0.6zM464.4 182.3h0.6v0.6h-0.6zM488.2 170.2h0.6v0.6h-0.6zM479.5 159.6h0.6v0.6h-0.6zM462.5 168.9h0.6v0.6h-0.6zM444.8 168.4h0.6v0.6h-0.6zM464.6 160.8h0.6v0.6h-0.6zM473.6 169.6h0.6v0.6h-0.6zM459.6 167.9h0.6v0.6h-0.6zM474.6 169.3h0.6v0.6h-0.6zM467.9 159.8h0.6v0.6h-0.6zM441.1 188.7h0.6v0.6h-0.6zM452.8 169.6h0.6v0.6h-0.6zM433.1 172.0h0.6v0.6h-0.6zM453.4 177.1h0.6v0.6h-0.6zM418.8 171.8h0.6v0.6h-0.6zM456.5 167.8h0.6v0.6h-0.6zM450.7 169.6h0.6v0.6h-0.6zM438.9 177.5h0.6v0.6h-0.6zM483.6 164.8h0.6v0.6h-0.6zM457.4 179.1h0.6v0.6h-0.6zM470.2 160.5h0.6v0.6h-0.6zM453.7 167.7h0.6v0.6h-0.6zM465.3 176.7h0.6v0.6h-0.6zM452.3 171.2h0.6v0.6h-0.6zM463.9 161.2h0.6v0.6h-0.6zM457.3 174.9h0.6v0.6h-0.6zM479.3 152.5h0.6v0.6h-0.6zM475.0 164.1h0.6v0.6h-0.6zM486.0 167.2h0.6v0.6h-0.6zM456.2 165.6h0.6v0.6h-0.6zM441.7 178.6h0.6v0.6h-0.6zM473.7 171.8h0.6v0.6h-0.6zM467.2 158.2h0.6v0.6h-0.6zM457.0 169.3h0.6v0.6h-0.6zM467.9 173.0h0.6v0.6h-0.6zM487.5 164.6h0.6v0.6h-0.6zM428.8 171.7h0.6v0.6h-0.6zM428.1 173.6h0.6v0.6h-0.6zM444.9 175.7h0.6v0.6h-0.6zM462.3 176.8h0.6v0.6h-0.6zM480.8 161.5h0.6v0.6h-0.6zM479.4 165.0h0.6v0.6h-0.6zM473.6 175.3h0.6v0.6h-0.6zM445.3 173.6h0.6v0.6h-0.6zM487.7 157.6h0.6v0.6h-0.6zM467.7 168.9h0.6v0.6h-0.6zM455.1 162.7h0.6v0.6h-0.6zM451.2 165.9h0.6v0.6h-0.6zM482.0 165.8h0.6v0.6h-0.6zM473.4 158.6h0.6v0.6h-0.6zM472.4 167.7h0.6v0.6h-0.6zM479.8 160.0h0.6v0.6h-0.6zM479.4 173.9h0.6v0.6h-0.6zM491.7 155.4h0.6v0.6h-0.6zM443.4 164.9h0.6v0.6h-0.6zM480.6 168.5h0.6v0.6h-0.6zM468.1 162.2h0.6v0.6h-0.6zM487.0 173.4h0.6v0.6h-0.6zM463.2 168.4h0.6v0.6h-0.6zM484.1 166.9h0.6v0.6h-0.6zM485.2 160.7h0.6v0.6h-0.6zM469.0 165.4h0.6v0.6h-0.6zM454.3 169.6h0.6v0.6h-0.6zM460.2 173.3h0.6v0.6h-0.6zM459.2 170.8h0.6v0.6h-0.6zM448.9 165.0h0.6v0.6h-0.6zM485.6 156.7h0.6v0.6h-0.6zM495.0 166.9h0.6v0.6h-0.6zM425.8 175.0h0.6v0.6h-0.6zM457.3 170.9h0.6v0.6h-0.6zM460.1 166.1h0.6v0.6h-0.6zM484.1 162.8h0.6v0.6h-0.6zM478.5 160.6h0.6v0.6h-0.6zM455.0 180.2h0.6v0.6h-0.6zM457.6 163.5h0.6v0.6h-0.6zM463.0 176.2h0.6v0.6h-0.6zM460.2 165.3h0.6v0.6h-0.6zM476.0 172.3h0.6v0.6h-0.6zM460.1 167.9h0.6v0.6h-0.6zM462.6 187.2h0.6v0.6h-0.6zM463.8 180.5h0.6v0.6h-0.6zM462.3 172.1h0.6v0.6h-0.6zM431.3 178.9h0.6v0.6h-0.6zM464.4 166.8h0.6v0.6h-0.6zM455.2 162.4h0.6v0.6h-0.6zM440.1 176.5h0.6v0.6h-0.6zM453.5 171.2h0.6v0.6h-0.6zM460.3 166.7h0.6v0.6h-0.6zM455.3 183.6h0.6v0.6h-0.6zM445.3 170.7h0.6v0.6h-0.6zM457.3 163.2h0.6v0.6h-0.6zM449.9 178.5h0.6v0.6h-0.6zM479.4 165.8h0.6v0.6h-0.6zM482.7 158.6h0.6v0.6h-0.6zM484.4 174.6h0.6v0.6h-0.6zM460.9 181.7h0.6v0.6h-0.6zM449.1 165.5h0.6v0.6h-0.6zM462.0 164.2h0.6v0.6h-0.6zM472.6 159.4h0.6v0.6h-0.6zM462.2 156.6h0.6v0.6h-0.6zM465.2 175.6h0.6v0.6h-0.6zM460.3 172.1h0.6v0.6h-0.6zM479.9 157.5h0.6v0.6h-0.6zM443.6 175.0h0.6v0.6h-0.6zM468.1 166.1h0.6v0.6h-0.6zM450.3 180.6h0.6v0.6h-0.6zM444.8 172.4h0.6v0.6h-0.6zM464.6 173.6h0.6v0.6h-0.6zM455.4 165.9h0.6v0.6h-0.6zM495.3 155.1h0.6v0.6h-0.6zM476.7 164.6h0.6v0.6h-0.6zM456.3 170.8h0.6v0.6h-0.6z"/>
<path fill="#5a5a5a" opacity="0.55" d="M444.6 151.3h0.6v0.6h-0.6zM419.8 153.6h0.6v0.6h-0.6zM446.8 143.3h0.6v0.6h-0.6zM445.3 163.2h0.6v0.6h-0.6zM467.4 149.2h0.6v0.6h-0.6zM449.2 146.8h0.6v0.6h-0.6zM461.4 143.8h0.6v0.6h-0.6zM439.0 154.5h0.6v0.6h-0.6zM435.9 146.3h0.6v0.6h-0.6zM460.9 137.0h0.6v0.6h-0.6zM446.5 149.8h0.6v0.6h-0.6zM448.3 140.1h0.6v0.6h-0.6zM444.3 147.5h0.6v0.6h-0.6zM468.6 151.2h0.6v0.6h-0.6zM439.8 155.5h0.6v0.6h-0.6zM453.9 147.1h0.6v0.6h-0.6zM444.2 147.9h0.6v0.6h-0.6zM429.9 148.3h0.6v0.6h-0.6zM458.5 155.6h0.6v0.6h-0.6zM466.5 143.3h0.6v0.6h-0.6zM451.2 134.0h0.6v0.6h-0.6zM442.9 142.2h0.6v0.6h-0.6zM454.2 137.9h0.6v0.6h-0.6zM434.8 144.6h0.6v0.6h-0.6zM452.1 153.1h0.6v0.6h-0.6zM439.1 161.1h0.6v0.6h-0.6zM447.9 143.9h0.6v0.6h-0.6zM450.8 148.3h0.6v0.6h-0.6zM456.3 149.4h0.6v0.6h-0.6zM471.6 151.6h0.6v0.6h-0.6zM441.0 154.7h0.6v0.6h-0.6zM454.2 141.8h0.6v0.6h-0.6zM438.2 145.8h0.6v0.6h-0.6zM421.3 157.3h0.6v0.6h-0.6zM446.0 156.5h0.6v0.6h-0.6zM441.2 150.5h0.6v0.6h-0.6zM455.8 153.2h0.6v0.6h-0.6zM449.4 142.4h0.6v0.6h-0.6zM471.5 149.8h0.6v0.6h-0.6zM463.3 155.8h0.6v0.6h-0.6zM462.5 148.7h0.6v0.6h-0.6zM452.8 151.7h0.6v0.6h-0.6zM431.8 156.5h0.6v0.6h-0.6zM437.1 153.3h0.6v0.6h-0.6zM437.0 155.0h0.6v0.6h-0.6zM444.4 164.3h0.6v0.6h-0.6zM449.6 151.6h0.6v0.6h-0.6zM437.1 149.0h0.6v0.6h-0.6zM446.2 147.4h0.6v0.6h-0.6zM441.5 144.8h0.6v0.6h-0.6zM454.8 145.3h0.6v0.6h-0.6zM438.7 152.6h0.6v0.6h-0.6zM438.2 149.5h0.6v0.6h-0.6zM440.7 144.6h0.6v0.6h-0.6zM443.8 144.7h0.6v0.6h-0.6zM434.0 153.4h0.6v0.6h-0.6zM442.4 141.1h0.6v0.6h-0.6zM443.0 150.8h0.6v0.6h-0.6zM452.0 150.3h0.6v0.6h-0.6zM450.4 151.9h0.6v0.6h-0.6zM441.0 145.3h0.6v0.6h-0.6zM453.2 145.5h0.6v0.6h-0.6zM447.8 152.7h0.6v0.6h-0.6zM458.3 154.3h0.6v0.6h-0.6zM439.4 148.2h0.6v0.6h-0.6zM451.6 139.7h0.6v0.6h-0.6zM434.3 154.9h0.6v0.6h-0.6zM439.6 144.8h0.6v0.6h-0.6zM456.2 150.5h0.6v0.6h-0.6zM456.5 145.4h0.6v0.6h-0.6zM443.7 147.6h0.6v0.6h-0.6zM448.2 136.8h0.6v0.6h-0.6zM440.4 154.4h0.6v0.6h-0.6zM438.7 150.1h0.6v0.6h-0.6zM448.9 151.8h0.6v0.6h-0.6zM440.9 143.4h0.6v0.6h-0.6zM473.0 140.2h0.6v0.6h-0.6zM463.5 135.7h0.6v0.6h-0.6zM448.1 147.7h0.6v0.6h-0.6zM469.4 157.2h0.6v0.6h-0.6zM456.5 141.3h0.6v0.6h-0.6zM437.8 146.2h0.6v0.6h-0.6zM441.9 151.5h0.6v0.6h-0.6zM438.5 149.1h0.6v0.6h-0.6zM464.2 154.5h0.6v0.6h-0.6zM426.3 147.0h0.6v0.6h-0.6zM444.4 157.1h0.6v0.6h-0.6zM445.5 160.6h0.6v0.6h-0.6zM452.4 156.6h0.6v0.6h-0.6zM437.6 148.8h0.6v0.6h-0.6zM458.5 150.4h0.6v0.6h-0.6zM426.9 150.9h0.6v0.6h-0.6zM449.7 152.3h0.6v0.6h-0.6zM442.1 160.2h0.6v0.6h-0.6zM450.2 157.0h0.6v0.6h-0.6zM451.5 148.7h0.6v0.6h-0.6zM442.5 142.9h0.6v0.6h-0.6zM457.1 151.7h0.6v0.6h-0.6zM456.7 145.1h0.6v0.6h-0.6zM436.0 148.7h0.6v0.6h-0.6zM443.8 149.5h0.6v0.6h-0.6zM456.7 141.9h0.6v0.6h-0.6zM442.6 153.9h0.6v0.6h-0.6zM459.0 160.0h0.6v0.6h-0.6zM451.9 143.1h0.6v0.6h-0.6zM435.3 146.4h0.6v0.6h-0.6zM448.1 150.3h0.6v0.6h-0.6zM445.8 145.6h0.6v0.6h-0.6zM445.1 148.9h0.6v0.6h-0.6zM453.5 148.4h0.6v0.6h-0.6zM437.3 143.8h0.6v0.6h-0.6zM462.8 145.7h0.6v0.6h-0.6zM445.2 149.2h0.6v0.6h-0.6zM458.8 145.1h0.6v0.6h-0.6zM448.8 147.3h0.6v0.6h-0.6zM452.3 142.1h0.6v0.6h-0.6zM450.3 154.5h0.6v0.6h-0.6zM460.3 150.3h0.6v0.6h-0.6zM451.8 157.4h0.6v0.6h-0.6zM456.1 155.7h0.6v0.6h-0.6zM433.3 145.0h0.6v0.6h-0.6zM455.4 146.0h0.6v0.6h-0.6zM441.6 144.4h0.6v0.6h-0.6zM461.7 139.4h0.6v0.6h-0.6zM446.8 140.8h0.6v0.6h-0.6zM447.6 162.2h0.6v0.6h-0.6zM472.5 141.6h0.6v0.6h-0.6zM438.1 160.2h0.6v0.6h-0.6zM436.2 140.4h0.6v0.6h-0.6zM449.8 142.2h0.6v0.6h-0.6zM432.9 158.1h0.6v0.6h-0.6zM438.3 144.3h0.6v0.6h-0.6zM448.7 147.6h0.6v0.6h-0.6zM459.2 147.4h0.6v0.6h-0.6zM465.2 152.5h0.6v0.6h-0.6zM467.2 152.1h0.6v0.6h-0.6zM448.5 152.0h0.6v0.6h-0.6zM445.8 140.0h0.6v0.6h-0.6zM435.4 155.4h0.6v0.6h-0.6zM421.2 148.7h0.6v0.6h-0.6zM433.5 151.0h0.6v0.6h-0.6zM436.4 152.4h0.6v0.6h-0.6zM444.6 146.7h0.6v0.6h-0.6zM435.9 137.9h0.6v0.6h-0.6zM446.6 141.5h0.6v0.6h-0.6zM444.4 151.7h0.6v0.6h-0.6zM459.0 151.0h0.6v0.6h-0.6zM461.4 138.1h0.6v0.6h-0.6zM455.9 156.7h0.6v0.6h-0.6zM450.2 141.9h0.6v0.6h-0.6zM450.9 145.3h0.6v0.6h-0.6zM441.4 156.3h0.6v0.6h-0.6zM444.2 142.9h0.6v0.6h-0.6zM442.0 161.5h0.6v0.6h-0.6zM438.9 154.4h0.6v0.6h-0.6zM450.2 155.3h0.6v0.6h-0.6zM443.3 144.1h0.6v0.6h-0.6zM439.3 144.3h0.6v0.6h-0.6zM474.9 145.2h0.6v0.6h-0.6zM445.0 156.8h0.6v0.6h-0.6zM453.9 146.7h0.6v0.6h-0.6zM454.0 149.4h0.6v0.6h-0.6zM460.8 156.3h0.6v0.6h-0.6zM443.8 149.4h0.6v0.6h-0.6zM446.5 156.3h0.6v0.6h-0.6zM452.0 152.7h0.6v0.6h-0.6zM456.1 143.7h0.6v0.6h-0.6zM449.9 156.7h0.6v0.6h-0.6zM457.8 151.9h0.6v0.6h-0.6zM443.8 147.5h0.6v0.6h-0.6zM437.8 149.0h0.6v0.6h-0.6zM445.1 140.9h0.6v0.6h-0.6zM458.7 142.4h0.6v0.6h-0.6zM450.4 152.0h0.6v0.6h-0.6zM439.5 139.7h0.6v0.6h-0.6zM457.8 149.5h0.6v0.6h-0.6zM445.7 155.9h0.6v0.6h-0.6zM455.7 141.9h0.6v0.6h-0.6zM444.6 139.1h0.6v0.6h-0.6zM445.8 157.5h0.6v0.6h-0.6zM439.1 155.3h0.6v0.6h-0.6zM430.9 150.1h0.6v0.6h-0.6zM458.9 157.0h0.6v0.6h-0.6zM452.7 152.5h0.6v0.6h-0.6zM462.9 131.8h0.6v0.6h-0.6zM431.0 163.0h0.6v0.6h-0.6zM473.9 147.8h0.6v0.6h-0.6zM448.1 150.3h0.6v0.6h-0.6zM446.9 145.4h0.6v0.6h-0.6zM446.9 148.3h0.6v0.6h-0.6zM454.9 151.6h0.6v0.6h-0.6zM458.1 150.5h0.6v0.6h-0.6zM438.3 158.7h0.6v0.6h-0.6zM419.1 154.6h0.6v0.6h-0.6zM450.1 145.3h0.6v0.6h-0.6zM465.9 139.3h0.6v0.6h-0.6zM434.3 148.3h0.6v0.6h-0.6zM452.4 152.7h0.6v0.6h-0.6zM449.0 152.6h0.6v0.6h-0.6zM439.2 146.8h0.6v0.6h-0.6zM447.2 141.1h0.6v0.6h-0.6zM448.8 146.4h0.6v0.6h-0.6zM453.4 141.9h0.6v0.6h-0.6zM441.0 146.7h0.6v0.6h-0.6zM442.3 144.0h0.6v0.6h-0.6zM443.1 141.7h0.6v0.6h-0.6zM453.5 151.8h0.6v0.6h-0.6zM446.8 147.9h0.6v0.6h-0.6zM436.8 145.2h0.6v0.6h-0.6zM444.0 144.2h0.6v0.6h-0.6zM435.0 152.1h0.6v0.6h-0.6zM446.6 146.7h0.6v0.6h-0.6zM438.6 150.2h0.6v0.6h-0.6zM439.5 147.8h0.6v0.6h-0.6zM449.9 152.8h0.6v0.6h-0.6zM454.5 144.1h0.6v0.6h-0.6zM458.7 140.1h0.6v0.6h-0.6zM446.7 156.7h0.6v0.6h-0.6zM472.3 145.3h0.6v0.6h-0.6zM443.0 147.5h0.6v0.6h-0.6zM434.3 150.4h0.6v0.6h-0.6zM442.0 145.5h0.6v0.6h-0.6zM459.0 142.3h0.6v0.6h-0.6zM465.8 150.6h0.6v0.6h-0.6zM453.3 144.4h0.6v0.6h-0.6zM439.8 138.5h0.6v0.6h-0.6zM449.8 146.9h0.6v0.6h-0.6zM450.6 144.4h0.6v0.6h-0.6zM450.8 139.5h0.6v0.6h-0.6zM424.7 155.7h0.6v0.6h-0.6zM455.3 129.0h0.6v0.6h-0.6zM460.3 144.6h0.6v0.6h-0.6zM443.9 140.5h0.6v0.6h-0.6zM437.4 154.9h0.6v0.6h-0.6zM439.4 150.1h0.6v0.6h-0.6zM447.6 160.6h0.6v0.6h-0.6zM455.2 139.8h0.6v0.6h-0.6zM441.0 143.3h0.6v0.6h-0.6zM431.9 147.7h0.6v0.6h-0.6zM458.8 147.2h0.6v0.6h-0.6zM454.1 147.0h0.6v0.6h-0.6zM442.8 150.2h0.6v0.6h-0.6zM448.3 160.1h0.6v0.6h-0.6zM466.4 147.8h0.6v0.6h-0.6zM451.5 136.5h0.6v0.6h-0.6zM448.3 162.9h0.6v0.6h-0.6zM439.6 155.1h0.6v0.6h-0.6zM459.5 144.5h0.6v0.6h-0.6zM444.3 146.8h0.6v0.6h-0.6zM455.5 147.6h0.6v0.6h-0.6zM464.1 153.0h0.6v0.6h-0.6zM449.7 163.8h0.6v0.6h-0.6zM443.3 146.1h0.6v0.6h-0.6zM443.8 144.4h0.6v0.6h-0.6zM442.7 149.4h0.6v0.6h-0.6zM454.9 138.3h0.6v0.6h-0.6zM431.7 147.2h0.6v0.6h-0.6zM444.4 152.1h0.6v0.6h-0.6zM440.4 159.1h0.6v0.6h-0.6zM441.4 148.7h0.6v0.6h-0.6zM448.9 155.6h0.6v0.6h-0.6zM450.3 148.6h0.6v0.6h-0.6zM441.7 151.0h0.6v0.6h-0.6zM451.0 146.2h0.6v0.6h-0.6zM445.1 138.5h0.6v0.6h-0.6zM442.8 156.7h0.6v0.6h-0.6zM461.9 145.9h0.6v0.6h-0.6zM426.4 163.5h0.6v0.6h-0.6zM448.0 164.0h0.6v0.6h-0.6zM443.8 155.5h0.6v0.6h-0.6zM442.1 158.0h0.6v0.6h-0.6zM458.2 140.8h0.6v0.6h-0.6zM463.6 163.0h0.6v0.6h-0.6zM443.6 142.5h0.6v0.6h-0.6zM449.6 146.2h0.6v0.6h-0.6zM430.4 145.7h0.6v0.6h-0.6zM448.2 139.8h0.6v0.6h-0.6zM458.9 149.6h0.6v0.6h-0.6zM446.7 157.3h0.6v0.6h-0.6zM438.2 154.6h0.6v0.6h-0.6zM432.6 149.6h0.6v0.6h-0.6zM453.3 144.7h0.6v0.6h-0.6zM446.6 152.9h0.6v0.6h-0.6zM464.3 153.6h0.6v0.6h-0.6zM451.7 146.6h0.6v0.6h-0.6zM433.8 161.5h0.6v0.6h-0.6zM464.5 133.2h0.6v0.6h-0.6zM456.2 147.1h0.6v0.6h-0.6zM454.8 149.5h0.6v0.6h-0.6zM445.1 149.3h0.6v0.6h-0.6zM447.9 155.7h0.6v0.6h-0.6zM443.8 146.3h0.6v0.6h-0.6zM454.6 151.5h0.6v0.6h-0.6zM451.9 149.8h0.6v0.6h-0.6zM463.6 152.7h0.6v0.6h-0.6zM449.1 147.4h0.6v0.6h-0.6zM452.1 137.0h0.6v0.6h-0.6zM441.0 145.9h0.6v0.6h-0.6zM448.5 146.5h0.6v0.6h-0.6zM473.6 148.7h0.6v0.6h-0.6zM453.6 161.2h0.6v0.6h-0.6zM446.8 147.2h0.6v0.6h-0.6zM460.8 151.5h0.6v0.6h-0.6zM458.0 154.2h0.6v0.6h-0.6zM442.7 145.9h0.6v0.6h-0.6zM439.7 150.9h0.6v0.6h-0.6zM456.5 141.1h0.6v0.6h-0.6zM440.2 142.3h0.6v0.6h-0.6zM468.8 149.9h0.6v0.6h-0.6zM448.2 141.6h0.6v0.6h-0.6zM435.7 147.2h0.6v0.6h-0.6zM446.2 141.6h0.6v0.6h-0.6zM446.0 156.4h0.6v0.6h-0.6zM447.3 149.5h0.6v0.6h-0.6zM425.0 151.3h0.6v0.6h-0.6zM444.9 145.3h0.6v0.6h-0.6zM432.6 151.1h0.6v0.6h-0.6zM435.9 147.7h0.6v0.6h-0.6zM430.4 151.4h0.6v0.6h-0.6zM455.7 142.5h0.6v0.6h-0.6zM448.9 139.7h0.6v0.6h-0.6zM453.7 151.0h0.6v0.6h-0.6zM444.0 154.8h0.6v0.6h-0.6zM438.0 150.9h0.6v0.6h-0.6zM464.6 145.8h0.6v0.6h-0.6zM436.6 157.7h0.6v0.6h-0.6zM452.4 146.4h0.6v0.6h-0.6zM426.3 141.5h0.6v0.6h-0.6zM432.8 160.3h0.6v0.6h-0.6zM449.3 143.5h0.6v0.6h-0.6zM460.6 155.3h0.6v0.6h-0.6zM438.8 153.3h0.6v0.6h-0.6zM430.3 154.2h0.6v0.6h-0.6zM464.6 137.5h0.6v0.6h-0.6zM447.0 145.2h0.6v0.6h-0.6zM446.2 149.7h0.6v0.6h-0.6zM450.9 153.6h0.6v0.6h-0.6zM453.5 154.1h0.6v0.6h-0.6zM458.8 153.5h0.6v0.6h-0.6zM440.5 152.6h0.6v0.6h-0.6zM442.4 144.8h0.6v0.6h-0.6zM467.7 147.1h0.6v0.6h-0.6zM445.4 136.8h0.6v0.6h-0.6zM445.5 153.9h0.6v0.6h-0.6zM444.4 146.2h0.6v0.6h-0.6zM462.1 144.5h0.6v0.6h-0.6zM443.5 149.0h0.6v0.6h-0.6zM445.7 155.5h0.6v0.6h-0.6zM452.9 147.5h0.6v0.6h-0.6zM443.1 148.3h0.6v0.6h-0.6zM464.4 144.1h0.6v0.6h-0.6zM452.3 138.7h0.6v0.6h-0.6zM451.1 152.4h0.6v0.6h-0.6zM460.6 148.5h0.6v0.6h-0.6zM453.4 149.8h0.6v0.6h-0.6zM460.3 158.8h0.6v0.6h-0.6zM448.4 143.9h0.6v0.6h-0.6zM453.2 147.3h0.6v0.6h-0.6zM454.5 152.3h0.6v0.6h-0.6zM448.2 146.2h0.6v0.6h-0.6zM449.0 141.2h0.6v0.6h-0.6zM449.0 143.4h0.6v0.6h-0.6zM451.9 148.9h0.6v0.6h-0.6zM443.6 142.5h0.6v0.6h-0.6zM446.9 145.0h0.6v0.6h-0.6zM446.3 153.2h0.6v0.6h-0.6zM455.7 139.8h0.6v0.6h-0.6zM458.2 155.1h0.6v0.6h-0.6zM459.1 148.5h0.6v0.6h-0.6zM447.9 159.2h0.6v0.6h-0.6zM442.2 140.8h0.6v0.6h-0.6zM448.3 150.5h0.6v0.6h-0.6zM435.1 143.9h0.6v0.6h-0.6zM467.8 146.0h0.6v0.6h-0.6zM454.6 144.2h0.6v0.6h-0.6zM431.2 150.7h0.6v0.6h-0.6zM460.3 142.7h0.6v0.6h-0.6zM428.4 151.3h0.6v0.6h-0.6zM444.2 149.6h0.6v0.6h-0.6zM436.0 149.1h0.6v0.6h-0.6zM442.4 155.1h0.6v0.6h-0.6zM449.6 153.7h0.6v0.6h-0.6zM444.4 136.8h0.6v0.6h-0.6zM427.4 155.6h0.6v0.6h-0.6zM457.1 152.4h0.6v0.6h-0.6zM444.5 138.8h0.6v0.6h-0.6zM442.4 152.2h0.6v0.6h-0.6zM461.1 144.5h0.6v0.6h-0.6zM440.5 145.5h0.6v0.6h-0.6zM458.6 152.1h0.6v0.6h-0.6zM429.4 159.3h0.6v0.6h-0.6zM436.1 142.2h0.6v0.6h-0.6zM429.9 147.7h0.6v0.6h-0.6zM473.7 159.5h0.6v0.6h-0.6zM433.5 147.4h0.6v0.6h-0.6zM449.2 151.1h0.6v0.6h-0.6zM440.6 140.7h0.6v0.6h-0.6zM442.2 145.8h0.6v0.6h-0.6zM428.7 153.1h0.6v0.6h-0.6zM430.2 141.6h0.6v0.6h-0.6zM463.8 151.6h0.6v0.6h-0.6zM462.2 147.0h0.6v0.6h-0.6zM442.8 149.2h0.6v0.6h-0.6zM433.7 155.8h0.6v0.6h-0.6zM449.6 146.7h0.6v0.6h-0.6zM427.6 151.8h0.6v0.6h-0.6zM465.5 154.4h0.6v0.6h-0.6zM455.8 145.3h0.6v0.6h-0.6zM449.1 151.9h0.6v0.6h-0.6zM450.2 154.7h0.6v0.6h-0.6zM437.9 136.8h0.6v0.6h-0.6zM421.1 148.2h0.6v0.6h-0.6zM433.5 155.3h0.6v0.6h-0.6zM458.3 147.0h0.6v0.6h-0.6zM452.8 148.4h0.6v0.6h-0.6zM448.4 145.9h0.6v0.6h-0.6zM444.1 156.6h0.6v0.6h-0.6zM444.3 149.2h0.6v0.6h-0.6zM460.5 152.5h0.6v0.6h-0.6zM443.3 151.2h0.6v0.6h-0.6zM436.8 151.6h0.6v0.6h-0.6zM450.4 148.4h0.6v0.6h-0.6zM449.2 150.8h0.6v0.6h-0.6zM420.0 148.9h0.6v0.6h-0.6zM447.4 146.0h0.6v0.6h-0.6zM436.9 149.4h0.6v0.6h-0.6zM463.6 144.7h0.6v0.6h-0.6zM439.9 147.4h0.6v0.6h-0.6zM435.3 154.0h0.6v0.6h-0.6zM437.8 156.0h0.6v0.6h-0.6zM457.1 150.6h0.6v0.6h-0.6zM457.8 146.6h0.6v0.6h-0.6zM428.8 151.8h0.6v0.6h-0.6zM452.2 138.9h0.6v0.6h-0.6zM435.6 157.5h0.6v0.6h-0.6zM453.0 156.0h0.6v0.6h-0.6zM454.1 148.1h0.6v0.6h-0.6zM452.4 153.1h0.6v0.6h-0.6zM446.6 147.8h0.6v0.6h-0.6zM450.1 146.6h0.6v0.6h-0.6zM471.4 140.1h0.6v0.6h-0.6zM430.1 144.3h0.6v0.6h-0.6zM457.6 144.7h0.6v0.6h-0.6zM448.6 147.4h0.6v0.6h-0.6zM448.5 140.1h0.6v0.6h-0.6zM447.4 145.5h0.6v0.6h-0.6zM459.1 150.6h0.6v0.6h-0.6zM433.1 145.7h0.6v0.6h-0.6zM454.3 154.8h0.6v0.6h-0.6zM455.0 146.7h0.6v0.6h-0.6zM456.3 133.3h0.6v0.6h-0.6zM440.6 144.3h0.6v0.6h-0.6zM437.0 154.1h0.6v0.6h-0.6zM450.3 150.1h0.6v0.6h-0.6zM446.4 152.8h0.6v0.6h-0.6zM454.7 144.2h0.6v0.6h-0.6zM455.9 141.9h0.6v0.6h-0.6zM464.2 138.2h0.6v0.6h-0.6zM443.0 143.2h0.6v0.6h-0.6zM448.9 156.5h0.6v0.6h-0.6zM441.1 160.6h0.6v0.6h-0.6zM462.3 148.6h0.6v0.6h-0.6zM441.9 155.3h0.6v0.6h-0.6zM457.1 147.0h0.6v0.6h-0.6zM472.4 140.5h0.6v0.6h-0.6zM433.0 150.2h0.6v0.6h-0.6zM454.9 157.8h0.6v0.6h-0.6zM428.9 153.1h0.6v0.6h-0.6zM459.7 142.8h0.6v0.6h-0.6zM441.1 142.8h0.6v0.6h-0.6zM456.0 152.4h0.6v0.6h-0.6zM453.6 149.3h0.6v0.6h-0.6zM457.4 146.4h0.6v0.6h-0.6zM455.5 152.4h0.6v0.6h-0.6zM461.3 149.5h0.6v0.6h-0.6zM448.8 152.9h0.6v0.6h-0.6zM429.1 141.6h0.6v0.6h-0.6zM464.2 146.8h0.6v0.6h-0.6zM435.5 147.6h0.6v0.6h-0.6zM445.6 149.7h0.6v0.6h-0.6zM440.1 156.2h0.6v0.6h-0.6zM432.1 168.4h0.6v0.6h-0.6zM437.5 160.6h0.6v0.6h-0.6zM452.4 138.0h0.6v0.6h-0.6zM434.3 151.6h0.6v0.6h-0.6zM449.6 146.0h0.6v0.6h-0.6zM447.4 149.9h0.6v0.6h-0.6zM435.2 151.4h0.6v0.6h-0.6zM470.4 141.0h0.6v0.6h-0.6zM437.2 154.7h0.6v0.6h-0.6zM462.4 152.5h0.6v0.6h-0.6zM440.4 149.7h0.6v0.6h-0.6zM449.1 147.4h0.6v0.6h-0.6zM452.5 154.5h0.6v0.6h-0.6zM452.9 147.9h0.6v0.6h-0.6zM446.8 159.8h0.6v0.6h-0.6zM436.2 162.9h0.6v0.6h-0.6zM455.0 148.1h0.6v0.6h-0.6zM441.2 161.0h0.6v0.6h-0.6zM460.9 152.0h0.6v0.6h-0.6zM467.4 134.6h0.6v0.6h-0.6zM447.9 147.0h0.6v0.6h-0.6zM439.5 150.8h0.6v0.6h-0.6zM453.4 151.0h0.6v0.6h-0.6zM444.3 141.5h0.6v0.6h-0.6zM453.7 151.5h0.6v0.6h-0.6zM470.6 150.4h0.6v0.6h-0.6zM446.1 142.3h0.6v0.6h-0.6zM475.4 139.9h0.6v0.6h-0.6zM450.0 153.0h0.6v0.6h-0.6zM453.9 155.8h0.6v0.6h-0.6zM435.5 146.9h0.6v0.6h-0.6zM447.7 141.5h0.6v0.6h-0.6zM442.1 158.2h0.6v0.6h-0.6zM450.2 147.8h0.6v0.6h-0.6zM441.1 150.3h0.6v0.6h-0.6zM445.7 142.8h0.6v0.6h-0.6zM454.2 140.0h0.6v0.6h-0.6zM460.4 144.6h0.6v0.6h-0.6zM421.2 144.2h0.6v0.6h-0.6zM449.3 143.4h0.6v0.6h-0.6zM467.9 153.6h0.6v0.6h-0.6zM470.5 150.2h0.6v0.6h-0.6zM460.9 142.9h0.6v0.6h-0.6zM460.6 144.0h0.6v0.6h-0.6zM445.2 141.1h0.6v0.6h-0.6zM448.2 151.2h0.6v0.6h-0.6zM445.3 142.6h0.6v0.6h-0.6zM457.8 152.6h0.6v0.6h-0.6zM447.0 153.7h0.6v0.6h-0.6zM456.7 141.4h0.6v0.6h-0.6zM444.9 138.2h0.6v0.6h-0.6zM436.5 153.4h0.6v0.6h-0.6zM438.1 152.9h0.6v0.6h-0.6zM448.9 136.2h0.6v0.6h-0.6zM443.5 158.8h0.6v0.6h-0.6zM447.4 149.7h0.6v0.6h-0.6zM437.9 140.9h0.6v0.6h-0.6zM433.0 168.8h0.6v0.6h-0.6zM444.3 144.2h0.6v0.6h-0.6zM446.3 137.4h0.6v0.6h-0.6zM464.0 156.4h0.6v0.6h-0.6zM439.4 152.3h0.6v0.6h-0.6zM438.3 155.7h0.6v0.6h-0.6zM437.9 149.7h0.6v0.6h-0.6zM461.8 149.6h0.6v0.6h-0.6zM442.0 140.7h0.6v0.6h-0.6zM431.2 159.1h0.6v0.6h-0.6zM452.7 148.3h0.6v0.6h-0.6zM460.8 147.5h0.6v0.6h-0.6zM439.2 149.7h0.6v0.6h-0.6zM446.1 149.1h0.6v0.6h-0.6zM474.6 147.6h0.6v0.6h-0.6zM449.8 147.0h0.6v0.6h-0.6zM438.8 144.4h0.6v0.6h-0.6zM426.4 149.8h0.6v0.6h-0.6zM428.8 141.0h0.6v0.6h-0.6zM434.9 138.8h0.6v0.6h-0.6zM463.3 153.7h0.6v0.6h-0.6zM438.8 162.9h0.6v0.6h-0.6zM451.7 132.8h0.6v0.6h-0.6zM446.3 143.1h0.6v0.6h-0.6zM428.0 150.8h0.6v0.6h-0.6zM460.1 149.4h0.6v0.6h-0.6zM430.6 147.9h0.6v0.6h-0.6zM440.1 157.2h0.6v0.6h-0.6zM445.1 143.4h0.6v0.6h-0.6zM435.2 139.1h0.6v0.6h-0.6zM438.9 155.9h0.6v0.6h-0.6zM426.6 153.8h0.6v0.6h-0.6zM446.7 154.0h0.6v0.6h-0.6zM435.7 156.5h0.6v0.6h-0.6zM466.3 159.5h0.6v0.6h-0.6zM429.4 151.9h0.6v0.6h-0.6zM445.0 150.1h0.6v0.6h-0.6zM437.3 155.9h0.6v0.6h-0.6zM474.1 153.4h0.6v0.6h-0.6zM436.1 147.4h0.6v0.6h-0.6zM455.2 148.4h0.6v0.6h-0.6zM440.1 157.7h0.6v0.6h-0.6zM453.8 154.0h0.6v0.6h-0.6zM446.5 156.9h0.6v0.6h-0.6zM440.9 143.3h0.6v0.6h-0.6zM445.6 140.7h0.6v0.6h-0.6zM461.5 150.9h0.6v0.6h-0.6zM429.0 153.2h0.6v0.6h-0.6zM455.9 145.2h0.6v0.6h-0.6zM451.0 144.7h0.6v0.6h-0.6zM446.2 148.6h0.6v0.6h-0.6zM451.3 142.3h0.6v0.6h-0.6zM435.1 153.1h0.6v0.6h-0.6zM442.1 153.0h0.6v0.6h-0.6zM440.2 142.2h0.6v0.6h-0.6zM455.4 149.1h0.6v0.6h-0.6zM454.7 145.6h0.6v0.6h-0.6zM444.5 157.2h0.6v0.6h-0.6zM430.5 162.5h0.6v0.6h-0.6zM452.6 147.7h0.6v0.6h-0.6zM448.7 152.4h0.6v0.6h-0.6z"/>
<path fill="#5a5a5a" opacity="0.45" d="M447.6 182.7h0.6v0.6h-0.6zM446.3 169.9h0.6v0.6h-0.6zM454.5 181.6h0.6v0.6h-0.6zM457.6 184.3h0.6v0.6h-0.6zM458.0 185.8h0.6v0.6h-0.6zM445.6 188.3h0.6v0.6h-0.6zM471.9 177.6h0.6v0.6h-0.6zM444.2 185.1h0.6v0.6h-0.6zM459.5 187.1h0.6v0.6h-0.6zM463.8 172.7h0.6v0.6h-0.6zM455.7 183.8h0.6v0.6h-0.6zM461.8 175.6h0.6v0.6h-0.6zM453.2 178.8h0.6v0.6h-0.6zM451.9 180.1h0.6v0.6h-0.6zM452.0 170.4h0.6v0.6h-0.6zM452.8 181.4h0.6v0.6h-0.6zM450.3 159.6h0.6v0.6h-0.6zM448.1 177.1h0.6v0.6h-0.6zM446.9 190.6h0.6v0.6h-0.6zM459.5 179.9h0.6v0.6h-0.6zM457.3 200.8h0.6v0.6h-0.6zM446.2 183.9h0.6v0.6h-0.6zM448.8 189.9h0.6v0.6h-0.6zM460.8 180.3h0.6v0.6h-0.6zM457.3 176.2h0.6v0.6h-0.6zM441.9 186.1h0.6v0.6h-0.6zM464.5 179.2h0.6v0.6h-0.6zM449.3 170.2h0.6v0.6h-0.6zM468.1 173.8h0.6v0.6h-0.6zM446.2 179.8h0.6v0.6h-0.6zM461.6 181.3h0.6v0.6h-0.6zM452.9 181.1h0.6v0.6h-0.6zM459.0 180.8h0.6v0.6h-0.6zM454.1 180.6h0.6v0.6h-0.6zM445.2 189.1h0.6v0.6h-0.6zM448.1 173.1h0.6v0.6h-0.6zM449.9 181.2h0.6v0.6h-0.6zM458.8 172.1h0.6v0.6h-0.6zM444.1 182.1h0.6v0.6h-0.6zM455.7 174.4h0.6v0.6h-0.6zM445.0 182.1h0.6v0.6h-0.6zM452.0 171.3h0.6v0.6h-0.6zM446.8 189.9h0.6v0.6h-0.6zM445.6 187.3h0.6v0.6h-0.6zM442.2 190.0h0.6v0.6h-0.6zM464.3 177.2h0.6v0.6h-0.6zM448.2 184.8h0.6v0.6h-0.6zM444.3 184.3h0.6v0.6h-0.6zM461.6 182.6h0.6v0.6h-0.6zM455.3 180.1h0.6v0.6h-0.6zM460.1 176.1h0.6v0.6h-0.6zM464.2 180.9h0.6v0.6h-0.6zM450.7 171.2h0.6v0.6h-0.6zM449.9 182.4h0.6v0.6h-0.6zM461.8 171.3h0.6v0.6h-0.6zM452.1 176.9h0.6v0.6h-0.6zM444.6 181.0h0.6v0.6h-0.6zM447.7 186.2h0.6v0.6h-0.6zM434.0 185.4h0.6v0.6h-0.6zM439.6 169.3h0.6v0.6h-0.6zM456.7 179.0h0.6v0.6h-0.6zM453.9 175.2h0.6v0.6h-0.6zM445.6 176.6h0.6v0.6h-0.6zM452.6 175.9h0.6v0.6h-0.6zM450.1 175.8h0.6v0.6h-0.6zM454.7 174.1h0.6v0.6h-0.6zM438.4 165.2h0.6v0.6h-0.6zM452.9 181.6h0.6v0.6h-0.6zM459.8 176.5h0.6v0.6h-0.6zM445.0 172.0h0.6v0.6h-0.6zM458.3 177.2h0.6v0.6h-0.6zM459.9 180.5h0.6v0.6h-0.6zM451.1 169.8h0.6v0.6h-0.6zM448.2 185.8h0.6v0.6h-0.6zM448.7 185.1h0.6v0.6h-0.6zM441.4 187.1h0.6v0.6h-0.6zM472.6 187.7h0.6v0.6h-0.6zM455.3 173.6h0.6v0.6h-0.6zM449.3 177.1h0.6v0.6h-0.6zM454.3 168.8h0.6v0.6h-0.6zM446.9 185.8h0.6v0.6h-0.6zM454.0 185.5h0.6v0.6h-0.6zM459.0 174.1h0.6v0.6h-0.6zM443.5 183.8h0.6v0.6h-0.6zM453.2 181.5h0.6v0.6h-0.6zM447.3 187.1h0.6v0.6h-0.6zM456.5 187.9h0.6v0.6h-0.6zM450.5 185.2h0.6v0.6h-0.6zM452.6 175.3h0.6v0.6h-0.6zM452.4 171.0h0.6v0.6h-0.6zM451.7 182.1h0.6v0.6h-0.6zM457.9 174.7h0.6v0.6h-0.6zM443.7 176.6h0.6v0.6h-0.6zM438.4 177.1h0.6v0.6h-0.6zM471.4 181.9h0.6v0.6h-0.6zM447.7 176.9h0.6v0.6h-0.6zM465.4 174.0h0.6v0.6h-0.6zM452.2 180.5h0.6v0.6h-0.6zM447.8 176.7h0.6v0.6h-0.6zM441.2 175.9h0.6v0.6h-0.6zM462.1 189.5h0.6v0.6h-0.6zM451.0 185.2h0.6v0.6h-0.6zM456.2 181.7h0.6v0.6h-0.6zM452.0 188.3h0.6v0.6h-0.6zM457.0 179.6h0.6v0.6h-0.6zM451.4 186.6h0.6v0.6h-0.6zM448.8 176.7h0.6v0.6h-0.6zM451.1 178.0h0.6v0.6h-0.6zM461.9 183.1h0.6v0.6h-0.6zM452.4 177.8h0.6v0.6h-0.6zM462.9 183.7h0.6v0.6h-0.6zM467.6 186.5h0.6v0.6h-0.6zM451.5 177.7h0.6v0.6h-0.6zM451.0 182.1h0.6v0.6h-0.6zM458.6 183.9h0.6v0.6h-0.6zM464.0 171.8h0.6v0.6h-0.6zM453.2 172.5h0.6v0.6h-0.6zM445.8 177.4h0.6v0.6h-0.6zM448.4 175.2h0.6v0.6h-0.6zM442.3 187.8h0.6v0.6h-0.6zM450.8 186.8h0.6v0.6h-0.6zM445.2 167.0h0.6v0.6h-0.6zM448.8 186.3h0.6v0.6h-0.6zM449.1 183.4h0.6v0.6h-0.6zM445.4 189.4h0.6v0.6h-0.6zM456.0 187.3h0.6v0.6h-0.6zM451.0 188.7h0.6v0.6h-0.6zM453.5 178.1h0.6v0.6h-0.6zM448.5 181.3h0.6v0.6h-0.6zM446.6 173.8h0.6v0.6h-0.6zM453.9 185.3h0.6v0.6h-0.6zM451.0 186.1h0.6v0.6h-0.6zM464.1 173.4h0.6v0.6h-0.6zM454.8 175.2h0.6v0.6h-0.6zM448.5 182.1h0.6v0.6h-0.6zM436.3 184.6h0.6v0.6h-0.6zM458.9 184.3h0.6v0.6h-0.6zM457.5 191.9h0.6v0.6h-0.6zM450.4 187.6h0.6v0.6h-0.6zM463.2 184.0h0.6v0.6h-0.6zM440.5 180.1h0.6v0.6h-0.6zM450.9 171.3h0.6v0.6h-0.6zM452.6 185.5h0.6v0.6h-0.6zM451.2 179.9h0.6v0.6h-0.6zM463.3 177.3h0.6v0.6h-0.6zM446.4 181.2h0.6v0.6h-0.6zM460.9 184.6h0.6v0.6h-0.6zM453.5 178.0h0.6v0.6h-0.6zM461.7 186.3h0.6v0.6h-0.6zM440.8 183.0h0.6v0.6h-0.6zM436.1 190.0h0.6v0.6h-0.6zM457.3 177.2h0.6v0.6h-0.6zM443.9 179.2h0.6v0.6h-0.6zM440.7 184.4h0.6v0.6h-0.6zM449.4 170.4h0.6v0.6h-0.6zM452.8 188.1h0.6v0.6h-0.6zM444.1 178.9h0.6v0.6h-0.6zM465.7 182.1h0.6v0.6h-0.6zM449.1 182.1h0.6v0.6h-0.6zM458.5 175.0h0.6v0.6h-0.6zM452.3 171.2h0.6v0.6h-0.6zM441.9 171.7h0.6v0.6h-0.6zM458.9 182.9h0.6v0.6h-0.6zM458.1 188.3h0.6v0.6h-0.6zM453.3 182.4h0.6v0.6h-0.6zM455.8 183.8h0.6v0.6h-0.6zM445.5 179.3h0.6v0.6h-0.6zM451.9 181.2h0.6v0.6h-0.6zM447.7 180.2h0.6v0.6h-0.6zM455.0 182.1h0.6v0.6h-0.6zM457.1 185.9h0.6v0.6h-0.6zM456.9 186.8h0.6v0.6h-0.6zM458.9 189.4h0.6v0.6h-0.6zM457.4 177.3h0.6v0.6h-0.6zM469.3 187.8h0.6v0.6h-0.6zM461.8 185.4h0.6v0.6h-0.6zM453.3 174.1h0.6v0.6h-0.6zM456.1 178.9h0.6v0.6h-0.6zM450.2 168.1h0.6v0.6h-0.6zM463.9 174.0h0.6v0.6h-0.6zM445.3 183.8h0.6v0.6h-0.6zM457.0 176.2h0.6v0.6h-0.6zM452.9 182.5h0.6v0.6h-0.6zM454.1 184.2h0.6v0.6h-0.6zM458.4 178.8h0.6v0.6h-0.6zM441.6 194.0h0.6v0.6h-0.6zM450.3 175.0h0.6v0.6h-0.6zM458.3 184.5h0.6v0.6h-0.6zM448.7 195.1h0.6v0.6h-0.6zM436.5 188.7h0.6v0.6h-0.6zM452.7 182.9h0.6v0.6h-0.6zM455.2 179.6h0.6v0.6h-0.6zM455.2 173.2h0.6v0.6h-0.6zM450.2 192.1h0.6v0.6h-0.6zM434.9 188.4h0.6v0.6h-0.6zM437.3 175.9h0.6v0.6h-0.6zM459.2 178.5h0.6v0.6h-0.6zM448.9 172.0h0.6v0.6h-0.6zM452.1 179.9h0.6v0.6h-0.6zM448.5 171.6h0.6v0.6h-0.6z"/>
<g transform="translate(343.8 42.1) rotate(-6)"><ellipse cx="-2.73" cy="-0.29" rx="4.41" ry="2.7" fill="#808080" stroke="#808080" stroke-width="0.6"/><ellipse cx="-0" cy="-0" rx="14.7" ry="9" fill="none" stroke="#141414" stroke-width="0.6"/><ellipse cx="-0.09" cy="-0.01" rx="14.35" ry="8.79" fill="none" stroke="#212121" stroke-width="0.6"/><ellipse cx="-0.22" cy="-0.02" rx="13.87" ry="8.49" fill="none" stroke="#282828" stroke-width="0.6"/><ellipse cx="-0.37" cy="-0.04" rx="13.32" ry="8.16" fill="none" stroke="#2e2e2e" stroke-width="0.6"/><ellipse cx="-0.52" cy="-0.06" rx="12.73" ry="7.79" fill="none" stroke="#333333" stroke-width="0.6"/><ellipse cx="-0.69" cy="-0.07" rx="12.09" ry="7.4" fill="none" stroke="#383838" stroke-width="0.6"/><ellipse cx="-0.87" cy="-0.09" rx="11.43" ry="7" fill="none" stroke="#3c3c3c" stroke-width="0.6"/><ellipse cx="-1.05" cy="-0.11" rx="10.73" ry="6.57" fill="none" stroke="#404040" stroke-width="0.6"/><ellipse cx="-1.25" cy="-0.13" rx="10.01" ry="6.13" fill="none" stroke="#444444" stroke-width="0.6"/><ellipse cx="-1.44" cy="-0.15" rx="9.27" ry="5.67" fill="none" stroke="#474747" stroke-width="0.6"/><ellipse cx="-1.65" cy="-0.17" rx="8.5" ry="5.2" fill="none" stroke="#4a4a4a" stroke-width="0.6"/><ellipse cx="-1.86" cy="-0.2" rx="7.72" ry="4.72" fill="none" stroke="#4e4e4e" stroke-width="0.6"/><ellipse cx="-2.07" cy="-0.22" rx="6.91" ry="4.23" fill="none" stroke="#515151" stroke-width="0.6"/><ellipse cx="-2.29" cy="-0.24" rx="6.1" ry="3.73" fill="none" stroke="#545454" stroke-width="0.6"/><ellipse cx="-2.51" cy="-0.26" rx="5.26" ry="3.22" fill="none" stroke="#575757" stroke-width="0.6"/><ellipse cx="-2.73" cy="-0.29" rx="4.41" ry="2.7" fill="none" stroke="#5a5a5a" stroke-width="0.6"/><ellipse cx="-3.28" cy="-0.34" rx="2.2" ry="0.9" fill="#fff"/></g>
<g transform="translate(356 60.5) rotate(-22)"><ellipse cx="-4.44" cy="0.12" rx="4.07" ry="1.76" fill="#a0a0a0" stroke="#a0a0a0" stroke-width="0.55"/><ellipse cx="-0" cy="0" rx="18.5" ry="8" fill="none" stroke="#2d2d2d" stroke-width="0.55"/><ellipse cx="-0.35" cy="0.01" rx="17.35" ry="7.5" fill="none" stroke="#3d3d3d" stroke-width="0.55"/><ellipse cx="-0.76" cy="0.02" rx="16.04" ry="6.94" fill="none" stroke="#454545" stroke-width="0.55"/><ellipse cx="-1.18" cy="0.03" rx="14.66" ry="6.34" fill="none" stroke="#4c4c4c" stroke-width="0.55"/><ellipse cx="-1.62" cy="0.04" rx="13.23" ry="5.72" fill="none" stroke="#525252" stroke-width="0.55"/><ellipse cx="-2.07" cy="0.05" rx="11.77" ry="5.09" fill="none" stroke="#575757" stroke-width="0.55"/><ellipse cx="-2.53" cy="0.07" rx="10.27" ry="4.44" fill="none" stroke="#5c5c5c" stroke-width="0.55"/><ellipse cx="-3" cy="0.08" rx="8.75" ry="3.79" fill="none" stroke="#616161" stroke-width="0.55"/><ellipse cx="-3.48" cy="0.09" rx="7.21" ry="3.12" fill="none" stroke="#656565" stroke-width="0.55"/><ellipse cx="-3.96" cy="0.1" rx="5.65" ry="2.44" fill="none" stroke="#6a6a6a" stroke-width="0.55"/><ellipse cx="-4.44" cy="0.12" rx="4.07" ry="1.76" fill="none" stroke="#6e6e6e" stroke-width="0.55"/><ellipse cx="-5.01" cy="0.13" rx="3" ry="0.8" fill="#fff"/></g>
<g transform="translate(372.5 56.5) rotate(-22)"><ellipse cx="2.18" cy="0.81" rx="7.42" ry="5.17" fill="#3c3c3c" stroke="#3c3c3c" stroke-width="0.65"/><ellipse cx="0" cy="0" rx="16.5" ry="11.5" fill="none" stroke="#0a0a0a" stroke-width="0.65"/><ellipse cx="0.03" cy="0.01" rx="16.37" ry="11.41" fill="none" stroke="#111111" stroke-width="0.65"/><ellipse cx="0.09" cy="0.03" rx="16.13" ry="11.24" fill="none" stroke="#151515" stroke-width="0.65"/><ellipse cx="0.16" cy="0.06" rx="15.83" ry="11.03" fill="none" stroke="#181818" stroke-width="0.65"/><ellipse cx="0.25" cy="0.09" rx="15.46" ry="10.78" fill="none" stroke="#1a1a1a" stroke-width="0.65"/><ellipse cx="0.35" cy="0.13" rx="15.05" ry="10.49" fill="none" stroke="#1d1d1d" stroke-width="0.65"/><ellipse cx="0.46" cy="0.17" rx="14.6" ry="10.17" fill="none" stroke="#1f1f1f" stroke-width="0.65"/><ellipse cx="0.58" cy="0.21" rx="14.1" ry="9.83" fill="none" stroke="#212121" stroke-width="0.65"/><ellipse cx="0.71" cy="0.26" rx="13.57" ry="9.46" fill="none" stroke="#232323" stroke-width="0.65"/><ellipse cx="0.84" cy="0.31" rx="13" ry="9.06" fill="none" stroke="#252525" stroke-width="0.65"/><ellipse cx="0.99" cy="0.37" rx="12.41" ry="8.65" fill="none" stroke="#272727" stroke-width="0.65"/><ellipse cx="1.14" cy="0.42" rx="11.78" ry="8.21" fill="none" stroke="#282828" stroke-width="0.65"/><ellipse cx="1.3" cy="0.48" rx="11.12" ry="7.75" fill="none" stroke="#2a2a2a" stroke-width="0.65"/><ellipse cx="1.46" cy="0.54" rx="10.43" ry="7.27" fill="none" stroke="#2c2c2c" stroke-width="0.65"/><ellipse cx="1.63" cy="0.61" rx="9.72" ry="6.77" fill="none" stroke="#2d2d2d" stroke-width="0.65"/><ellipse cx="1.81" cy="0.67" rx="8.98" ry="6.26" fill="none" stroke="#2f2f2f" stroke-width="0.65"/><ellipse cx="1.99" cy="0.74" rx="8.21" ry="5.72" fill="none" stroke="#303030" stroke-width="0.65"/><ellipse cx="2.18" cy="0.81" rx="7.42" ry="5.17" fill="none" stroke="#323232" stroke-width="0.65"/><ellipse cx="3.38" cy="1.26" rx="2.6" ry="1" fill="#fff"/></g>
<polygon points="336.2,29.1 363.7,32.6 371.1,42.8 336.6,58.8 320.7,58.8 320.7,46.5" fill="none" stroke="#222" stroke-width="0.9"/>
<text x="320.7" y="87.5" font-size="10" text-anchor="start" font-weight="bold" font-style="normal" fill="#111" textLength="19" lengthAdjust="spacingAndGlyphs">24.5</text>
<g transform="translate(445.3 44.3) rotate(-20)"><ellipse cx="-3.62" cy="-0.28" rx="5.25" ry="3.75" fill="#5a5a5a" stroke="#5a5a5a" stroke-width="0.6"/><ellipse cx="-0" cy="-0" rx="17.5" ry="12.5" fill="none" stroke="#141414" stroke-width="0.6"/><ellipse cx="-0.14" cy="-0.01" rx="17.02" ry="12.16" fill="none" stroke="#1e1e1e" stroke-width="0.6"/><ellipse cx="-0.3" cy="-0.02" rx="16.47" ry="11.76" fill="none" stroke="#232323" stroke-width="0.6"/><ellipse cx="-0.48" cy="-0.04" rx="15.89" ry="11.35" fill="none" stroke="#272727" stroke-width="0.6"/><ellipse cx="-0.65" cy="-0.05" rx="15.29" ry="10.92" fill="none" stroke="#2b2b2b" stroke-width="0.6"/><ellipse cx="-0.83" cy="-0.06" rx="14.68" ry="10.49" fill="none" stroke="#2e2e2e" stroke-width="0.6"/><ellipse cx="-1.02" cy="-0.08" rx="14.05" ry="10.04" fill="none" stroke="#323232" stroke-width="0.6"/><ellipse cx="-1.21" cy="-0.09" rx="13.42" ry="9.58" fill="none" stroke="#343434" stroke-width="0.6"/><ellipse cx="-1.4" cy="-0.11" rx="12.77" ry="9.12" fill="none" stroke="#373737" stroke-width="0.6"/><ellipse cx="-1.59" cy="-0.12" rx="12.12" ry="8.65" fill="none" stroke="#3a3a3a" stroke-width="0.6"/><ellipse cx="-1.79" cy="-0.14" rx="11.45" ry="8.18" fill="none" stroke="#3c3c3c" stroke-width="0.6"/><ellipse cx="-1.99" cy="-0.15" rx="10.79" ry="7.7" fill="none" stroke="#3f3f3f" stroke-width="0.6"/><ellipse cx="-2.19" cy="-0.17" rx="10.11" ry="7.22" fill="none" stroke="#414141" stroke-width="0.6"/><ellipse cx="-2.39" cy="-0.18" rx="9.43" ry="6.74" fill="none" stroke="#434343" stroke-width="0.6"/><ellipse cx="-2.59" cy="-0.2" rx="8.75" ry="6.25" fill="none" stroke="#454545" stroke-width="0.6"/><ellipse cx="-2.79" cy="-0.22" rx="8.05" ry="5.75" fill="none" stroke="#484848" stroke-width="0.6"/><ellipse cx="-3" cy="-0.23" rx="7.36" ry="5.26" fill="none" stroke="#4a4a4a" stroke-width="0.6"/><ellipse cx="-3.21" cy="-0.25" rx="6.66" ry="4.76" fill="none" stroke="#4c4c4c" stroke-width="0.6"/><ellipse cx="-3.41" cy="-0.26" rx="5.96" ry="4.26" fill="none" stroke="#4e4e4e" stroke-width="0.6"/><ellipse cx="-3.62" cy="-0.28" rx="5.25" ry="3.75" fill="none" stroke="#505050" stroke-width="0.6"/><ellipse cx="-4.45" cy="-0.34" rx="3" ry="1.3" fill="#fff"/></g>
<g transform="translate(463 63.5) rotate(-60)"><ellipse cx="0" cy="0" rx="14.6" ry="9" fill="none" stroke="#323232" stroke-width="0.5"/><ellipse cx="0.46" cy="2.39" rx="13.14" ry="8.1" fill="none" stroke="#3d3d3d" stroke-width="0.5"/><ellipse cx="0.91" cy="4.78" rx="11.68" ry="7.2" fill="none" stroke="#434343" stroke-width="0.5"/><ellipse cx="1.37" cy="7.18" rx="10.22" ry="6.3" fill="none" stroke="#484848" stroke-width="0.5"/><ellipse cx="1.83" cy="9.57" rx="8.76" ry="5.4" fill="none" stroke="#4c4c4c" stroke-width="0.5"/><ellipse cx="2.29" cy="11.96" rx="7.3" ry="4.5" fill="none" stroke="#505050" stroke-width="0.5"/></g>
<g transform="translate(475.6 68) rotate(-10)"><ellipse cx="0.18" cy="0.03" rx="6" ry="4.8" fill="#1e1e1e" stroke="#1e1e1e" stroke-width="0.6"/><ellipse cx="0" cy="0" rx="10" ry="8" fill="none" stroke="#282828" stroke-width="0.6"/><ellipse cx="0.03" cy="0" rx="9.43" ry="7.54" fill="none" stroke="#212121" stroke-width="0.6"/><ellipse cx="0.05" cy="0.01" rx="8.86" ry="7.09" fill="none" stroke="#1e1e1e" stroke-width="0.6"/><ellipse cx="0.08" cy="0.01" rx="8.29" ry="6.63" fill="none" stroke="#1b1b1b" stroke-width="0.6"/><ellipse cx="0.1" cy="0.02" rx="7.71" ry="6.17" fill="none" stroke="#191919" stroke-width="0.6"/><ellipse cx="0.13" cy="0.02" rx="7.14" ry="5.71" fill="none" stroke="#171717" stroke-width="0.6"/><ellipse cx="0.16" cy="0.03" rx="6.57" ry="5.26" fill="none" stroke="#151515" stroke-width="0.6"/><ellipse cx="0.18" cy="0.03" rx="6" ry="4.8" fill="none" stroke="#141414" stroke-width="0.6"/><ellipse cx="0.39" cy="0.07" rx="2.5" ry="1" fill="#fff"/></g>
<polygon points="439.3,29.5 468.1,32.1 473.6,42.8 437.8,59.1 424.1,59.1 424.1,46.5" fill="none" stroke="#222" stroke-width="0.9"/>
<text x="425.2" y="87.5" font-size="10" text-anchor="start" font-weight="bold" font-style="normal" fill="#111" textLength="19.5" lengthAdjust="spacingAndGlyphs">43.6</text>
<g transform="translate(339 147.8) rotate(-10)"><ellipse cx="-1.69" cy="-1.01" rx="3.45" ry="2.01" fill="#999" stroke="#999" stroke-width="0.55"/><ellipse cx="-0" cy="-0" rx="11.5" ry="6.7" fill="none" stroke="#282828" stroke-width="0.55"/><ellipse cx="-0.11" cy="-0.07" rx="10.96" ry="6.39" fill="none" stroke="#3c3c3c" stroke-width="0.55"/><ellipse cx="-0.28" cy="-0.17" rx="10.17" ry="5.93" fill="none" stroke="#464646" stroke-width="0.55"/><ellipse cx="-0.47" cy="-0.28" rx="9.25" ry="5.39" fill="none" stroke="#4e4e4e" stroke-width="0.55"/><ellipse cx="-0.69" cy="-0.41" rx="8.23" ry="4.8" fill="none" stroke="#565656" stroke-width="0.55"/><ellipse cx="-0.92" cy="-0.55" rx="7.13" ry="4.15" fill="none" stroke="#5c5c5c" stroke-width="0.55"/><ellipse cx="-1.16" cy="-0.69" rx="5.96" ry="3.47" fill="none" stroke="#626262" stroke-width="0.55"/><ellipse cx="-1.42" cy="-0.85" rx="4.73" ry="2.76" fill="none" stroke="#686868" stroke-width="0.55"/><ellipse cx="-1.69" cy="-1.01" rx="3.45" ry="2.01" fill="none" stroke="#6e6e6e" stroke-width="0.55"/><ellipse cx="-1.93" cy="-1.15" rx="2" ry="0.9" fill="#fff"/></g>
<path d="M344 163 C350 159 358 160 364 158 C370 152 383 151 388 156 C391 165 383 174 373 175 C367 176 363 173 358 173.5 C350 175 343 171 344 165 Z" fill="none" stroke="#444" stroke-width="0.55"/>
<g transform="translate(352.4 167) rotate(-12)"><ellipse cx="0" cy="0" rx="8.5" ry="6" fill="none" stroke="#282828" stroke-width="0.55"/><ellipse cx="0.13" cy="0.17" rx="7.71" ry="5.44" fill="none" stroke="#3c3c3c" stroke-width="0.55"/><ellipse cx="0.3" cy="0.39" rx="6.68" ry="4.72" fill="none" stroke="#474747" stroke-width="0.55"/><ellipse cx="0.49" cy="0.64" rx="5.54" ry="3.91" fill="none" stroke="#4f4f4f" stroke-width="0.55"/><ellipse cx="0.69" cy="0.9" rx="4.32" ry="3.05" fill="none" stroke="#575757" stroke-width="0.55"/><ellipse cx="0.9" cy="1.18" rx="3.04" ry="2.14" fill="none" stroke="#5d5d5d" stroke-width="0.55"/><ellipse cx="1.12" cy="1.46" rx="1.7" ry="1.2" fill="none" stroke="#646464" stroke-width="0.55"/><ellipse cx="1.12" cy="1.46" rx="1.8" ry="1" fill="#fff"/></g>
<g transform="translate(377.5 164.2) rotate(-28)"><ellipse cx="0.27" cy="1.23" rx="5.46" ry="3.28" fill="#505050" stroke="#505050" stroke-width="0.6"/><ellipse cx="0" cy="0" rx="13" ry="7.8" fill="none" stroke="#0f0f0f" stroke-width="0.6"/><ellipse cx="0.01" cy="0.03" rx="12.79" ry="7.68" fill="none" stroke="#1e1e1e" stroke-width="0.6"/><ellipse cx="0.02" cy="0.1" rx="12.42" ry="7.45" fill="none" stroke="#262626" stroke-width="0.6"/><ellipse cx="0.04" cy="0.17" rx="11.93" ry="7.16" fill="none" stroke="#2c2c2c" stroke-width="0.6"/><ellipse cx="0.06" cy="0.27" rx="11.35" ry="6.81" fill="none" stroke="#323232" stroke-width="0.6"/><ellipse cx="0.08" cy="0.38" rx="10.69" ry="6.41" fill="none" stroke="#373737" stroke-width="0.6"/><ellipse cx="0.11" cy="0.49" rx="9.96" ry="5.98" fill="none" stroke="#3c3c3c" stroke-width="0.6"/><ellipse cx="0.14" cy="0.62" rx="9.17" ry="5.5" fill="none" stroke="#404040" stroke-width="0.6"/><ellipse cx="0.17" cy="0.76" rx="8.32" ry="4.99" fill="none" stroke="#444444" stroke-width="0.6"/><ellipse cx="0.2" cy="0.91" rx="7.42" ry="4.45" fill="none" stroke="#484848" stroke-width="0.6"/><ellipse cx="0.24" cy="1.06" rx="6.46" ry="3.88" fill="none" stroke="#4c4c4c" stroke-width="0.6"/><ellipse cx="0.27" cy="1.23" rx="5.46" ry="3.28" fill="none" stroke="#505050" stroke-width="0.6"/><ellipse cx="0.4" cy="1.8" rx="2.6" ry="1" fill="#fff"/></g>
<polygon points="334.3,133 359.4,136.2 368.3,145.6 332.8,162.9 320.2,162.6 320.2,149.3" fill="none" stroke="#222" stroke-width="0.9"/>
<text x="320.2" y="189.5" font-size="10" text-anchor="start" font-weight="bold" font-style="normal" fill="#111" textLength="19.5" lengthAdjust="spacingAndGlyphs">14.5</text>
<g transform="translate(446.3 148.9) rotate(-15)"><ellipse cx="0" cy="-0" rx="10" ry="7" fill="none" stroke="#3c3c3c" stroke-width="0.65"/><ellipse cx="0.08" cy="-0.05" rx="8.53" ry="5.97" fill="none" stroke="#3f3f3f" stroke-width="0.65"/><ellipse cx="0.16" cy="-0.09" rx="7.07" ry="4.95" fill="none" stroke="#414141" stroke-width="0.65"/><ellipse cx="0.24" cy="-0.14" rx="5.6" ry="3.92" fill="none" stroke="#424242" stroke-width="0.65"/><ellipse cx="0.33" cy="-0.19" rx="4.13" ry="2.89" fill="none" stroke="#434343" stroke-width="0.65"/><ellipse cx="0.41" cy="-0.24" rx="2.67" ry="1.87" fill="none" stroke="#444444" stroke-width="0.65"/><ellipse cx="0.49" cy="-0.28" rx="1.2" ry="0.84" fill="none" stroke="#464646" stroke-width="0.65"/><ellipse cx="0.49" cy="-0.28" rx="1.5" ry="0.8" fill="#fff"/></g>
<path d="M444 172 C446 166 455 164.5 461 166.5 C467 168 469 164 473 161 C481 157 493 158 492.5 166 C492 174 483 177 475 176.5 C470 176.5 468 179 466 181.5 C462 184 458 187 455.5 186 C452 183 445 180 444 172 Z" fill="none" stroke="#444" stroke-width="0.55"/>
<g transform="translate(455.2 173.7) rotate(-10)"><ellipse cx="0.05" cy="0.44" rx="8.64" ry="5.33" fill="#161616" stroke="#161616" stroke-width="0.6"/><ellipse cx="0" cy="0" rx="12" ry="7.4" fill="none" stroke="#282828" stroke-width="0.6"/><ellipse cx="0.01" cy="0.09" rx="11.33" ry="6.99" fill="none" stroke="#202020" stroke-width="0.6"/><ellipse cx="0.02" cy="0.18" rx="10.66" ry="6.57" fill="none" stroke="#1c1c1c" stroke-width="0.6"/><ellipse cx="0.03" cy="0.26" rx="9.98" ry="6.16" fill="none" stroke="#191919" stroke-width="0.6"/><ellipse cx="0.04" cy="0.35" rx="9.31" ry="5.74" fill="none" stroke="#161616" stroke-width="0.6"/><ellipse cx="0.05" cy="0.44" rx="8.64" ry="5.33" fill="none" stroke="#141414" stroke-width="0.6"/><ellipse cx="0.17" cy="1.35" rx="3.4" ry="0.55" fill="#fff"/></g>
<g transform="translate(481.8 168.4) rotate(-30)"><ellipse cx="0.13" cy="0.49" rx="8.5" ry="5.04" fill="#161616" stroke="#161616" stroke-width="0.6"/><ellipse cx="0" cy="0" rx="11.8" ry="7" fill="none" stroke="#282828" stroke-width="0.6"/><ellipse cx="0.03" cy="0.1" rx="11.14" ry="6.61" fill="none" stroke="#202020" stroke-width="0.6"/><ellipse cx="0.05" cy="0.2" rx="10.48" ry="6.22" fill="none" stroke="#1c1c1c" stroke-width="0.6"/><ellipse cx="0.08" cy="0.29" rx="9.82" ry="5.82" fill="none" stroke="#191919" stroke-width="0.6"/><ellipse cx="0.1" cy="0.39" rx="9.16" ry="5.43" fill="none" stroke="#161616" stroke-width="0.6"/><ellipse cx="0.13" cy="0.49" rx="8.5" ry="5.04" fill="none" stroke="#141414" stroke-width="0.6"/><ellipse cx="0.4" cy="1.5" rx="3.2" ry="0.55" fill="#fff"/></g>
<polygon points="439.3,133 465.2,136.2 473.6,146.3 438.5,162.6 425.6,162.3 425.6,149.3" fill="none" stroke="#222" stroke-width="0.9"/>
<text x="425.2" y="189.5" font-size="10" text-anchor="start" font-weight="bold" font-style="normal" fill="#111" textLength="19.5" lengthAdjust="spacingAndGlyphs">13.8</text>
<g stroke="#1a1a1a" stroke-width="0.75"><line x1="308.3" y1="102.58" x2="310.3" y2="102.58"/><line x1="308.3" y1="98.95" x2="310.3" y2="98.95"/><line x1="308.3" y1="96.37" x2="310.3" y2="96.37"/><line x1="308.3" y1="94.37" x2="310.3" y2="94.37"/><line x1="308.3" y1="92.73" x2="310.3" y2="92.73"/><line x1="308.3" y1="91.35" x2="310.3" y2="91.35"/><line x1="308.3" y1="90.15" x2="310.3" y2="90.15"/><line x1="308.3" y1="89.09" x2="310.3" y2="89.09"/><line x1="308.3" y1="81.93" x2="310.3" y2="81.93"/><line x1="308.3" y1="78.3" x2="310.3" y2="78.3"/><line x1="308.3" y1="75.72" x2="310.3" y2="75.72"/><line x1="308.3" y1="73.72" x2="310.3" y2="73.72"/><line x1="308.3" y1="72.08" x2="310.3" y2="72.08"/><line x1="308.3" y1="70.7" x2="310.3" y2="70.7"/><line x1="308.3" y1="69.5" x2="310.3" y2="69.5"/><line x1="308.3" y1="68.44" x2="310.3" y2="68.44"/><line x1="308.3" y1="61.28" x2="310.3" y2="61.28"/><line x1="308.3" y1="57.65" x2="310.3" y2="57.65"/><line x1="308.3" y1="55.07" x2="310.3" y2="55.07"/><line x1="308.3" y1="53.07" x2="310.3" y2="53.07"/><line x1="308.3" y1="51.43" x2="310.3" y2="51.43"/><line x1="308.3" y1="50.05" x2="310.3" y2="50.05"/><line x1="308.3" y1="48.85" x2="310.3" y2="48.85"/><line x1="308.3" y1="47.79" x2="310.3" y2="47.79"/><line x1="308.3" y1="40.63" x2="310.3" y2="40.63"/><line x1="308.3" y1="37" x2="310.3" y2="37"/><line x1="308.3" y1="34.42" x2="310.3" y2="34.42"/><line x1="308.3" y1="32.42" x2="310.3" y2="32.42"/><line x1="308.3" y1="30.78" x2="310.3" y2="30.78"/><line x1="308.3" y1="29.4" x2="310.3" y2="29.4"/><line x1="308.3" y1="28.2" x2="310.3" y2="28.2"/><line x1="308.3" y1="27.14" x2="310.3" y2="27.14"/><line x1="307.7" y1="108.8" x2="310.3" y2="108.8"/><line x1="307.7" y1="88.15" x2="310.3" y2="88.15"/><line x1="307.7" y1="67.5" x2="310.3" y2="67.5"/><line x1="307.7" y1="46.85" x2="310.3" y2="46.85"/><line x1="307.7" y1="26.2" x2="310.3" y2="26.2"/><line x1="316.49" y1="108.8" x2="316.49" y2="110.8"/><line x1="320.12" y1="108.8" x2="320.12" y2="110.8"/><line x1="322.69" y1="108.8" x2="322.69" y2="110.8"/><line x1="324.68" y1="108.8" x2="324.68" y2="110.8"/><line x1="326.31" y1="108.8" x2="326.31" y2="110.8"/><line x1="327.69" y1="108.8" x2="327.69" y2="110.8"/><line x1="328.88" y1="108.8" x2="328.88" y2="110.8"/><line x1="329.93" y1="108.8" x2="329.93" y2="110.8"/><line x1="337.07" y1="108.8" x2="337.07" y2="110.8"/><line x1="340.69" y1="108.8" x2="340.69" y2="110.8"/><line x1="343.26" y1="108.8" x2="343.26" y2="110.8"/><line x1="345.26" y1="108.8" x2="345.26" y2="110.8"/><line x1="346.89" y1="108.8" x2="346.89" y2="110.8"/><line x1="348.26" y1="108.8" x2="348.26" y2="110.8"/><line x1="349.46" y1="108.8" x2="349.46" y2="110.8"/><line x1="350.51" y1="108.8" x2="350.51" y2="110.8"/><line x1="357.64" y1="108.8" x2="357.64" y2="110.8"/><line x1="361.27" y1="108.8" x2="361.27" y2="110.8"/><line x1="363.84" y1="108.8" x2="363.84" y2="110.8"/><line x1="365.83" y1="108.8" x2="365.83" y2="110.8"/><line x1="367.46" y1="108.8" x2="367.46" y2="110.8"/><line x1="368.84" y1="108.8" x2="368.84" y2="110.8"/><line x1="370.03" y1="108.8" x2="370.03" y2="110.8"/><line x1="371.08" y1="108.8" x2="371.08" y2="110.8"/><line x1="378.22" y1="108.8" x2="378.22" y2="110.8"/><line x1="381.84" y1="108.8" x2="381.84" y2="110.8"/><line x1="384.41" y1="108.8" x2="384.41" y2="110.8"/><line x1="386.41" y1="108.8" x2="386.41" y2="110.8"/><line x1="388.04" y1="108.8" x2="388.04" y2="110.8"/><line x1="389.41" y1="108.8" x2="389.41" y2="110.8"/><line x1="390.61" y1="108.8" x2="390.61" y2="110.8"/><line x1="391.66" y1="108.8" x2="391.66" y2="110.8"/><line x1="310.3" y1="108.8" x2="310.3" y2="111.4"/><line x1="330.88" y1="108.8" x2="330.88" y2="111.4"/><line x1="351.45" y1="108.8" x2="351.45" y2="111.4"/><line x1="372.03" y1="108.8" x2="372.03" y2="111.4"/><line x1="392.6" y1="108.8" x2="392.6" y2="111.4"/></g>
<rect x="310.3" y="26.2" width="82.3" height="82.6" fill="none" stroke="#111" stroke-width="1.3"/>
<text x="304.7" y="32.1" font-size="7.6" fill="#222" stroke="#222" stroke-width="0.1" text-anchor="end">10<tspan font-size="4.7" dy="-3.0" dx="0.1">4</tspan></text>
<text x="304.7" y="50.95" font-size="7.6" fill="#222" stroke="#222" stroke-width="0.1" text-anchor="end">10<tspan font-size="4.7" dy="-3.0" dx="0.1">3</tspan></text>
<text x="304.7" y="70.8" font-size="7.6" fill="#222" stroke="#222" stroke-width="0.1" text-anchor="end">10<tspan font-size="4.7" dy="-3.0" dx="0.1">2</tspan></text>
<text x="304.7" y="90.75" font-size="7.6" fill="#222" stroke="#222" stroke-width="0.1" text-anchor="end">10<tspan font-size="4.7" dy="-3.0" dx="0.1">1</tspan></text>
<text x="304.7" y="109.5" font-size="7.6" fill="#222" stroke="#222" stroke-width="0.1" text-anchor="end">10<tspan font-size="4.7" dy="-3.0" dx="0.1">0</tspan></text>
<text x="305.7" y="119.4" font-size="7.6" fill="#222" stroke="#222" stroke-width="0.1" text-anchor="start">10<tspan font-size="4.7" dy="-3.0" dx="0.1">0</tspan></text>
<text x="326.27" y="119.4" font-size="7.6" fill="#222" stroke="#222" stroke-width="0.1" text-anchor="start">10<tspan font-size="4.7" dy="-3.0" dx="0.1">1</tspan></text>
<text x="346.85" y="119.4" font-size="7.6" fill="#222" stroke="#222" stroke-width="0.1" text-anchor="start">10<tspan font-size="4.7" dy="-3.0" dx="0.1">2</tspan></text>
<text x="367.43" y="119.4" font-size="7.6" fill="#222" stroke="#222" stroke-width="0.1" text-anchor="start">10<tspan font-size="4.7" dy="-3.0" dx="0.1">3</tspan></text>
<text x="388" y="119.4" font-size="7.6" fill="#222" stroke="#222" stroke-width="0.1" text-anchor="start">10<tspan font-size="4.7" dy="-3.0" dx="0.1">4</tspan></text>
<g stroke="#1a1a1a" stroke-width="0.75"><line x1="413.8" y1="102.58" x2="415.8" y2="102.58"/><line x1="413.8" y1="98.95" x2="415.8" y2="98.95"/><line x1="413.8" y1="96.37" x2="415.8" y2="96.37"/><line x1="413.8" y1="94.37" x2="415.8" y2="94.37"/><line x1="413.8" y1="92.73" x2="415.8" y2="92.73"/><line x1="413.8" y1="91.35" x2="415.8" y2="91.35"/><line x1="413.8" y1="90.15" x2="415.8" y2="90.15"/><line x1="413.8" y1="89.09" x2="415.8" y2="89.09"/><line x1="413.8" y1="81.93" x2="415.8" y2="81.93"/><line x1="413.8" y1="78.3" x2="415.8" y2="78.3"/><line x1="413.8" y1="75.72" x2="415.8" y2="75.72"/><line x1="413.8" y1="73.72" x2="415.8" y2="73.72"/><line x1="413.8" y1="72.08" x2="415.8" y2="72.08"/><line x1="413.8" y1="70.7" x2="415.8" y2="70.7"/><line x1="413.8" y1="69.5" x2="415.8" y2="69.5"/><line x1="413.8" y1="68.44" x2="415.8" y2="68.44"/><line x1="413.8" y1="61.28" x2="415.8" y2="61.28"/><line x1="413.8" y1="57.65" x2="415.8" y2="57.65"/><line x1="413.8" y1="55.07" x2="415.8" y2="55.07"/><line x1="413.8" y1="53.07" x2="415.8" y2="53.07"/><line x1="413.8" y1="51.43" x2="415.8" y2="51.43"/><line x1="413.8" y1="50.05" x2="415.8" y2="50.05"/><line x1="413.8" y1="48.85" x2="415.8" y2="48.85"/><line x1="413.8" y1="47.79" x2="415.8" y2="47.79"/><line x1="413.8" y1="40.63" x2="415.8" y2="40.63"/><line x1="413.8" y1="37" x2="415.8" y2="37"/><line x1="413.8" y1="34.42" x2="415.8" y2="34.42"/><line x1="413.8" y1="32.42" x2="415.8" y2="32.42"/><line x1="413.8" y1="30.78" x2="415.8" y2="30.78"/><line x1="413.8" y1="29.4" x2="415.8" y2="29.4"/><line x1="413.8" y1="28.2" x2="415.8" y2="28.2"/><line x1="413.8" y1="27.14" x2="415.8" y2="27.14"/><line x1="413.2" y1="108.8" x2="415.8" y2="108.8"/><line x1="413.2" y1="88.15" x2="415.8" y2="88.15"/><line x1="413.2" y1="67.5" x2="415.8" y2="67.5"/><line x1="413.2" y1="46.85" x2="415.8" y2="46.85"/><line x1="413.2" y1="26.2" x2="415.8" y2="26.2"/><line x1="421.93" y1="108.8" x2="421.93" y2="110.8"/><line x1="425.51" y1="108.8" x2="425.51" y2="110.8"/><line x1="428.05" y1="108.8" x2="428.05" y2="110.8"/><line x1="430.02" y1="108.8" x2="430.02" y2="110.8"/><line x1="431.64" y1="108.8" x2="431.64" y2="110.8"/><line x1="433" y1="108.8" x2="433" y2="110.8"/><line x1="434.18" y1="108.8" x2="434.18" y2="110.8"/><line x1="435.22" y1="108.8" x2="435.22" y2="110.8"/><line x1="442.28" y1="108.8" x2="442.28" y2="110.8"/><line x1="445.86" y1="108.8" x2="445.86" y2="110.8"/><line x1="448.4" y1="108.8" x2="448.4" y2="110.8"/><line x1="450.37" y1="108.8" x2="450.37" y2="110.8"/><line x1="451.99" y1="108.8" x2="451.99" y2="110.8"/><line x1="453.35" y1="108.8" x2="453.35" y2="110.8"/><line x1="454.53" y1="108.8" x2="454.53" y2="110.8"/><line x1="455.57" y1="108.8" x2="455.57" y2="110.8"/><line x1="462.63" y1="108.8" x2="462.63" y2="110.8"/><line x1="466.21" y1="108.8" x2="466.21" y2="110.8"/><line x1="468.75" y1="108.8" x2="468.75" y2="110.8"/><line x1="470.72" y1="108.8" x2="470.72" y2="110.8"/><line x1="472.34" y1="108.8" x2="472.34" y2="110.8"/><line x1="473.7" y1="108.8" x2="473.7" y2="110.8"/><line x1="474.88" y1="108.8" x2="474.88" y2="110.8"/><line x1="475.92" y1="108.8" x2="475.92" y2="110.8"/><line x1="482.98" y1="108.8" x2="482.98" y2="110.8"/><line x1="486.56" y1="108.8" x2="486.56" y2="110.8"/><line x1="489.1" y1="108.8" x2="489.1" y2="110.8"/><line x1="491.07" y1="108.8" x2="491.07" y2="110.8"/><line x1="492.69" y1="108.8" x2="492.69" y2="110.8"/><line x1="494.05" y1="108.8" x2="494.05" y2="110.8"/><line x1="495.23" y1="108.8" x2="495.23" y2="110.8"/><line x1="496.27" y1="108.8" x2="496.27" y2="110.8"/><line x1="415.8" y1="108.8" x2="415.8" y2="111.4"/><line x1="436.15" y1="108.8" x2="436.15" y2="111.4"/><line x1="456.5" y1="108.8" x2="456.5" y2="111.4"/><line x1="476.85" y1="108.8" x2="476.85" y2="111.4"/><line x1="497.2" y1="108.8" x2="497.2" y2="111.4"/></g>
<rect x="415.8" y="26.2" width="81.4" height="82.6" fill="none" stroke="#111" stroke-width="1.3"/>
<text x="410.2" y="32.1" font-size="7.6" fill="#222" stroke="#222" stroke-width="0.1" text-anchor="end">10<tspan font-size="4.7" dy="-3.0" dx="0.1">4</tspan></text>
<text x="410.2" y="50.95" font-size="7.6" fill="#222" stroke="#222" stroke-width="0.1" text-anchor="end">10<tspan font-size="4.7" dy="-3.0" dx="0.1">3</tspan></text>
<text x="410.2" y="70.8" font-size="7.6" fill="#222" stroke="#222" stroke-width="0.1" text-anchor="end">10<tspan font-size="4.7" dy="-3.0" dx="0.1">2</tspan></text>
<text x="410.2" y="90.75" font-size="7.6" fill="#222" stroke="#222" stroke-width="0.1" text-anchor="end">10<tspan font-size="4.7" dy="-3.0" dx="0.1">1</tspan></text>
<text x="410.2" y="109.5" font-size="7.6" fill="#222" stroke="#222" stroke-width="0.1" text-anchor="end">10<tspan font-size="4.7" dy="-3.0" dx="0.1">0</tspan></text>
<text x="411.2" y="119.4" font-size="7.6" fill="#222" stroke="#222" stroke-width="0.1" text-anchor="start">10<tspan font-size="4.7" dy="-3.0" dx="0.1">0</tspan></text>
<text x="431.55" y="119.4" font-size="7.6" fill="#222" stroke="#222" stroke-width="0.1" text-anchor="start">10<tspan font-size="4.7" dy="-3.0" dx="0.1">1</tspan></text>
<text x="451.9" y="119.4" font-size="7.6" fill="#222" stroke="#222" stroke-width="0.1" text-anchor="start">10<tspan font-size="4.7" dy="-3.0" dx="0.1">2</tspan></text>
<text x="472.25" y="119.4" font-size="7.6" fill="#222" stroke="#222" stroke-width="0.1" text-anchor="start">10<tspan font-size="4.7" dy="-3.0" dx="0.1">3</tspan></text>
<text x="492.6" y="119.4" font-size="7.6" fill="#222" stroke="#222" stroke-width="0.1" text-anchor="start">10<tspan font-size="4.7" dy="-3.0" dx="0.1">4</tspan></text>
<g stroke="#1a1a1a" stroke-width="0.75"><line x1="308.3" y1="204.11" x2="310.3" y2="204.11"/><line x1="308.3" y1="200.48" x2="310.3" y2="200.48"/><line x1="308.3" y1="197.91" x2="310.3" y2="197.91"/><line x1="308.3" y1="195.92" x2="310.3" y2="195.92"/><line x1="308.3" y1="194.29" x2="310.3" y2="194.29"/><line x1="308.3" y1="192.91" x2="310.3" y2="192.91"/><line x1="308.3" y1="191.72" x2="310.3" y2="191.72"/><line x1="308.3" y1="190.67" x2="310.3" y2="190.67"/><line x1="308.3" y1="183.53" x2="310.3" y2="183.53"/><line x1="308.3" y1="179.91" x2="310.3" y2="179.91"/><line x1="308.3" y1="177.34" x2="310.3" y2="177.34"/><line x1="308.3" y1="175.34" x2="310.3" y2="175.34"/><line x1="308.3" y1="173.71" x2="310.3" y2="173.71"/><line x1="308.3" y1="172.34" x2="310.3" y2="172.34"/><line x1="308.3" y1="171.14" x2="310.3" y2="171.14"/><line x1="308.3" y1="170.09" x2="310.3" y2="170.09"/><line x1="308.3" y1="162.96" x2="310.3" y2="162.96"/><line x1="308.3" y1="159.33" x2="310.3" y2="159.33"/><line x1="308.3" y1="156.76" x2="310.3" y2="156.76"/><line x1="308.3" y1="154.77" x2="310.3" y2="154.77"/><line x1="308.3" y1="153.14" x2="310.3" y2="153.14"/><line x1="308.3" y1="151.76" x2="310.3" y2="151.76"/><line x1="308.3" y1="150.57" x2="310.3" y2="150.57"/><line x1="308.3" y1="149.52" x2="310.3" y2="149.52"/><line x1="308.3" y1="142.38" x2="310.3" y2="142.38"/><line x1="308.3" y1="138.76" x2="310.3" y2="138.76"/><line x1="308.3" y1="136.19" x2="310.3" y2="136.19"/><line x1="308.3" y1="134.19" x2="310.3" y2="134.19"/><line x1="308.3" y1="132.56" x2="310.3" y2="132.56"/><line x1="308.3" y1="131.19" x2="310.3" y2="131.19"/><line x1="308.3" y1="129.99" x2="310.3" y2="129.99"/><line x1="308.3" y1="128.94" x2="310.3" y2="128.94"/><line x1="307.7" y1="210.3" x2="310.3" y2="210.3"/><line x1="307.7" y1="189.73" x2="310.3" y2="189.73"/><line x1="307.7" y1="169.15" x2="310.3" y2="169.15"/><line x1="307.7" y1="148.57" x2="310.3" y2="148.57"/><line x1="307.7" y1="128" x2="310.3" y2="128"/><line x1="316.49" y1="210.3" x2="316.49" y2="212.3"/><line x1="320.12" y1="210.3" x2="320.12" y2="212.3"/><line x1="322.69" y1="210.3" x2="322.69" y2="212.3"/><line x1="324.68" y1="210.3" x2="324.68" y2="212.3"/><line x1="326.31" y1="210.3" x2="326.31" y2="212.3"/><line x1="327.69" y1="210.3" x2="327.69" y2="212.3"/><line x1="328.88" y1="210.3" x2="328.88" y2="212.3"/><line x1="329.93" y1="210.3" x2="329.93" y2="212.3"/><line x1="337.07" y1="210.3" x2="337.07" y2="212.3"/><line x1="340.69" y1="210.3" x2="340.69" y2="212.3"/><line x1="343.26" y1="210.3" x2="343.26" y2="212.3"/><line x1="345.26" y1="210.3" x2="345.26" y2="212.3"/><line x1="346.89" y1="210.3" x2="346.89" y2="212.3"/><line x1="348.26" y1="210.3" x2="348.26" y2="212.3"/><line x1="349.46" y1="210.3" x2="349.46" y2="212.3"/><line x1="350.51" y1="210.3" x2="350.51" y2="212.3"/><line x1="357.64" y1="210.3" x2="357.64" y2="212.3"/><line x1="361.27" y1="210.3" x2="361.27" y2="212.3"/><line x1="363.84" y1="210.3" x2="363.84" y2="212.3"/><line x1="365.83" y1="210.3" x2="365.83" y2="212.3"/><line x1="367.46" y1="210.3" x2="367.46" y2="212.3"/><line x1="368.84" y1="210.3" x2="368.84" y2="212.3"/><line x1="370.03" y1="210.3" x2="370.03" y2="212.3"/><line x1="371.08" y1="210.3" x2="371.08" y2="212.3"/><line x1="378.22" y1="210.3" x2="378.22" y2="212.3"/><line x1="381.84" y1="210.3" x2="381.84" y2="212.3"/><line x1="384.41" y1="210.3" x2="384.41" y2="212.3"/><line x1="386.41" y1="210.3" x2="386.41" y2="212.3"/><line x1="388.04" y1="210.3" x2="388.04" y2="212.3"/><line x1="389.41" y1="210.3" x2="389.41" y2="212.3"/><line x1="390.61" y1="210.3" x2="390.61" y2="212.3"/><line x1="391.66" y1="210.3" x2="391.66" y2="212.3"/><line x1="310.3" y1="210.3" x2="310.3" y2="212.9"/><line x1="330.88" y1="210.3" x2="330.88" y2="212.9"/><line x1="351.45" y1="210.3" x2="351.45" y2="212.9"/><line x1="372.03" y1="210.3" x2="372.03" y2="212.9"/><line x1="392.6" y1="210.3" x2="392.6" y2="212.9"/></g>
<rect x="310.3" y="128" width="82.3" height="82.3" fill="none" stroke="#111" stroke-width="1.3"/>
<text x="304.7" y="133.9" font-size="7.6" fill="#222" stroke="#222" stroke-width="0.1" text-anchor="end">10<tspan font-size="4.7" dy="-3.0" dx="0.1">4</tspan></text>
<text x="304.7" y="152.67" font-size="7.6" fill="#222" stroke="#222" stroke-width="0.1" text-anchor="end">10<tspan font-size="4.7" dy="-3.0" dx="0.1">3</tspan></text>
<text x="304.7" y="172.45" font-size="7.6" fill="#222" stroke="#222" stroke-width="0.1" text-anchor="end">10<tspan font-size="4.7" dy="-3.0" dx="0.1">2</tspan></text>
<text x="304.7" y="192.33" font-size="7.6" fill="#222" stroke="#222" stroke-width="0.1" text-anchor="end">10<tspan font-size="4.7" dy="-3.0" dx="0.1">1</tspan></text>
<text x="304.7" y="211" font-size="7.6" fill="#222" stroke="#222" stroke-width="0.1" text-anchor="end">10<tspan font-size="4.7" dy="-3.0" dx="0.1">0</tspan></text>
<text x="305.7" y="220.9" font-size="7.6" fill="#222" stroke="#222" stroke-width="0.1" text-anchor="start">10<tspan font-size="4.7" dy="-3.0" dx="0.1">0</tspan></text>
<text x="326.27" y="220.9" font-size="7.6" fill="#222" stroke="#222" stroke-width="0.1" text-anchor="start">10<tspan font-size="4.7" dy="-3.0" dx="0.1">1</tspan></text>
<text x="346.85" y="220.9" font-size="7.6" fill="#222" stroke="#222" stroke-width="0.1" text-anchor="start">10<tspan font-size="4.7" dy="-3.0" dx="0.1">2</tspan></text>
<text x="367.43" y="220.9" font-size="7.6" fill="#222" stroke="#222" stroke-width="0.1" text-anchor="start">10<tspan font-size="4.7" dy="-3.0" dx="0.1">3</tspan></text>
<text x="388" y="220.9" font-size="7.6" fill="#222" stroke="#222" stroke-width="0.1" text-anchor="start">10<tspan font-size="4.7" dy="-3.0" dx="0.1">4</tspan></text>
<g stroke="#1a1a1a" stroke-width="0.75"><line x1="413.8" y1="204.11" x2="415.8" y2="204.11"/><line x1="413.8" y1="200.48" x2="415.8" y2="200.48"/><line x1="413.8" y1="197.91" x2="415.8" y2="197.91"/><line x1="413.8" y1="195.92" x2="415.8" y2="195.92"/><line x1="413.8" y1="194.29" x2="415.8" y2="194.29"/><line x1="413.8" y1="192.91" x2="415.8" y2="192.91"/><line x1="413.8" y1="191.72" x2="415.8" y2="191.72"/><line x1="413.8" y1="190.67" x2="415.8" y2="190.67"/><line x1="413.8" y1="183.53" x2="415.8" y2="183.53"/><line x1="413.8" y1="179.91" x2="415.8" y2="179.91"/><line x1="413.8" y1="177.34" x2="415.8" y2="177.34"/><line x1="413.8" y1="175.34" x2="415.8" y2="175.34"/><line x1="413.8" y1="173.71" x2="415.8" y2="173.71"/><line x1="413.8" y1="172.34" x2="415.8" y2="172.34"/><line x1="413.8" y1="171.14" x2="415.8" y2="171.14"/><line x1="413.8" y1="170.09" x2="415.8" y2="170.09"/><line x1="413.8" y1="162.96" x2="415.8" y2="162.96"/><line x1="413.8" y1="159.33" x2="415.8" y2="159.33"/><line x1="413.8" y1="156.76" x2="415.8" y2="156.76"/><line x1="413.8" y1="154.77" x2="415.8" y2="154.77"/><line x1="413.8" y1="153.14" x2="415.8" y2="153.14"/><line x1="413.8" y1="151.76" x2="415.8" y2="151.76"/><line x1="413.8" y1="150.57" x2="415.8" y2="150.57"/><line x1="413.8" y1="149.52" x2="415.8" y2="149.52"/><line x1="413.8" y1="142.38" x2="415.8" y2="142.38"/><line x1="413.8" y1="138.76" x2="415.8" y2="138.76"/><line x1="413.8" y1="136.19" x2="415.8" y2="136.19"/><line x1="413.8" y1="134.19" x2="415.8" y2="134.19"/><line x1="413.8" y1="132.56" x2="415.8" y2="132.56"/><line x1="413.8" y1="131.19" x2="415.8" y2="131.19"/><line x1="413.8" y1="129.99" x2="415.8" y2="129.99"/><line x1="413.8" y1="128.94" x2="415.8" y2="128.94"/><line x1="413.2" y1="210.3" x2="415.8" y2="210.3"/><line x1="413.2" y1="189.73" x2="415.8" y2="189.73"/><line x1="413.2" y1="169.15" x2="415.8" y2="169.15"/><line x1="413.2" y1="148.57" x2="415.8" y2="148.57"/><line x1="413.2" y1="128" x2="415.8" y2="128"/><line x1="421.93" y1="210.3" x2="421.93" y2="212.3"/><line x1="425.51" y1="210.3" x2="425.51" y2="212.3"/><line x1="428.05" y1="210.3" x2="428.05" y2="212.3"/><line x1="430.02" y1="210.3" x2="430.02" y2="212.3"/><line x1="431.64" y1="210.3" x2="431.64" y2="212.3"/><line x1="433" y1="210.3" x2="433" y2="212.3"/><line x1="434.18" y1="210.3" x2="434.18" y2="212.3"/><line x1="435.22" y1="210.3" x2="435.22" y2="212.3"/><line x1="442.28" y1="210.3" x2="442.28" y2="212.3"/><line x1="445.86" y1="210.3" x2="445.86" y2="212.3"/><line x1="448.4" y1="210.3" x2="448.4" y2="212.3"/><line x1="450.37" y1="210.3" x2="450.37" y2="212.3"/><line x1="451.99" y1="210.3" x2="451.99" y2="212.3"/><line x1="453.35" y1="210.3" x2="453.35" y2="212.3"/><line x1="454.53" y1="210.3" x2="454.53" y2="212.3"/><line x1="455.57" y1="210.3" x2="455.57" y2="212.3"/><line x1="462.63" y1="210.3" x2="462.63" y2="212.3"/><line x1="466.21" y1="210.3" x2="466.21" y2="212.3"/><line x1="468.75" y1="210.3" x2="468.75" y2="212.3"/><line x1="470.72" y1="210.3" x2="470.72" y2="212.3"/><line x1="472.34" y1="210.3" x2="472.34" y2="212.3"/><line x1="473.7" y1="210.3" x2="473.7" y2="212.3"/><line x1="474.88" y1="210.3" x2="474.88" y2="212.3"/><line x1="475.92" y1="210.3" x2="475.92" y2="212.3"/><line x1="482.98" y1="210.3" x2="482.98" y2="212.3"/><line x1="486.56" y1="210.3" x2="486.56" y2="212.3"/><line x1="489.1" y1="210.3" x2="489.1" y2="212.3"/><line x1="491.07" y1="210.3" x2="491.07" y2="212.3"/><line x1="492.69" y1="210.3" x2="492.69" y2="212.3"/><line x1="494.05" y1="210.3" x2="494.05" y2="212.3"/><line x1="495.23" y1="210.3" x2="495.23" y2="212.3"/><line x1="496.27" y1="210.3" x2="496.27" y2="212.3"/><line x1="415.8" y1="210.3" x2="415.8" y2="212.9"/><line x1="436.15" y1="210.3" x2="436.15" y2="212.9"/><line x1="456.5" y1="210.3" x2="456.5" y2="212.9"/><line x1="476.85" y1="210.3" x2="476.85" y2="212.9"/><line x1="497.2" y1="210.3" x2="497.2" y2="212.9"/></g>
<rect x="415.8" y="128" width="81.4" height="82.3" fill="none" stroke="#111" stroke-width="1.3"/>
<text x="410.2" y="133.9" font-size="7.6" fill="#222" stroke="#222" stroke-width="0.1" text-anchor="end">10<tspan font-size="4.7" dy="-3.0" dx="0.1">4</tspan></text>
<text x="410.2" y="152.67" font-size="7.6" fill="#222" stroke="#222" stroke-width="0.1" text-anchor="end">10<tspan font-size="4.7" dy="-3.0" dx="0.1">3</tspan></text>
<text x="410.2" y="172.45" font-size="7.6" fill="#222" stroke="#222" stroke-width="0.1" text-anchor="end">10<tspan font-size="4.7" dy="-3.0" dx="0.1">2</tspan></text>
<text x="410.2" y="192.33" font-size="7.6" fill="#222" stroke="#222" stroke-width="0.1" text-anchor="end">10<tspan font-size="4.7" dy="-3.0" dx="0.1">1</tspan></text>
<text x="410.2" y="211" font-size="7.6" fill="#222" stroke="#222" stroke-width="0.1" text-anchor="end">10<tspan font-size="4.7" dy="-3.0" dx="0.1">0</tspan></text>
<text x="411.2" y="220.9" font-size="7.6" fill="#222" stroke="#222" stroke-width="0.1" text-anchor="start">10<tspan font-size="4.7" dy="-3.0" dx="0.1">0</tspan></text>
<text x="431.55" y="220.9" font-size="7.6" fill="#222" stroke="#222" stroke-width="0.1" text-anchor="start">10<tspan font-size="4.7" dy="-3.0" dx="0.1">1</tspan></text>
<text x="451.9" y="220.9" font-size="7.6" fill="#222" stroke="#222" stroke-width="0.1" text-anchor="start">10<tspan font-size="4.7" dy="-3.0" dx="0.1">2</tspan></text>
<text x="472.25" y="220.9" font-size="7.6" fill="#222" stroke="#222" stroke-width="0.1" text-anchor="start">10<tspan font-size="4.7" dy="-3.0" dx="0.1">3</tspan></text>
<text x="492.6" y="220.9" font-size="7.6" fill="#222" stroke="#222" stroke-width="0.1" text-anchor="start">10<tspan font-size="4.7" dy="-3.0" dx="0.1">4</tspan></text>
<text x="6.6" y="144.2" font-size="11.2" text-anchor="start" font-weight="bold" font-style="normal" fill="#000" textLength="8.6" lengthAdjust="spacingAndGlyphs">C</text>
<rect x="42.4" y="139.4" width="3.4" height="3.2" fill="#cf0f3a"/>
<g fill="#0d4f8f"><polygon points="44.1,150.06 46.14,152.1 44.1,154.14 42.06,152.1"/></g>
<text x="50" y="143.6" font-size="7.6" text-anchor="start" font-weight="normal" font-style="normal" fill="#2e2e2e" stroke="#2e2e2e" stroke-width="0.07" textLength="24" lengthAdjust="spacingAndGlyphs"><tspan font-size="7.6" font-style="italic" dy="-0">Tph1</tspan><tspan font-size="4.26" font-style="italic" dy="-3.19">fl/fl</tspan></text>
<text x="50" y="154.7" font-size="7.6" text-anchor="start" font-weight="normal" font-style="normal" fill="#2e2e2e" stroke="#2e2e2e" stroke-width="0.07" textLength="44" lengthAdjust="spacingAndGlyphs"><tspan font-size="7.6" font-style="italic" dy="-0">Vil1</tspan><tspan font-size="4.26" font-style="italic" dy="-3.19">cre</tspan><tspan font-size="7.6" font-style="italic" dy="3.19">Tph1</tspan><tspan font-size="4.26" font-style="italic" dy="-3.19">fl/fl</tspan></text>
<rect x="48.1" y="210.8" width="10.3" height="22.6" fill="#e08a9a"/>
<rect x="64.4" y="196.9" width="10.5" height="36.5" fill="#e08a9a"/>
<rect x="81.1" y="219.4" width="10.7" height="14" fill="#8fb0cc"/>
<rect x="97.7" y="220.6" width="10.6" height="12.8" fill="#8fb0cc"/>
<line x1="53.25" y1="201" x2="53.25" y2="219.3" stroke="#222" stroke-width="0.9"/>
<line x1="50.65" y1="201" x2="55.85" y2="201" stroke="#222" stroke-width="1"/>
<line x1="50.65" y1="219.3" x2="55.85" y2="219.3" stroke="#222" stroke-width="1"/>
<line x1="69.65" y1="188.9" x2="69.65" y2="206.6" stroke="#222" stroke-width="0.9"/>
<line x1="67.05" y1="188.9" x2="72.25" y2="188.9" stroke="#222" stroke-width="1"/>
<line x1="67.05" y1="206.6" x2="72.25" y2="206.6" stroke="#222" stroke-width="1"/>
<line x1="86.45" y1="211.1" x2="86.45" y2="226.1" stroke="#222" stroke-width="0.9"/>
<line x1="83.85" y1="211.1" x2="89.05" y2="211.1" stroke="#222" stroke-width="1"/>
<line x1="83.85" y1="226.1" x2="89.05" y2="226.1" stroke="#222" stroke-width="1"/>
<line x1="103" y1="214.2" x2="103" y2="226.1" stroke="#222" stroke-width="0.9"/>
<line x1="100.4" y1="214.2" x2="105.6" y2="214.2" stroke="#222" stroke-width="1"/>
<line x1="100.4" y1="226.1" x2="105.6" y2="226.1" stroke="#222" stroke-width="1"/>
<g fill="#cf0f3a"><rect x="51.3" y="189.6" width="3.2" height="3.2"/><rect x="51.3" y="195.7" width="3.2" height="3.2"/><rect x="49.2" y="207.5" width="3.2" height="3.2"/><rect x="53.8" y="206.6" width="3.2" height="3.2"/><rect x="48" y="213" width="3.2" height="3.2"/><rect x="55" y="212.4" width="3.2" height="3.2"/><rect x="51.7" y="214.3" width="3.2" height="3.2"/><rect x="47.6" y="216.1" width="3.2" height="3.2"/><rect x="55" y="216.1" width="3.2" height="3.2"/><rect x="51.7" y="216.1" width="3.2" height="3.2"/></g>
<g fill="#cf0f3a"><rect x="64" y="185.9" width="3.2" height="3.2"/><rect x="68.1" y="184.6" width="3.2" height="3.2"/><rect x="72" y="186.5" width="3.2" height="3.2"/><rect x="67.7" y="192" width="3.2" height="3.2"/><rect x="67.7" y="198.8" width="3.2" height="3.2"/><rect x="64.4" y="201.3" width="3.2" height="3.2"/><rect x="72" y="201.9" width="3.2" height="3.2"/><rect x="68.1" y="203.2" width="3.2" height="3.2"/><rect x="67.7" y="213.3" width="3.2" height="3.2"/></g>
<g fill="#0d4f8f"><polygon points="86.3,200.68 88.22,202.6 86.3,204.52 84.38,202.6"/><polygon points="86.5,207.08 88.42,209 86.5,210.92 84.58,209"/><polygon points="86.5,211.78 88.42,213.7 86.5,215.62 84.58,213.7"/><polygon points="82.1,220.28 84.02,222.2 82.1,224.12 80.18,222.2"/><polygon points="84.7,218.48 86.62,220.4 84.7,222.32 82.78,220.4"/><polygon points="88.4,218.48 90.32,220.4 88.4,222.32 86.48,220.4"/><polygon points="90.4,220.28 92.32,222.2 90.4,224.12 88.48,222.2"/><polygon points="88.4,223.18 90.32,225.1 88.4,227.02 86.48,225.1"/><polygon points="82.1,225.78 84.02,227.7 82.1,229.62 80.18,227.7"/><polygon points="84.2,223.68 86.12,225.6 84.2,227.52 82.28,225.6"/></g>
<g fill="#0d4f8f"><polygon points="102.9,207.38 104.82,209.3 102.9,211.22 100.98,209.3"/><polygon points="100.6,209.68 102.52,211.6 100.6,213.52 98.68,211.6"/><polygon points="102.9,212.58 104.82,214.5 102.9,216.42 100.98,214.5"/><polygon points="98.7,219.58 100.62,221.5 98.7,223.42 96.78,221.5"/><polygon points="107,219.58 108.92,221.5 107,223.42 105.08,221.5"/><polygon points="100.8,221.08 102.72,223 100.8,224.92 98.88,223"/><polygon points="105,221.58 106.92,223.5 105,225.42 103.08,223.5"/><polygon points="98.7,223.18 100.62,225.1 98.7,227.02 96.78,225.1"/><polygon points="107.6,224.18 109.52,226.1 107.6,228.02 105.68,226.1"/><polygon points="102.9,223.18 104.82,225.1 102.9,227.02 100.98,225.1"/></g>
<line x1="41.9" y1="165" x2="41.9" y2="234" stroke="#111" stroke-width="1.2"/>
<line x1="41.3" y1="233.4" x2="112.9" y2="233.4" stroke="#111" stroke-width="1.2"/>
<line x1="38.9" y1="168.4" x2="41.9" y2="168.4" stroke="#111" stroke-width="1"/>
<line x1="38.9" y1="192.1" x2="41.9" y2="192.1" stroke="#111" stroke-width="1"/>
<line x1="38.9" y1="216" x2="41.9" y2="216" stroke="#111" stroke-width="1"/>
<line x1="53.25" y1="233.4" x2="53.25" y2="236.6" stroke="#111" stroke-width="1"/>
<line x1="69.65" y1="233.4" x2="69.65" y2="236.6" stroke="#111" stroke-width="1"/>
<line x1="86.45" y1="233.4" x2="86.45" y2="236.6" stroke="#111" stroke-width="1"/>
<line x1="103" y1="233.4" x2="103" y2="236.6" stroke="#111" stroke-width="1"/>
<text x="36" y="171.35" font-size="8.5" text-anchor="end" font-weight="normal" font-style="normal" fill="#2a2a2a" stroke="#2a2a2a" stroke-width="0.13" textLength="8.51" lengthAdjust="spacingAndGlyphs">60</text>
<text x="36" y="195.05" font-size="8.5" text-anchor="end" font-weight="normal" font-style="normal" fill="#2a2a2a" stroke="#2a2a2a" stroke-width="0.13" textLength="8.51" lengthAdjust="spacingAndGlyphs">40</text>
<text x="36" y="218.95" font-size="8.5" text-anchor="end" font-weight="normal" font-style="normal" fill="#2a2a2a" stroke="#2a2a2a" stroke-width="0.13" textLength="8.51" lengthAdjust="spacingAndGlyphs">20</text>
<line x1="48.5" y1="168" x2="91.9" y2="168" stroke="#4a4a4a" stroke-width="1.2"/>
<path d="M69.07 164.15L71.33 165.45M70.2 163.5L70.2 166.1M71.33 164.15L69.07 165.45" stroke="#111" stroke-width="0.65" stroke-linecap="round"/><circle cx="70.2" cy="164.8" r="0.81" fill="#111"/>
<line x1="48.5" y1="178.8" x2="74.5" y2="178.8" stroke="#4a4a4a" stroke-width="1.2"/>
<path d="M58.27 174.95L60.53 176.25M59.4 174.3L59.4 176.9M60.53 174.95L58.27 176.25" stroke="#111" stroke-width="0.65" stroke-linecap="round"/><circle cx="59.4" cy="175.6" r="0.81" fill="#111"/>
<path d="M62.47 174.95L64.73 176.25M63.6 174.3L63.6 176.9M64.73 174.95L62.47 176.25" stroke="#111" stroke-width="0.65" stroke-linecap="round"/><circle cx="63.6" cy="175.6" r="0.81" fill="#111"/>
<line x1="80.4" y1="197.8" x2="107.6" y2="197.8" stroke="#4a4a4a" stroke-width="1.2"/>
<text x="94" y="195.6" font-size="7.8" text-anchor="middle" font-weight="normal" font-style="normal" fill="#222" stroke="#222" stroke-width="0.1" textLength="9.9" lengthAdjust="spacingAndGlyphs">NS</text>
<text x="33.15" y="246.4" font-size="8.4" text-anchor="middle" font-weight="normal" font-style="normal" fill="#2a2a2a" stroke="#2a2a2a" stroke-width="0.13" textLength="16.7" lengthAdjust="spacingAndGlyphs">IL-33</text>
<line x1="50.7" y1="243.6" x2="55.1" y2="243.6" stroke="#333" stroke-width="0.8"/>
<line x1="67.4" y1="243.6" x2="71.8" y2="243.6" stroke="#333" stroke-width="0.8"/>
<line x1="69.6" y1="241.4" x2="69.6" y2="245.8" stroke="#333" stroke-width="0.8"/>
<line x1="84.2" y1="243.6" x2="88.6" y2="243.6" stroke="#333" stroke-width="0.8"/>
<line x1="100.8" y1="243.6" x2="105.2" y2="243.6" stroke="#333" stroke-width="0.8"/>
<line x1="103" y1="241.4" x2="103" y2="245.8" stroke="#333" stroke-width="0.8"/>
<text x="20.6" y="198.3" font-size="8.8" text-anchor="middle" font-weight="normal" font-style="normal" fill="#2a2a2a" stroke="#2a2a2a" stroke-width="0.14" textLength="51.3" lengthAdjust="spacingAndGlyphs" transform="rotate(-90 20.6 198.3)"><tspan font-size="8.8" font-style="normal" dy="-0">F4/80</tspan><tspan font-size="6.16" font-style="normal" dy="-3.34">−</tspan><tspan font-size="8.8" font-style="normal" dy="3.34">Ly6G</tspan><tspan font-size="6.16" font-style="normal" dy="-3.34">+</tspan><tspan font-size="8.8" font-style="normal" dy="3.34"> %</tspan></text>
<text x="136.3" y="144.2" font-size="11.2" text-anchor="start" font-weight="bold" font-style="normal" fill="#000" textLength="8.9" lengthAdjust="spacingAndGlyphs">D</text>
<rect x="178.2" y="139.4" width="3.4" height="3.2" fill="#cf0f3a"/>
<g fill="#0d4f8f"><polygon points="179.9,149.96 181.94,152 179.9,154.04 177.86,152"/></g>
<text x="185.8" y="143.6" font-size="7.6" text-anchor="start" font-weight="normal" font-style="normal" fill="#2e2e2e" stroke="#2e2e2e" stroke-width="0.07" textLength="24" lengthAdjust="spacingAndGlyphs"><tspan font-size="7.6" font-style="italic" dy="-0">Tph1</tspan><tspan font-size="4.26" font-style="italic" dy="-3.19">fl/fl</tspan></text>
<text x="185.8" y="154.6" font-size="7.6" text-anchor="start" font-weight="normal" font-style="normal" fill="#2e2e2e" stroke="#2e2e2e" stroke-width="0.07" textLength="44" lengthAdjust="spacingAndGlyphs"><tspan font-size="7.6" font-style="italic" dy="-0">Vil1</tspan><tspan font-size="4.26" font-style="italic" dy="-3.19">cre</tspan><tspan font-size="7.6" font-style="italic" dy="3.19">Tph1</tspan><tspan font-size="4.26" font-style="italic" dy="-3.19">fl/fl</tspan></text>
<rect x="183.6" y="197" width="10.3" height="36.4" fill="#e08a9a"/>
<rect x="200.1" y="193.8" width="10.4" height="39.6" fill="#e08a9a"/>
<rect x="216.7" y="214.6" width="10.4" height="18.8" fill="#8fb0cc"/>
<rect x="233.4" y="222.8" width="10.3" height="10.6" fill="#8fb0cc"/>
<line x1="188.75" y1="195.6" x2="188.75" y2="205.1" stroke="#222" stroke-width="0.9"/>
<line x1="186.15" y1="195.6" x2="191.35" y2="195.6" stroke="#222" stroke-width="1"/>
<line x1="186.15" y1="205.1" x2="191.35" y2="205.1" stroke="#222" stroke-width="1"/>
<line x1="205.3" y1="184.7" x2="205.3" y2="199.7" stroke="#222" stroke-width="0.9"/>
<line x1="202.7" y1="184.7" x2="207.9" y2="184.7" stroke="#222" stroke-width="1"/>
<line x1="202.7" y1="199.7" x2="207.9" y2="199.7" stroke="#222" stroke-width="1"/>
<line x1="221.9" y1="202.8" x2="221.9" y2="224.4" stroke="#222" stroke-width="0.9"/>
<line x1="219.3" y1="202.8" x2="224.5" y2="202.8" stroke="#222" stroke-width="1"/>
<line x1="219.3" y1="224.4" x2="224.5" y2="224.4" stroke="#222" stroke-width="1"/>
<line x1="238.55" y1="213.5" x2="238.55" y2="230.7" stroke="#222" stroke-width="0.9"/>
<line x1="235.95" y1="213.5" x2="241.15" y2="213.5" stroke="#222" stroke-width="1"/>
<line x1="235.95" y1="230.7" x2="241.15" y2="230.7" stroke="#222" stroke-width="1"/>
<g fill="#cf0f3a"><rect x="182.7" y="192" width="3.2" height="3.2"/><rect x="187.2" y="194.7" width="3.2" height="3.2"/><rect x="191.3" y="196" width="3.2" height="3.2"/><rect x="182.5" y="197.4" width="3.2" height="3.2"/><rect x="187.2" y="198.8" width="3.2" height="3.2"/><rect x="191.3" y="199.4" width="3.2" height="3.2"/><rect x="182.5" y="200.1" width="3.2" height="3.2"/><rect x="185.2" y="202.8" width="3.2" height="3.2"/><rect x="190.9" y="202.8" width="3.2" height="3.2"/><rect x="187.2" y="206.9" width="3.2" height="3.2"/></g>
<g fill="#cf0f3a"><rect x="199.4" y="179.8" width="3.2" height="3.2"/><rect x="203.9" y="182.5" width="3.2" height="3.2"/><rect x="199.4" y="187.2" width="3.2" height="3.2"/><rect x="207.6" y="187.6" width="3.2" height="3.2"/><rect x="199.4" y="190.6" width="3.2" height="3.2"/><rect x="203.9" y="190.6" width="3.2" height="3.2"/><rect x="207.6" y="192" width="3.2" height="3.2"/><rect x="203.9" y="195.4" width="3.2" height="3.2"/><rect x="205.5" y="200.1" width="3.2" height="3.2"/><rect x="201.5" y="202.8" width="3.2" height="3.2"/></g>
<g fill="#0d4f8f"><polygon points="222.2,191.88 224.12,193.8 222.2,195.72 220.28,193.8"/><polygon points="222.2,202.68 224.12,204.6 222.2,206.52 220.28,204.6"/><polygon points="217.2,204.88 219.12,206.8 217.2,208.72 215.28,206.8"/><polygon points="222.2,206.98 224.12,208.9 222.2,210.82 220.28,208.9"/><polygon points="217.2,212.18 219.12,214.1 217.2,216.02 215.28,214.1"/><polygon points="222.2,212.18 224.12,214.1 222.2,216.02 220.28,214.1"/><polygon points="226,212.18 227.92,214.1 226,216.02 224.08,214.1"/><polygon points="222.2,218.88 224.12,220.8 222.2,222.72 220.28,220.8"/><polygon points="219.3,226.68 221.22,228.6 219.3,230.52 217.38,228.6"/><polygon points="224,225.98 225.92,227.9 224,229.82 222.08,227.9"/></g>
<g fill="#0d4f8f"><polygon points="238.4,203.18 240.32,205.1 238.4,207.02 236.48,205.1"/><polygon points="238.4,208.38 240.32,210.3 238.4,212.22 236.48,210.3"/><polygon points="238.4,216.08 240.32,218 238.4,219.92 236.48,218"/><polygon points="235.5,220.38 237.42,222.3 235.5,224.22 233.58,222.3"/><polygon points="240.5,221.08 242.42,223 240.5,224.92 238.58,223"/><polygon points="237.6,223.88 239.52,225.8 237.6,227.72 235.68,225.8"/><polygon points="241.9,224.58 243.82,226.5 241.9,228.42 239.98,226.5"/><polygon points="234.1,228.08 236.02,230 234.1,231.92 232.18,230"/><polygon points="237.6,226.68 239.52,228.6 237.6,230.52 235.68,228.6"/><polygon points="242.6,228.08 244.52,230 242.6,231.92 240.68,230"/></g>
<line x1="177.7" y1="165.4" x2="177.7" y2="234" stroke="#111" stroke-width="1.2"/>
<line x1="177.1" y1="233.4" x2="247.9" y2="233.4" stroke="#111" stroke-width="1.2"/>
<line x1="174.7" y1="168.8" x2="177.7" y2="168.8" stroke="#111" stroke-width="1"/>
<line x1="174.7" y1="190.4" x2="177.7" y2="190.4" stroke="#111" stroke-width="1"/>
<line x1="174.7" y1="212.1" x2="177.7" y2="212.1" stroke="#111" stroke-width="1"/>
<line x1="174.7" y1="233.4" x2="177.7" y2="233.4" stroke="#111" stroke-width="1"/>
<line x1="188.75" y1="233.4" x2="188.75" y2="236.6" stroke="#111" stroke-width="1"/>
<line x1="205.3" y1="233.4" x2="205.3" y2="236.6" stroke="#111" stroke-width="1"/>
<line x1="221.9" y1="233.4" x2="221.9" y2="236.6" stroke="#111" stroke-width="1"/>
<line x1="238.55" y1="233.4" x2="238.55" y2="236.6" stroke="#111" stroke-width="1"/>
<text x="172.4" y="171.75" font-size="8.5" text-anchor="end" font-weight="normal" font-style="normal" fill="#2a2a2a" stroke="#2a2a2a" stroke-width="0.13" textLength="4.25" lengthAdjust="spacingAndGlyphs">3</text>
<text x="172.4" y="193.35" font-size="8.5" text-anchor="end" font-weight="normal" font-style="normal" fill="#2a2a2a" stroke="#2a2a2a" stroke-width="0.13" textLength="4.25" lengthAdjust="spacingAndGlyphs">2</text>
<text x="172.4" y="215.05" font-size="8.5" text-anchor="end" font-weight="normal" font-style="normal" fill="#2a2a2a" stroke="#2a2a2a" stroke-width="0.13" textLength="4.25" lengthAdjust="spacingAndGlyphs">1</text>
<text x="172.4" y="236.35" font-size="8.5" text-anchor="end" font-weight="normal" font-style="normal" fill="#2a2a2a" stroke="#2a2a2a" stroke-width="0.13" textLength="4.25" lengthAdjust="spacingAndGlyphs">0</text>
<line x1="183.5" y1="168.4" x2="226.9" y2="168.4" stroke="#4a4a4a" stroke-width="1.2"/>
<path d="M201.97 164.55L204.23 165.85M203.1 163.9L203.1 166.5M204.23 164.55L201.97 165.85" stroke="#111" stroke-width="0.65" stroke-linecap="round"/><circle cx="203.1" cy="165.2" r="0.81" fill="#111"/>
<path d="M206.17 164.55L208.43 165.85M207.3 163.9L207.3 166.5M208.43 164.55L206.17 165.85" stroke="#111" stroke-width="0.65" stroke-linecap="round"/><circle cx="207.3" cy="165.2" r="0.81" fill="#111"/>
<line x1="183.5" y1="177.8" x2="210.1" y2="177.8" stroke="#4a4a4a" stroke-width="1.2"/>
<path d="M193.57 173.95L195.83 175.25M194.7 173.3L194.7 175.9M195.83 173.95L193.57 175.25" stroke="#111" stroke-width="0.65" stroke-linecap="round"/><circle cx="194.7" cy="174.6" r="0.81" fill="#111"/>
<path d="M197.77 173.95L200.03 175.25M198.9 173.3L198.9 175.9M200.03 173.95L197.77 175.25" stroke="#111" stroke-width="0.65" stroke-linecap="round"/><circle cx="198.9" cy="174.6" r="0.81" fill="#111"/>
<line x1="217.8" y1="188.9" x2="244.7" y2="188.9" stroke="#4a4a4a" stroke-width="1.2"/>
<text x="231.25" y="186.7" font-size="7.8" text-anchor="middle" font-weight="normal" font-style="normal" fill="#222" stroke="#222" stroke-width="0.1" textLength="9.9" lengthAdjust="spacingAndGlyphs">NS</text>
<text x="169.25" y="246.4" font-size="8.4" text-anchor="middle" font-weight="normal" font-style="normal" fill="#2a2a2a" stroke="#2a2a2a" stroke-width="0.13" textLength="17.3" lengthAdjust="spacingAndGlyphs">IL-33</text>
<line x1="186.6" y1="243.6" x2="191" y2="243.6" stroke="#333" stroke-width="0.8"/>
<line x1="203.1" y1="243.6" x2="207.5" y2="243.6" stroke="#333" stroke-width="0.8"/>
<line x1="205.3" y1="241.4" x2="205.3" y2="245.8" stroke="#333" stroke-width="0.8"/>
<line x1="219.7" y1="243.6" x2="224.1" y2="243.6" stroke="#333" stroke-width="0.8"/>
<line x1="236.3" y1="243.6" x2="240.7" y2="243.6" stroke="#333" stroke-width="0.8"/>
<line x1="238.5" y1="241.4" x2="238.5" y2="245.8" stroke="#333" stroke-width="0.8"/>
<text x="161.6" y="198.9" font-size="9" fill="#2a2a2a" stroke="#2a2a2a" stroke-width="0.14" text-anchor="middle" transform="rotate(-90 161.6 198.9)" textLength="31.2" lengthAdjust="spacingAndGlyphs">×10<tspan font-size="6.2" dy="-3.4">5</tspan><tspan dy="3.4"> cell</tspan></text>
<text x="6.9" y="279.3" font-size="10.8" text-anchor="start" font-weight="bold" font-style="normal" fill="#000" textLength="7" lengthAdjust="spacingAndGlyphs">E</text>
<text x="76.9" y="295" font-size="9.2" text-anchor="middle" font-weight="normal" font-style="normal" fill="#2a2a2a" stroke="#2a2a2a" stroke-width="0.13" textLength="22" lengthAdjust="spacingAndGlyphs">TNF-α</text>
<rect x="97.9" y="303.8" width="3.4" height="3.2" fill="#cf0f3a"/>
<g fill="#0d4f8f"><polygon points="99.8,313.76 101.84,315.8 99.8,317.84 97.76,315.8"/></g>
<text x="105.6" y="307.8" font-size="7.6" text-anchor="start" font-weight="normal" font-style="normal" fill="#2e2e2e" stroke="#2e2e2e" stroke-width="0.07" textLength="24" lengthAdjust="spacingAndGlyphs"><tspan font-size="7.6" font-style="italic" dy="-0">Tph1</tspan><tspan font-size="4.26" font-style="italic" dy="-3.19">fl/fl</tspan></text>
<text x="105.6" y="318.6" font-size="7.6" text-anchor="start" font-weight="normal" font-style="normal" fill="#2e2e2e" stroke="#2e2e2e" stroke-width="0.07" textLength="44" lengthAdjust="spacingAndGlyphs"><tspan font-size="7.6" font-style="italic" dy="-0">Vil1</tspan><tspan font-size="4.26" font-style="italic" dy="-3.19">cre</tspan><tspan font-size="7.6" font-style="italic" dy="3.19">Tph1</tspan><tspan font-size="4.26" font-style="italic" dy="-3.19">fl/fl</tspan></text>
<rect x="46.9" y="340.9" width="10.4" height="30.4" fill="#e08a9a"/>
<rect x="63.2" y="329.8" width="10.4" height="41.5" fill="#e08a9a"/>
<rect x="79.6" y="348.3" width="10.6" height="23" fill="#8fb0cc"/>
<rect x="96.1" y="351" width="10.5" height="20.3" fill="#8fb0cc"/>
<line x1="52.1" y1="334.3" x2="52.1" y2="345.4" stroke="#222" stroke-width="0.9"/>
<line x1="49.5" y1="334.3" x2="54.7" y2="334.3" stroke="#222" stroke-width="1"/>
<line x1="49.5" y1="345.4" x2="54.7" y2="345.4" stroke="#222" stroke-width="1"/>
<line x1="68.4" y1="325.7" x2="68.4" y2="335.3" stroke="#222" stroke-width="0.9"/>
<line x1="65.8" y1="325.7" x2="71" y2="325.7" stroke="#222" stroke-width="1"/>
<line x1="65.8" y1="335.3" x2="71" y2="335.3" stroke="#222" stroke-width="1"/>
<line x1="84.9" y1="342.3" x2="84.9" y2="352.8" stroke="#222" stroke-width="0.9"/>
<line x1="82.3" y1="342.3" x2="87.5" y2="342.3" stroke="#222" stroke-width="1"/>
<line x1="82.3" y1="352.8" x2="87.5" y2="352.8" stroke="#222" stroke-width="1"/>
<line x1="101.35" y1="344.8" x2="101.35" y2="355.2" stroke="#222" stroke-width="0.9"/>
<line x1="98.75" y1="344.8" x2="103.95" y2="344.8" stroke="#222" stroke-width="1"/>
<line x1="98.75" y1="355.2" x2="103.95" y2="355.2" stroke="#222" stroke-width="1"/>
<g fill="#cf0f3a"><rect x="50" y="327.8" width="3.2" height="3.2"/><rect x="48.5" y="330.9" width="3.2" height="3.2"/><rect x="51.5" y="333.4" width="3.2" height="3.2"/><rect x="46.3" y="338.6" width="3.2" height="3.2"/><rect x="50" y="338.9" width="3.2" height="3.2"/><rect x="54.5" y="337.1" width="3.2" height="3.2"/><rect x="52.3" y="340.1" width="3.2" height="3.2"/><rect x="49" y="343" width="3.2" height="3.2"/><rect x="51.1" y="345.3" width="3.2" height="3.2"/><rect x="48.5" y="347.8" width="3.2" height="3.2"/></g>
<g fill="#cf0f3a"><rect x="66.8" y="320.1" width="3.2" height="3.2"/><rect x="62.6" y="325.3" width="3.2" height="3.2"/><rect x="70.8" y="324.5" width="3.2" height="3.2"/><rect x="66.3" y="326.7" width="3.2" height="3.2"/><rect x="64.8" y="329" width="3.2" height="3.2"/><rect x="69.3" y="328.2" width="3.2" height="3.2"/><rect x="70.8" y="329" width="3.2" height="3.2"/><rect x="65.6" y="331.2" width="3.2" height="3.2"/><rect x="67.8" y="332.7" width="3.2" height="3.2"/><rect x="66.8" y="337.8" width="3.2" height="3.2"/></g>
<g fill="#0d4f8f"><polygon points="84.6,336.08 86.52,338 84.6,339.92 82.68,338"/><polygon points="84.6,338.48 86.52,340.4 84.6,342.32 82.68,340.4"/><polygon points="80.3,345.88 82.22,347.8 80.3,349.72 78.38,347.8"/><polygon points="83.4,345.28 85.32,347.2 83.4,349.12 81.48,347.2"/><polygon points="85.3,347.18 87.22,349.1 85.3,351.02 83.38,349.1"/><polygon points="88.3,344.68 90.22,346.6 88.3,348.52 86.38,346.6"/><polygon points="89,347.78 90.92,349.7 89,351.62 87.08,349.7"/><polygon points="82.8,348.38 84.72,350.3 82.8,352.22 80.88,350.3"/><polygon points="85.9,348.98 87.82,350.9 85.9,352.82 83.98,350.9"/><polygon points="86.5,351.48 88.42,353.4 86.5,355.32 84.58,353.4"/><polygon points="84.6,354.58 86.52,356.5 84.6,358.42 82.68,356.5"/></g>
<g fill="#0d4f8f"><polygon points="101.3,338.48 103.22,340.4 101.3,342.32 99.38,340.4"/><polygon points="101.3,341.58 103.22,343.5 101.3,345.42 99.38,343.5"/><polygon points="97,345.88 98.92,347.8 97,349.72 95.08,347.8"/><polygon points="105,347.18 106.92,349.1 105,351.02 103.08,349.1"/><polygon points="101.3,348.38 103.22,350.3 101.3,352.22 99.38,350.3"/><polygon points="97,349.58 98.92,351.5 97,353.42 95.08,351.5"/><polygon points="105.6,350.28 107.52,352.2 105.6,354.12 103.68,352.2"/><polygon points="100.1,352.08 102.02,354 100.1,355.92 98.18,354"/><polygon points="97,354.58 98.92,356.5 97,358.42 95.08,356.5"/><polygon points="105,354.58 106.92,356.5 105,358.42 103.08,356.5"/></g>
<line x1="41.1" y1="303.8" x2="41.1" y2="371.9" stroke="#111" stroke-width="1.2"/>
<line x1="40.5" y1="371.3" x2="112.5" y2="371.3" stroke="#111" stroke-width="1.2"/>
<line x1="38.1" y1="307.2" x2="41.1" y2="307.2" stroke="#111" stroke-width="1"/>
<line x1="38.1" y1="320.1" x2="41.1" y2="320.1" stroke="#111" stroke-width="1"/>
<line x1="38.1" y1="333" x2="41.1" y2="333" stroke="#111" stroke-width="1"/>
<line x1="38.1" y1="345.9" x2="41.1" y2="345.9" stroke="#111" stroke-width="1"/>
<line x1="38.1" y1="358.6" x2="41.1" y2="358.6" stroke="#111" stroke-width="1"/>
<line x1="38.1" y1="371.3" x2="41.1" y2="371.3" stroke="#111" stroke-width="1"/>
<line x1="52.1" y1="371.3" x2="52.1" y2="374.5" stroke="#111" stroke-width="1"/>
<line x1="68.4" y1="371.3" x2="68.4" y2="374.5" stroke="#111" stroke-width="1"/>
<line x1="84.9" y1="371.3" x2="84.9" y2="374.5" stroke="#111" stroke-width="1"/>
<line x1="101.35" y1="371.3" x2="101.35" y2="374.5" stroke="#111" stroke-width="1"/>
<text x="35.4" y="310.15" font-size="8.5" text-anchor="end" font-weight="normal" font-style="normal" fill="#2a2a2a" stroke="#2a2a2a" stroke-width="0.13" textLength="12.76" lengthAdjust="spacingAndGlyphs">100</text>
<text x="35.4" y="323.05" font-size="8.5" text-anchor="end" font-weight="normal" font-style="normal" fill="#2a2a2a" stroke="#2a2a2a" stroke-width="0.13" textLength="8.51" lengthAdjust="spacingAndGlyphs">80</text>
<text x="35.4" y="335.95" font-size="8.5" text-anchor="end" font-weight="normal" font-style="normal" fill="#2a2a2a" stroke="#2a2a2a" stroke-width="0.13" textLength="8.51" lengthAdjust="spacingAndGlyphs">60</text>
<text x="35.4" y="348.85" font-size="8.5" text-anchor="end" font-weight="normal" font-style="normal" fill="#2a2a2a" stroke="#2a2a2a" stroke-width="0.13" textLength="8.51" lengthAdjust="spacingAndGlyphs">40</text>
<text x="35.4" y="361.55" font-size="8.5" text-anchor="end" font-weight="normal" font-style="normal" fill="#2a2a2a" stroke="#2a2a2a" stroke-width="0.13" textLength="8.51" lengthAdjust="spacingAndGlyphs">20</text>
<text x="35.4" y="374.25" font-size="8.5" text-anchor="end" font-weight="normal" font-style="normal" fill="#2a2a2a" stroke="#2a2a2a" stroke-width="0.13" textLength="4.25" lengthAdjust="spacingAndGlyphs">0</text>
<line x1="47.1" y1="304.6" x2="90.3" y2="304.6" stroke="#4a4a4a" stroke-width="1.2"/>
<path d="M65.47 300.75L67.73 302.05M66.6 300.1L66.6 302.7M67.73 300.75L65.47 302.05" stroke="#111" stroke-width="0.65" stroke-linecap="round"/><circle cx="66.6" cy="301.4" r="0.81" fill="#111"/>
<path d="M69.67 300.75L71.93 302.05M70.8 300.1L70.8 302.7M71.93 300.75L69.67 302.05" stroke="#111" stroke-width="0.65" stroke-linecap="round"/><circle cx="70.8" cy="301.4" r="0.81" fill="#111"/>
<line x1="47.1" y1="316.4" x2="73.5" y2="316.4" stroke="#4a4a4a" stroke-width="1.2"/>
<path d="M57.07 312.55L59.33 313.85M58.2 311.9L58.2 314.5M59.33 312.55L57.07 313.85" stroke="#111" stroke-width="0.65" stroke-linecap="round"/><circle cx="58.2" cy="313.2" r="0.81" fill="#111"/>
<path d="M61.27 312.55L63.53 313.85M62.4 311.9L62.4 314.5M63.53 312.55L61.27 313.85" stroke="#111" stroke-width="0.65" stroke-linecap="round"/><circle cx="62.4" cy="313.2" r="0.81" fill="#111"/>
<line x1="80.1" y1="334" x2="106.6" y2="334" stroke="#4a4a4a" stroke-width="1.2"/>
<text x="93.35" y="331.8" font-size="7.8" text-anchor="middle" font-weight="normal" font-style="normal" fill="#222" stroke="#222" stroke-width="0.1" textLength="9.9" lengthAdjust="spacingAndGlyphs">NS</text>
<text x="31.95" y="383.9" font-size="8.4" text-anchor="middle" font-weight="normal" font-style="normal" fill="#2a2a2a" stroke="#2a2a2a" stroke-width="0.13" textLength="17.3" lengthAdjust="spacingAndGlyphs">IL-33</text>
<line x1="49.9" y1="381.1" x2="54.3" y2="381.1" stroke="#333" stroke-width="0.8"/>
<line x1="66.2" y1="381.1" x2="70.6" y2="381.1" stroke="#333" stroke-width="0.8"/>
<line x1="68.4" y1="378.9" x2="68.4" y2="383.3" stroke="#333" stroke-width="0.8"/>
<line x1="82.7" y1="381.1" x2="87.1" y2="381.1" stroke="#333" stroke-width="0.8"/>
<line x1="99.1" y1="381.1" x2="103.5" y2="381.1" stroke="#333" stroke-width="0.8"/>
<line x1="101.3" y1="378.9" x2="101.3" y2="383.3" stroke="#333" stroke-width="0.8"/>
<text x="16.2" y="336.9" font-size="9.6" text-anchor="middle" font-weight="normal" font-style="normal" fill="#2a2a2a" stroke="#2a2a2a" stroke-width="0.13" textLength="20.2" lengthAdjust="spacingAndGlyphs" transform="rotate(-90 16.2 336.9)">pg/ml</text>
<text x="158.6" y="279.3" font-size="10.8" text-anchor="start" font-weight="bold" font-style="normal" fill="#000" textLength="6.6" lengthAdjust="spacingAndGlyphs">F</text>
<rect x="184.1" y="272.9" width="3.4" height="3.2" fill="#cf0f3a"/>
<g fill="#0d4f8f"><polygon points="185.8,283.16 187.84,285.2 185.8,287.24 183.76,285.2"/></g>
<text x="191.7" y="277.1" font-size="7.6" text-anchor="start" font-weight="normal" font-style="normal" fill="#2e2e2e" stroke="#2e2e2e" stroke-width="0.07" textLength="24" lengthAdjust="spacingAndGlyphs"><tspan font-size="7.6" font-style="italic" dy="-0">Tph1</tspan><tspan font-size="4.26" font-style="italic" dy="-3.19">fl/fl</tspan></text>
<text x="191.7" y="287.8" font-size="7.6" text-anchor="start" font-weight="normal" font-style="normal" fill="#2e2e2e" stroke="#2e2e2e" stroke-width="0.07" textLength="44" lengthAdjust="spacingAndGlyphs"><tspan font-size="7.6" font-style="italic" dy="-0">Vil1</tspan><tspan font-size="4.26" font-style="italic" dy="-3.19">cre</tspan><tspan font-size="7.6" font-style="italic" dy="3.19">Tph1</tspan><tspan font-size="4.26" font-style="italic" dy="-3.19">fl/fl</tspan></text>
<rect x="193.6" y="336.5" width="10.2" height="34.6" fill="#e08a9a"/>
<rect x="210" y="349.2" width="10.1" height="21.9" fill="#e08a9a"/>
<rect x="225.9" y="329.5" width="10.5" height="41.6" fill="#8fb0cc"/>
<rect x="242.2" y="328.7" width="10.4" height="42.4" fill="#8fb0cc"/>
<line x1="198.7" y1="333" x2="198.7" y2="346.5" stroke="#222" stroke-width="0.9"/>
<line x1="196.1" y1="333" x2="201.3" y2="333" stroke="#222" stroke-width="1"/>
<line x1="196.1" y1="346.5" x2="201.3" y2="346.5" stroke="#222" stroke-width="1"/>
<line x1="215.05" y1="337" x2="215.05" y2="360.4" stroke="#222" stroke-width="0.9"/>
<line x1="212.45" y1="337" x2="217.65" y2="337" stroke="#222" stroke-width="1"/>
<line x1="212.45" y1="360.4" x2="217.65" y2="360.4" stroke="#222" stroke-width="1"/>
<line x1="231.15" y1="320" x2="231.15" y2="338" stroke="#222" stroke-width="0.9"/>
<line x1="228.55" y1="320" x2="233.75" y2="320" stroke="#222" stroke-width="1"/>
<line x1="228.55" y1="338" x2="233.75" y2="338" stroke="#222" stroke-width="1"/>
<line x1="247.4" y1="321.3" x2="247.4" y2="334.8" stroke="#222" stroke-width="0.9"/>
<line x1="244.8" y1="321.3" x2="250" y2="321.3" stroke="#222" stroke-width="1"/>
<line x1="244.8" y1="334.8" x2="250" y2="334.8" stroke="#222" stroke-width="1"/>
<g fill="#cf0f3a"><rect x="197.9" y="327.2" width="3.2" height="3.2"/><rect x="195.2" y="329.9" width="3.2" height="3.2"/><rect x="197.9" y="332" width="3.2" height="3.2"/><rect x="192.5" y="336" width="3.2" height="3.2"/><rect x="195.9" y="335.8" width="3.2" height="3.2"/><rect x="200.6" y="336" width="3.2" height="3.2"/><rect x="194.5" y="339.4" width="3.2" height="3.2"/><rect x="198.2" y="339.4" width="3.2" height="3.2"/><rect x="196.8" y="346.2" width="3.2" height="3.2"/><rect x="196.8" y="351.6" width="3.2" height="3.2"/></g>
<g fill="#cf0f3a"><rect x="212.6" y="329.9" width="3.2" height="3.2"/><rect x="214.9" y="328.6" width="3.2" height="3.2"/><rect x="212.8" y="338.8" width="3.2" height="3.2"/><rect x="212.8" y="343.1" width="3.2" height="3.2"/><rect x="212.8" y="349.6" width="3.2" height="3.2"/><rect x="209.4" y="353.9" width="3.2" height="3.2"/><rect x="214.2" y="354.8" width="3.2" height="3.2"/><rect x="216.9" y="356.4" width="3.2" height="3.2"/><rect x="211.5" y="357.1" width="3.2" height="3.2"/><rect x="212.8" y="360.7" width="3.2" height="3.2"/></g>
<g fill="#0d4f8f"><polygon points="229,313.28 230.92,315.2 229,317.12 227.08,315.2"/><polygon points="233.5,312.48 235.42,314.4 233.5,316.32 231.58,314.4"/><polygon points="231.3,317.48 233.22,319.4 231.3,321.32 229.38,319.4"/><polygon points="230.9,322.18 232.82,324.1 230.9,326.02 228.98,324.1"/><polygon points="231.3,325.88 233.22,327.8 231.3,329.72 229.38,327.8"/><polygon points="226.6,327.38 228.52,329.3 226.6,331.22 224.68,329.3"/><polygon points="235.9,327.38 237.82,329.3 235.9,331.22 233.98,329.3"/><polygon points="231.3,331.08 233.22,333 231.3,334.92 229.38,333"/><polygon points="229,336.08 230.92,338 229,339.92 227.08,338"/><polygon points="233.1,337.38 235.02,339.3 233.1,341.22 231.18,339.3"/></g>
<g fill="#0d4f8f"><polygon points="243.9,315.68 245.82,317.6 243.9,319.52 241.98,317.6"/><polygon points="247.9,317.48 249.82,319.4 247.9,321.32 245.98,319.4"/><polygon points="245.7,322.18 247.62,324.1 245.7,326.02 243.78,324.1"/><polygon points="250.7,323.08 252.62,325 250.7,326.92 248.78,325"/><polygon points="243.9,325.88 245.82,327.8 243.9,329.72 241.98,327.8"/><polygon points="251.3,327.38 253.22,329.3 251.3,331.22 249.38,329.3"/><polygon points="247.9,328.68 249.82,330.6 247.9,332.52 245.98,330.6"/><polygon points="244.2,333.28 246.12,335.2 244.2,337.12 242.28,335.2"/><polygon points="247.9,332.88 249.82,334.8 247.9,336.72 245.98,334.8"/><polygon points="251.3,333.68 253.22,335.6 251.3,337.52 249.38,335.6"/><polygon points="243.3,335.08 245.22,337 243.3,338.92 241.38,337"/></g>
<line x1="187.7" y1="304.4" x2="187.7" y2="371.7" stroke="#111" stroke-width="1.2"/>
<line x1="187.1" y1="371.1" x2="258.3" y2="371.1" stroke="#111" stroke-width="1.2"/>
<line x1="184.7" y1="307.8" x2="187.7" y2="307.8" stroke="#111" stroke-width="1"/>
<line x1="184.7" y1="320.6" x2="187.7" y2="320.6" stroke="#111" stroke-width="1"/>
<line x1="184.7" y1="333.4" x2="187.7" y2="333.4" stroke="#111" stroke-width="1"/>
<line x1="184.7" y1="346.1" x2="187.7" y2="346.1" stroke="#111" stroke-width="1"/>
<line x1="184.7" y1="358.6" x2="187.7" y2="358.6" stroke="#111" stroke-width="1"/>
<line x1="184.7" y1="371.1" x2="187.7" y2="371.1" stroke="#111" stroke-width="1"/>
<line x1="198.7" y1="371.1" x2="198.7" y2="374.3" stroke="#111" stroke-width="1"/>
<line x1="215.05" y1="371.1" x2="215.05" y2="374.3" stroke="#111" stroke-width="1"/>
<line x1="231.15" y1="371.1" x2="231.15" y2="374.3" stroke="#111" stroke-width="1"/>
<line x1="247.4" y1="371.1" x2="247.4" y2="374.3" stroke="#111" stroke-width="1"/>
<text x="181.3" y="310.75" font-size="8.5" text-anchor="end" font-weight="normal" font-style="normal" fill="#2a2a2a" stroke="#2a2a2a" stroke-width="0.13" textLength="8.51" lengthAdjust="spacingAndGlyphs">36</text>
<text x="181.3" y="323.55" font-size="8.5" text-anchor="end" font-weight="normal" font-style="normal" fill="#2a2a2a" stroke="#2a2a2a" stroke-width="0.13" textLength="8.51" lengthAdjust="spacingAndGlyphs">35</text>
<text x="181.3" y="336.35" font-size="8.5" text-anchor="end" font-weight="normal" font-style="normal" fill="#2a2a2a" stroke="#2a2a2a" stroke-width="0.13" textLength="8.51" lengthAdjust="spacingAndGlyphs">34</text>
<text x="181.3" y="349.05" font-size="8.5" text-anchor="end" font-weight="normal" font-style="normal" fill="#2a2a2a" stroke="#2a2a2a" stroke-width="0.13" textLength="8.51" lengthAdjust="spacingAndGlyphs">33</text>
<text x="181.3" y="361.55" font-size="8.5" text-anchor="end" font-weight="normal" font-style="normal" fill="#2a2a2a" stroke="#2a2a2a" stroke-width="0.13" textLength="8.51" lengthAdjust="spacingAndGlyphs">32</text>
<text x="181.3" y="374.05" font-size="8.5" text-anchor="end" font-weight="normal" font-style="normal" fill="#2a2a2a" stroke="#2a2a2a" stroke-width="0.13" textLength="8.51" lengthAdjust="spacingAndGlyphs">31</text>
<line x1="194.1" y1="301.2" x2="235.9" y2="301.2" stroke="#4a4a4a" stroke-width="1.2"/>
<path d="M211.77 297.35L214.03 298.65M212.9 296.7L212.9 299.3M214.03 297.35L211.77 298.65" stroke="#111" stroke-width="0.65" stroke-linecap="round"/><circle cx="212.9" cy="298" r="0.81" fill="#111"/>
<path d="M215.97 297.35L218.23 298.65M217.1 296.7L217.1 299.3M218.23 297.35L215.97 298.65" stroke="#111" stroke-width="0.65" stroke-linecap="round"/><circle cx="217.1" cy="298" r="0.81" fill="#111"/>
<line x1="225.2" y1="312.4" x2="251.9" y2="312.4" stroke="#4a4a4a" stroke-width="1.2"/>
<text x="238.55" y="310.2" font-size="7.8" text-anchor="middle" font-weight="normal" font-style="normal" fill="#222" stroke="#222" stroke-width="0.1" textLength="9.9" lengthAdjust="spacingAndGlyphs">NS</text>
<line x1="194.1" y1="326" x2="220.3" y2="326" stroke="#4a4a4a" stroke-width="1.2"/>
<path d="M206.07 322.15L208.33 323.45M207.2 321.5L207.2 324.1M208.33 322.15L206.07 323.45" stroke="#111" stroke-width="0.65" stroke-linecap="round"/><circle cx="207.2" cy="322.8" r="0.81" fill="#111"/>
<text x="179.2" y="383.6" font-size="8.4" text-anchor="middle" font-weight="normal" font-style="normal" fill="#2a2a2a" stroke="#2a2a2a" stroke-width="0.13" textLength="17.6" lengthAdjust="spacingAndGlyphs">IL-33</text>
<line x1="196.5" y1="380.8" x2="200.9" y2="380.8" stroke="#333" stroke-width="0.8"/>
<line x1="212.8" y1="380.8" x2="217.2" y2="380.8" stroke="#333" stroke-width="0.8"/>
<line x1="215" y1="378.6" x2="215" y2="383" stroke="#333" stroke-width="0.8"/>
<line x1="228.9" y1="380.8" x2="233.3" y2="380.8" stroke="#333" stroke-width="0.8"/>
<line x1="245.2" y1="380.8" x2="249.6" y2="380.8" stroke="#333" stroke-width="0.8"/>
<line x1="247.4" y1="378.6" x2="247.4" y2="383" stroke="#333" stroke-width="0.8"/>
<text x="166.5" y="337.2" font-size="9.2" text-anchor="middle" font-weight="normal" font-style="normal" fill="#2a2a2a" stroke="#2a2a2a" stroke-width="0.13" textLength="34.4" lengthAdjust="spacingAndGlyphs" transform="rotate(-90 166.5 337.2)">Temp (°C)</text>
<text x="267.6" y="279.8" font-size="11" text-anchor="start" font-weight="bold" font-style="normal" fill="#000" textLength="9" lengthAdjust="spacingAndGlyphs">G</text>
<line x1="299.6" y1="315" x2="299.6" y2="371.05" stroke="#111" stroke-width="1.1"/>
<line x1="296.4" y1="318.8" x2="299.6" y2="318.8" stroke="#111" stroke-width="1"/>
<line x1="296.4" y1="344.65" x2="299.6" y2="344.65" stroke="#111" stroke-width="1"/>
<line x1="296.4" y1="370.5" x2="299.6" y2="370.5" stroke="#111" stroke-width="1"/>
<line x1="298.4" y1="370.5" x2="386.8" y2="370.5" stroke="#111" stroke-width="1.1"/>
<line x1="299.6" y1="370.5" x2="299.6" y2="373.5" stroke="#111" stroke-width="1"/>
<line x1="316.2" y1="370.5" x2="316.2" y2="373.5" stroke="#111" stroke-width="1"/>
<line x1="332.8" y1="370.5" x2="332.8" y2="373.5" stroke="#111" stroke-width="1"/>
<line x1="349.4" y1="370.5" x2="349.4" y2="373.5" stroke="#111" stroke-width="1"/>
<line x1="366" y1="370.5" x2="366" y2="373.5" stroke="#111" stroke-width="1"/>
<line x1="382.6" y1="370.5" x2="382.6" y2="373.5" stroke="#111" stroke-width="1"/>
<text x="294.2" y="321.75" font-size="8.6" text-anchor="end" font-weight="normal" font-style="normal" fill="#2a2a2a" stroke="#2a2a2a" stroke-width="0.13" textLength="12.63" lengthAdjust="spacingAndGlyphs">100</text>
<text x="294.2" y="347.55" font-size="8.6" text-anchor="end" font-weight="normal" font-style="normal" fill="#2a2a2a" stroke="#2a2a2a" stroke-width="0.13" textLength="8.42" lengthAdjust="spacingAndGlyphs">50</text>
<text x="294.2" y="373.45" font-size="8.6" text-anchor="end" font-weight="normal" font-style="normal" fill="#2a2a2a" stroke="#2a2a2a" stroke-width="0.13" textLength="4.21" lengthAdjust="spacingAndGlyphs">0</text>
<text x="299.6" y="383.4" font-size="8.5" text-anchor="middle" font-weight="normal" font-style="normal" fill="#2a2a2a" stroke="#2a2a2a" stroke-width="0.13" textLength="4.49" lengthAdjust="spacingAndGlyphs">0</text>
<text x="316.2" y="383.4" font-size="8.5" text-anchor="middle" font-weight="normal" font-style="normal" fill="#2a2a2a" stroke="#2a2a2a" stroke-width="0.13" textLength="4.49" lengthAdjust="spacingAndGlyphs">1</text>
<text x="332.8" y="383.4" font-size="8.5" text-anchor="middle" font-weight="normal" font-style="normal" fill="#2a2a2a" stroke="#2a2a2a" stroke-width="0.13" textLength="4.49" lengthAdjust="spacingAndGlyphs">2</text>
<text x="349.4" y="383.4" font-size="8.5" text-anchor="middle" font-weight="normal" font-style="normal" fill="#2a2a2a" stroke="#2a2a2a" stroke-width="0.13" textLength="4.49" lengthAdjust="spacingAndGlyphs">3</text>
<text x="366" y="383.4" font-size="8.5" text-anchor="middle" font-weight="normal" font-style="normal" fill="#2a2a2a" stroke="#2a2a2a" stroke-width="0.13" textLength="4.49" lengthAdjust="spacingAndGlyphs">4</text>
<text x="382.6" y="383.4" font-size="8.5" text-anchor="middle" font-weight="normal" font-style="normal" fill="#2a2a2a" stroke="#2a2a2a" stroke-width="0.13" textLength="4.49" lengthAdjust="spacingAndGlyphs">5</text>
<text x="343.6" y="395.9" font-size="9" text-anchor="middle" font-weight="normal" font-style="normal" fill="#2a2a2a" stroke="#2a2a2a" stroke-width="0.13" textLength="27" lengthAdjust="spacingAndGlyphs">Time (d)</text>
<text x="275.6" y="342" font-size="9" text-anchor="middle" font-weight="normal" font-style="normal" fill="#2a2a2a" stroke="#2a2a2a" stroke-width="0.13" textLength="39.3" lengthAdjust="spacingAndGlyphs" transform="rotate(-90 275.6 342)">Survival (%)</text>
<path d="M316.2 318.8 H349.4 V323.97 H366 V329.14 H382.6" stroke="#16508a" stroke-width="1.3" fill="none"/>
<path d="M299.6 318.8 H316.2 V323.97 H332.8 V334.31 H349.4 V344.65 H366 V354.99 H382.6 V360.16" stroke="#c8143c" stroke-width="1.3" fill="none"/>
<text x="306.2" y="351.1" font-size="8.9" text-anchor="start" font-weight="normal" font-style="normal" fill="#d9304f" stroke="#d9304f" stroke-width="0.13" textLength="18.8" lengthAdjust="spacingAndGlyphs">n=10</text>
<text x="306.2" y="361.1" font-size="8.9" text-anchor="start" font-weight="normal" font-style="normal" fill="#3a74ad" stroke="#3a74ad" stroke-width="0.13" textLength="18.8" lengthAdjust="spacingAndGlyphs">n=10</text>
<line x1="300.1" y1="287.3" x2="308.3" y2="287.3" stroke="#c8143c" stroke-width="1.3"/>
<line x1="300.1" y1="298.4" x2="308.3" y2="298.4" stroke="#16508a" stroke-width="1.3"/>
<text x="312.6" y="290.8" font-size="7.6" text-anchor="start" font-weight="normal" font-style="normal" fill="#333" stroke="#333" stroke-width="0.1" textLength="19" lengthAdjust="spacingAndGlyphs"><tspan font-size="7.6" font-style="italic" dy="-0">Il33</tspan><tspan font-size="4.56" font-style="italic" dy="-3.42">fl/fl</tspan></text>
<text x="312.6" y="301.6" font-size="7.6" text-anchor="start" font-weight="normal" font-style="normal" fill="#333" stroke="#333" stroke-width="0.1" textLength="38.1" lengthAdjust="spacingAndGlyphs"><tspan font-size="7.6" font-style="italic" dy="-0">Vil1</tspan><tspan font-size="4.56" font-style="italic" dy="-3.42">cre</tspan><tspan font-size="7.6" font-style="italic" dy="3.42">Il33</tspan><tspan font-size="4.56" font-style="italic" dy="-3.42">fl/fl</tspan></text>
<line x1="357.6" y1="282.3" x2="357.6" y2="301.1" stroke="#444" stroke-width="1.2"/>
<path d="M360.57 286.65L362.83 287.95M361.7 286L361.7 288.6M362.83 286.65L360.57 287.95" stroke="#111" stroke-width="0.65" stroke-linecap="round"/><circle cx="361.7" cy="287.3" r="0.81" fill="#111"/>
<path d="M360.57 293.05L362.83 294.35M361.7 292.4L361.7 295M362.83 293.05L360.57 294.35" stroke="#111" stroke-width="0.65" stroke-linecap="round"/><circle cx="361.7" cy="293.7" r="0.81" fill="#111"/>
<text x="394.4" y="279.8" font-size="11" text-anchor="start" font-weight="bold" font-style="normal" fill="#000" textLength="8.4" lengthAdjust="spacingAndGlyphs">H</text>
<line x1="425" y1="315" x2="425" y2="371.05" stroke="#111" stroke-width="1.1"/>
<line x1="421.8" y1="319.4" x2="425" y2="319.4" stroke="#111" stroke-width="1"/>
<line x1="421.8" y1="344.95" x2="425" y2="344.95" stroke="#111" stroke-width="1"/>
<line x1="421.8" y1="370.5" x2="425" y2="370.5" stroke="#111" stroke-width="1"/>
<line x1="423.8" y1="370.5" x2="511.3" y2="370.5" stroke="#111" stroke-width="1.1"/>
<line x1="425" y1="370.5" x2="425" y2="373.5" stroke="#111" stroke-width="1"/>
<line x1="441.4" y1="370.5" x2="441.4" y2="373.5" stroke="#111" stroke-width="1"/>
<line x1="457.8" y1="370.5" x2="457.8" y2="373.5" stroke="#111" stroke-width="1"/>
<line x1="474.2" y1="370.5" x2="474.2" y2="373.5" stroke="#111" stroke-width="1"/>
<line x1="490.6" y1="370.5" x2="490.6" y2="373.5" stroke="#111" stroke-width="1"/>
<line x1="507" y1="370.5" x2="507" y2="373.5" stroke="#111" stroke-width="1"/>
<text x="419.6" y="322.35" font-size="8.6" text-anchor="end" font-weight="normal" font-style="normal" fill="#2a2a2a" stroke="#2a2a2a" stroke-width="0.13" textLength="12.63" lengthAdjust="spacingAndGlyphs">100</text>
<text x="419.6" y="347.95" font-size="8.6" text-anchor="end" font-weight="normal" font-style="normal" fill="#2a2a2a" stroke="#2a2a2a" stroke-width="0.13" textLength="8.42" lengthAdjust="spacingAndGlyphs">50</text>
<text x="419.6" y="373.45" font-size="8.6" text-anchor="end" font-weight="normal" font-style="normal" fill="#2a2a2a" stroke="#2a2a2a" stroke-width="0.13" textLength="4.21" lengthAdjust="spacingAndGlyphs">0</text>
<text x="425" y="383.4" font-size="8.5" text-anchor="middle" font-weight="normal" font-style="normal" fill="#2a2a2a" stroke="#2a2a2a" stroke-width="0.13" textLength="4.49" lengthAdjust="spacingAndGlyphs">0</text>
<text x="441.4" y="383.4" font-size="8.5" text-anchor="middle" font-weight="normal" font-style="normal" fill="#2a2a2a" stroke="#2a2a2a" stroke-width="0.13" textLength="4.49" lengthAdjust="spacingAndGlyphs">1</text>
<text x="457.8" y="383.4" font-size="8.5" text-anchor="middle" font-weight="normal" font-style="normal" fill="#2a2a2a" stroke="#2a2a2a" stroke-width="0.13" textLength="4.49" lengthAdjust="spacingAndGlyphs">2</text>
<text x="474.2" y="383.4" font-size="8.5" text-anchor="middle" font-weight="normal" font-style="normal" fill="#2a2a2a" stroke="#2a2a2a" stroke-width="0.13" textLength="4.49" lengthAdjust="spacingAndGlyphs">3</text>
<text x="490.6" y="383.4" font-size="8.5" text-anchor="middle" font-weight="normal" font-style="normal" fill="#2a2a2a" stroke="#2a2a2a" stroke-width="0.13" textLength="4.49" lengthAdjust="spacingAndGlyphs">4</text>
<text x="507" y="383.4" font-size="8.5" text-anchor="middle" font-weight="normal" font-style="normal" fill="#2a2a2a" stroke="#2a2a2a" stroke-width="0.13" textLength="4.49" lengthAdjust="spacingAndGlyphs">5</text>
<text x="468.6" y="395.9" font-size="9" text-anchor="middle" font-weight="normal" font-style="normal" fill="#2a2a2a" stroke="#2a2a2a" stroke-width="0.13" textLength="27" lengthAdjust="spacingAndGlyphs">Time (d)</text>
<text x="401" y="342" font-size="9" text-anchor="middle" font-weight="normal" font-style="normal" fill="#2a2a2a" stroke="#2a2a2a" stroke-width="0.13" textLength="39.3" lengthAdjust="spacingAndGlyphs" transform="rotate(-90 401 342)">Survival (%)</text>
<path d="M441.4 319.4 H507 V324.51" stroke="#16508a" stroke-width="1.3" fill="none"/>
<path d="M425 319.4 H441.4 V334.73 H457.8 V339.84 H474.2 V350.06 H490.6 V360.28 H507" stroke="#c8143c" stroke-width="1.3" fill="none"/>
<text x="431.2" y="351.8" font-size="8.9" text-anchor="start" font-weight="normal" font-style="normal" fill="#d9304f" stroke="#d9304f" stroke-width="0.13" textLength="18.8" lengthAdjust="spacingAndGlyphs">n=10</text>
<text x="431.2" y="362.6" font-size="8.9" text-anchor="start" font-weight="normal" font-style="normal" fill="#3a74ad" stroke="#3a74ad" stroke-width="0.13" textLength="18.8" lengthAdjust="spacingAndGlyphs">n=10</text>
<line x1="431.3" y1="287.5" x2="439.5" y2="287.5" stroke="#c8143c" stroke-width="1.3"/>
<line x1="431.3" y1="298.3" x2="439.5" y2="298.3" stroke="#16508a" stroke-width="1.3"/>
<text x="443" y="290.6" font-size="7.6" text-anchor="start" font-weight="normal" font-style="normal" fill="#333" stroke="#333" stroke-width="0.1" textLength="24" lengthAdjust="spacingAndGlyphs"><tspan font-size="7.6" font-style="italic" dy="-0">Il1rl1</tspan><tspan font-size="4.56" font-style="italic" dy="-3.42">fl/fl</tspan></text>
<text x="443" y="301.4" font-size="7.6" text-anchor="start" font-weight="normal" font-style="normal" fill="#333" stroke="#333" stroke-width="0.1" textLength="55" lengthAdjust="spacingAndGlyphs"><tspan font-size="7.6" font-style="italic" dy="-0">Chga</tspan><tspan font-size="4.56" font-style="italic" dy="-3.42">creER</tspan><tspan font-size="7.6" font-style="italic" dy="3.42">Il1rl1</tspan><tspan font-size="4.56" font-style="italic" dy="-3.42">fl/fl</tspan></text>
<line x1="503.8" y1="282.5" x2="503.8" y2="300.5" stroke="#444" stroke-width="1.2"/>
<path d="M506.37 286.35L508.63 287.65M507.5 285.7L507.5 288.3M508.63 286.35L506.37 287.65" stroke="#111" stroke-width="0.65" stroke-linecap="round"/><circle cx="507.5" cy="287" r="0.81" fill="#111"/>
<path d="M506.37 291.85L508.63 293.15M507.5 291.2L507.5 293.8M508.63 291.85L506.37 293.15" stroke="#111" stroke-width="0.65" stroke-linecap="round"/><circle cx="507.5" cy="292.5" r="0.81" fill="#111"/>
<rect x="0.5" y="0.5" width="519" height="404" fill="none" stroke="#000" stroke-width="1"/>
<line x1="518.6" y1="0" x2="518.6" y2="405" stroke="#000" stroke-width="0.6"/>
<line x1="0" y1="403.6" x2="520" y2="403.6" stroke="#000" stroke-width="0.6"/>
</svg>
</body></html>
